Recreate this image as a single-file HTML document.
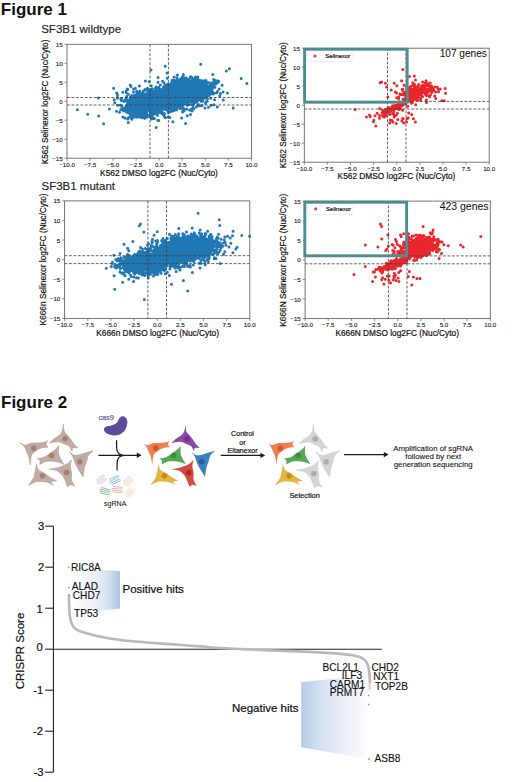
<!DOCTYPE html>
<html><head><meta charset="utf-8"><title>Figure</title><style>
html,body{margin:0;padding:0;background:#fff;width:520px;height:782px;overflow:hidden;}
svg{display:block;}
text{font-family:"Liberation Sans", sans-serif;stroke-linejoin:round;}
.w{stroke:#111;stroke-width:0.25px;}
.fig{font-size:17px;font-weight:bold;fill:#111;}
.sub{font-size:11.5px;fill:#222;stroke:#222;stroke-width:0.15px;}
.tl{font-size:6.2px;fill:#222;stroke:#222;stroke-width:0.12px;}
.al{font-size:8.4px;fill:#111;stroke:#111;stroke-width:0.2px;}
.frame{fill:none;stroke:#5e5e5e;stroke-width:0.85;}
.tick{stroke:#6e6e6e;stroke-width:0.8;}
.dash{stroke:#444;stroke-width:0.85;stroke-dasharray:2.8 1.65;}
.pb{stroke:#1f77b4;stroke-width:3;stroke-linecap:round;fill:none;}
.pr{stroke:#e9262c;stroke-width:3;stroke-linecap:round;fill:none;}
.teal{fill:none;stroke:#4d8d90;stroke-width:2.9;}
.leg{fill:#fff;fill-opacity:0.8;stroke:#e0e0e0;stroke-width:0.5;}
.legt{font-size:6px;fill:#111;stroke:#111;stroke-width:0.2px;}
.genes{font-size:10px;fill:#111;stroke:#111;stroke-width:0.06px;}
.cas{font-size:7.3px;fill:#625a98;stroke:#625a98;stroke-width:0.2px;}
.small{font-size:7.1px;fill:#111;stroke:#111;stroke-width:0.2px;}
.amp{font-size:7.8px;fill:#111;stroke:#111;stroke-width:0.1px;}
.ct{font-size:11.2px;fill:#111;stroke:#111;stroke-width:0.2px;}
.clab{font-size:11.5px;fill:#111;stroke:#111;stroke-width:0.2px;}
.gl{font-size:10.1px;fill:#111;stroke:#111;stroke-width:0.12px;}
.hits{font-size:11.5px;fill:#111;stroke:#111;stroke-width:0.22px;}
</style></head>
<body><svg width="520" height="782" viewBox="0 0 520 782">
<rect width="520" height="782" fill="#fff"/>
<text x="0.8" y="14.7" class="fig">Figure 1</text>
<text x="41.2" y="33.0" class="sub">SF3B1 wildtype</text>
<text x="41.5" y="189.8" class="sub">SF3B1 mutant</text>
<path class="pb" d="M145.4 106.0h0M148.7 106.6h0M142.3 98.0h0M135.5 102.4h0M140.3 101.1h0M134.4 108.1h0M146.0 93.7h0M160.2 94.2h0M139.9 101.7h0M138.5 101.1h0M150.8 115.9h0M149.3 100.9h0M146.5 105.7h0M135.1 102.7h0M145.0 100.8h0M153.1 106.2h0M130.5 115.0h0M140.3 102.8h0M124.3 110.0h0M131.1 107.3h0M125.0 109.1h0M142.8 106.7h0M131.3 118.5h0M148.4 97.6h0M147.1 103.1h0M143.3 98.5h0M117.5 94.9h0M139.4 104.8h0M144.8 114.9h0M146.6 109.7h0M128.4 112.4h0M140.1 107.8h0M134.5 104.8h0M136.4 116.5h0M157.1 102.1h0M136.4 113.7h0M145.0 103.0h0M155.2 104.8h0M138.9 106.8h0M144.1 105.1h0M146.6 107.7h0M146.1 108.1h0M131.8 114.9h0M146.2 104.8h0M160.4 93.4h0M128.3 94.3h0M154.9 96.7h0M146.7 100.6h0M138.3 108.9h0M167.5 95.4h0M153.8 104.6h0M132.1 105.7h0M146.2 106.3h0M151.8 103.8h0M143.3 107.2h0M152.9 104.8h0M144.6 110.9h0M152.8 106.4h0M161.3 90.9h0M137.9 105.4h0M147.6 105.9h0M140.2 101.9h0M146.8 100.6h0M132.2 111.7h0M139.0 106.2h0M143.2 99.6h0M155.3 102.6h0M158.0 103.3h0M130.7 96.6h0M136.6 109.0h0M152.5 103.8h0M123.3 108.7h0M140.2 96.5h0M144.3 115.8h0M159.3 107.7h0M153.0 107.3h0M141.7 101.1h0M141.3 101.4h0M142.6 96.9h0M162.2 112.7h0M140.6 100.7h0M142.0 106.5h0M149.3 108.2h0M144.0 101.7h0M143.2 110.0h0M133.0 117.1h0M145.2 106.8h0M140.5 113.4h0M158.3 107.7h0M152.6 102.2h0M145.1 102.9h0M152.8 95.3h0M141.6 106.0h0M157.0 112.8h0M145.3 109.0h0M151.8 109.5h0M131.1 112.3h0M149.2 102.0h0M126.7 109.3h0M122.9 117.0h0M142.0 100.9h0M135.4 105.8h0M147.2 102.6h0M170.2 102.8h0M136.2 101.6h0M138.5 104.8h0M147.6 97.5h0M150.8 102.0h0M143.4 102.5h0M143.1 102.5h0M153.1 112.5h0M151.1 105.3h0M133.9 106.7h0M144.5 103.5h0M145.8 112.3h0M133.7 96.0h0M148.2 103.9h0M135.9 112.0h0M156.1 113.8h0M147.5 106.2h0M146.4 105.1h0M138.8 109.1h0M144.1 104.2h0M123.3 109.4h0M132.9 102.2h0M149.4 108.6h0M121.8 106.1h0M154.7 98.6h0M126.1 91.1h0M153.7 109.9h0M136.0 107.8h0M154.0 109.0h0M146.8 100.1h0M128.4 112.0h0M159.2 106.7h0M161.3 104.0h0M144.6 110.3h0M142.3 110.2h0M143.6 107.5h0M134.6 117.1h0M157.5 112.2h0M139.4 107.3h0M144.8 103.9h0M136.6 106.2h0M138.4 115.1h0M131.2 108.0h0M159.3 99.4h0M143.7 101.6h0M156.1 104.6h0M145.5 109.7h0M137.7 101.5h0M141.8 108.1h0M139.2 111.6h0M145.5 109.2h0M141.2 96.7h0M142.1 103.6h0M130.1 98.9h0M136.4 107.8h0M163.7 98.4h0M137.9 108.5h0M133.7 106.2h0M149.1 90.4h0M160.9 99.5h0M129.3 108.3h0M143.1 105.3h0M138.4 103.2h0M125.9 98.8h0M153.5 107.0h0M145.1 114.5h0M146.2 106.2h0M137.0 105.0h0M150.4 103.8h0M139.4 97.5h0M143.8 103.0h0M133.1 100.7h0M131.9 111.6h0M160.1 99.0h0M139.8 93.1h0M148.6 100.1h0M145.0 103.2h0M140.5 104.0h0M139.7 94.8h0M152.3 109.6h0M142.0 105.5h0M143.7 102.1h0M145.6 100.4h0M158.4 106.5h0M152.9 102.5h0M149.6 106.0h0M139.1 104.3h0M130.1 106.2h0M155.9 110.6h0M156.1 104.2h0M143.8 99.8h0M151.4 109.8h0M154.0 105.6h0M154.6 100.4h0M155.6 110.2h0M140.3 103.9h0M162.1 109.8h0M131.6 98.9h0M154.9 91.1h0M150.8 92.9h0M155.0 105.4h0M166.2 99.4h0M161.8 103.1h0M132.7 104.7h0M126.7 96.9h0M154.4 111.7h0M134.1 99.3h0M145.2 105.0h0M154.7 96.2h0M127.2 104.5h0M122.0 109.7h0M148.2 102.9h0M145.9 100.5h0M142.7 104.6h0M145.8 101.9h0M135.8 108.1h0M128.6 117.6h0M143.5 99.7h0M134.6 101.3h0M127.2 104.8h0M151.0 104.0h0M144.7 98.8h0M149.9 107.0h0M134.4 109.2h0M138.1 106.1h0M134.3 98.5h0M135.6 113.0h0M147.5 97.8h0M136.7 108.7h0M149.3 110.7h0M149.1 97.3h0M167.8 104.1h0M130.0 112.8h0M155.2 106.2h0M144.4 99.4h0M145.2 97.9h0M129.3 107.9h0M140.3 102.6h0M153.6 100.2h0M144.5 108.4h0M146.3 102.6h0M142.2 105.0h0M158.1 107.0h0M145.1 107.5h0M121.0 105.5h0M137.7 104.9h0M123.6 109.0h0M109.4 108.9h0M139.5 98.7h0M160.1 102.7h0M145.9 99.6h0M132.4 98.5h0M135.0 101.9h0M157.9 91.2h0M147.1 109.3h0M145.9 100.1h0M144.8 106.5h0M145.8 94.1h0M154.3 94.6h0M151.5 115.4h0M147.8 110.0h0M133.8 101.5h0M151.0 99.9h0M137.8 100.9h0M157.5 104.4h0M131.3 102.8h0M143.8 101.0h0M145.3 105.1h0M130.7 99.6h0M164.4 116.5h0M161.5 100.2h0M140.2 110.8h0M153.9 98.8h0M149.6 105.7h0M116.5 111.2h0M148.1 102.4h0M144.7 109.9h0M146.3 109.8h0M133.5 114.2h0M142.4 105.0h0M143.4 102.0h0M158.5 98.2h0M149.1 105.3h0M145.3 98.7h0M162.3 103.7h0M139.2 105.5h0M141.1 101.6h0M125.3 99.7h0M162.7 105.7h0M156.0 105.5h0M155.5 105.1h0M152.8 103.8h0M146.6 109.7h0M147.8 98.7h0M142.6 107.1h0M143.1 102.2h0M146.0 109.3h0M162.1 101.8h0M151.5 102.1h0M144.7 107.1h0M139.0 93.5h0M138.3 102.9h0M163.1 93.7h0M151.0 98.9h0M146.1 108.4h0M141.5 107.0h0M133.1 102.8h0M144.6 104.4h0M155.0 103.9h0M141.0 106.5h0M142.9 115.0h0M142.9 106.1h0M146.6 117.2h0M127.7 103.5h0M142.8 108.9h0M135.9 109.2h0M155.2 105.4h0M136.8 103.6h0M151.8 112.5h0M162.2 113.7h0M141.9 110.9h0M138.7 116.6h0M147.5 110.0h0M145.3 95.7h0M134.4 111.2h0M150.5 100.7h0M167.7 111.3h0M142.5 103.1h0M143.1 106.6h0M133.8 105.6h0M148.9 101.3h0M131.6 95.4h0M133.1 104.2h0M159.5 103.2h0M135.4 110.7h0M157.3 100.7h0M162.2 105.2h0M148.2 99.8h0M151.5 104.6h0M167.0 93.7h0M143.2 116.0h0M138.8 106.7h0M130.4 100.4h0M145.8 106.6h0M161.7 108.3h0M156.0 105.6h0M134.9 113.0h0M135.9 104.5h0M139.8 91.1h0M148.6 98.0h0M143.1 111.1h0M147.7 109.5h0M148.7 106.8h0M142.1 99.1h0M144.9 109.3h0M147.7 108.5h0M144.4 99.7h0M150.9 99.5h0M166.1 105.7h0M151.9 110.7h0M146.0 113.4h0M126.7 109.6h0M149.7 117.1h0M123.8 101.5h0M129.8 109.0h0M154.8 101.5h0M153.2 93.7h0M143.7 98.1h0M126.5 112.2h0M141.3 100.0h0M137.9 98.5h0M152.4 108.5h0M170.3 108.8h0M147.8 105.2h0M136.7 114.2h0M132.4 97.0h0M144.7 118.3h0M143.4 111.0h0M132.6 106.9h0M146.7 105.9h0M132.6 104.4h0M157.7 102.5h0M157.1 105.3h0M157.4 97.6h0M140.1 117.1h0M151.1 104.4h0M143.9 108.8h0M141.1 104.1h0M141.6 103.6h0M131.0 110.6h0M129.4 109.1h0M154.2 99.7h0M143.3 102.8h0M147.8 108.4h0M156.5 92.5h0M126.2 92.6h0M136.7 113.4h0M147.3 102.9h0M149.7 90.2h0M141.2 100.4h0M156.8 102.8h0M147.7 105.7h0M131.9 108.4h0M135.1 106.4h0M154.3 107.3h0M150.5 100.2h0M124.4 108.0h0M160.3 106.4h0M152.0 111.1h0M160.2 104.2h0M141.1 110.0h0M142.1 105.9h0M132.9 99.4h0M173.4 101.1h0M143.4 101.9h0M162.9 101.7h0M138.2 104.7h0M147.2 105.3h0M126.9 107.4h0M141.1 100.6h0M156.3 110.3h0M131.5 97.8h0M157.2 103.9h0M149.1 108.7h0M133.8 108.0h0M139.8 108.8h0M140.3 104.0h0M144.8 108.8h0M139.4 98.5h0M136.2 109.6h0M142.0 117.7h0M134.0 109.4h0M131.1 116.8h0M144.8 104.9h0M155.1 98.2h0M128.4 101.9h0M145.4 112.2h0M138.2 109.4h0M134.6 95.1h0M154.8 102.4h0M139.6 104.9h0M161.9 97.8h0M136.7 91.2h0M149.6 97.1h0M142.9 104.0h0M137.0 103.1h0M151.9 100.8h0M143.7 108.2h0M152.0 110.3h0M144.8 104.4h0M133.4 110.7h0M144.2 105.1h0M145.9 104.1h0M156.0 90.9h0M135.3 110.0h0M144.9 105.4h0M126.3 106.6h0M152.6 101.8h0M133.4 99.4h0M125.4 108.5h0M144.7 109.4h0M157.6 113.3h0M128.5 110.8h0M133.3 102.2h0M137.1 104.8h0M132.9 111.1h0M149.6 106.6h0M136.4 104.9h0M137.4 102.2h0M151.8 107.7h0M137.0 106.5h0M150.2 114.7h0M134.6 111.7h0M132.0 96.2h0M125.1 118.1h0M166.0 105.5h0M141.8 103.6h0M148.1 106.6h0M145.0 109.3h0M147.1 104.9h0M145.9 104.7h0M166.5 104.0h0M133.9 115.9h0M128.1 106.4h0M134.2 110.1h0M130.6 108.5h0M153.6 103.0h0M154.4 100.6h0M134.7 100.1h0M130.0 108.3h0M141.4 99.6h0M160.8 97.2h0M114.2 99.8h0M151.2 96.5h0M133.5 106.1h0M156.9 105.1h0M133.4 100.6h0M142.2 112.6h0M128.7 104.3h0M134.6 108.2h0M160.7 106.0h0M154.4 114.1h0M140.9 109.9h0M135.7 105.3h0M124.4 100.7h0M141.0 99.3h0M145.0 105.1h0M144.4 105.8h0M144.3 109.4h0M133.0 103.0h0M144.6 106.1h0M144.9 101.3h0M159.6 94.0h0M166.0 103.8h0M143.9 113.2h0M136.9 110.0h0M144.7 113.0h0M138.6 111.8h0M137.2 97.7h0M144.7 103.4h0M133.8 113.9h0M152.1 100.6h0M144.2 97.6h0M148.1 106.6h0M143.3 108.6h0M137.3 107.0h0M134.9 103.6h0M142.7 101.2h0M139.3 98.3h0M148.0 97.7h0M145.3 98.0h0M130.3 97.7h0M146.1 100.9h0M130.5 114.1h0M138.5 105.8h0M142.1 103.1h0M122.4 108.0h0M146.4 99.5h0M147.0 106.6h0M143.6 110.0h0M140.7 96.7h0M141.2 101.1h0M134.6 104.0h0M142.4 99.6h0M139.3 99.0h0M146.4 102.7h0M132.0 119.3h0M148.0 108.4h0M147.0 107.2h0M143.8 110.3h0M140.5 103.8h0M151.5 97.6h0M127.0 108.4h0M150.5 110.8h0M148.1 93.0h0M148.5 107.1h0M149.6 111.4h0M138.1 103.7h0M142.5 102.4h0M152.4 108.3h0M150.1 99.9h0M147.7 107.3h0M128.6 110.8h0M151.3 103.3h0M158.3 99.6h0M156.5 107.7h0M148.0 102.7h0M128.1 106.1h0M155.8 88.1h0M143.7 108.8h0M117.4 98.3h0M149.5 104.7h0M128.9 106.2h0M131.0 101.3h0M138.3 100.0h0M159.4 96.8h0M141.3 103.0h0M148.4 107.9h0M164.7 106.7h0M163.0 100.9h0M144.2 101.4h0M142.7 96.9h0M131.4 103.0h0M137.7 99.1h0M150.1 95.8h0M149.7 103.5h0M146.6 113.0h0M156.4 110.8h0M136.8 113.3h0M144.7 95.7h0M153.5 109.1h0M151.8 97.4h0M157.2 100.7h0M149.8 94.7h0M141.9 99.2h0M149.4 105.0h0M134.3 106.4h0M127.2 105.1h0M151.8 103.3h0M144.8 107.7h0M148.8 104.7h0M126.6 96.5h0M141.3 114.5h0M138.7 103.5h0M135.8 110.3h0M120.4 104.9h0M141.7 100.1h0M155.3 104.5h0M149.6 100.1h0M138.7 114.0h0M145.2 98.4h0M153.7 107.7h0M114.8 102.7h0M144.0 103.7h0M151.4 119.0h0M152.9 108.6h0M164.2 102.4h0M157.9 95.2h0M148.8 102.9h0M148.7 103.0h0M154.1 112.2h0M139.4 96.9h0M144.9 94.5h0M155.4 104.0h0M167.0 104.8h0M143.6 113.9h0M144.8 99.7h0M147.6 89.2h0M160.2 99.8h0M145.0 97.5h0M161.6 100.8h0M134.7 110.8h0M143.3 97.2h0M143.2 111.8h0M154.1 105.4h0M156.9 102.5h0M128.7 100.5h0M135.2 102.8h0M149.1 102.3h0M138.1 109.4h0M128.5 112.8h0M156.9 103.7h0M150.8 108.4h0M150.8 111.8h0M140.1 112.1h0M156.8 106.9h0M142.7 115.3h0M157.5 111.7h0M135.3 114.5h0M135.9 104.1h0M147.6 102.2h0M137.6 93.7h0M152.8 112.8h0M148.2 108.4h0M135.2 100.0h0M146.2 105.9h0M141.5 106.7h0M155.5 94.5h0M138.4 106.9h0M140.5 111.5h0M158.8 111.4h0M170.1 101.5h0M167.5 101.8h0M146.1 112.4h0M147.8 110.1h0M162.3 100.8h0M144.0 101.5h0M134.6 108.9h0M146.7 101.1h0M150.4 101.2h0M136.2 115.2h0M127.2 107.4h0M129.5 103.1h0M152.7 107.5h0M137.0 117.2h0M143.8 106.4h0M147.7 100.3h0M152.2 95.4h0M141.7 117.3h0M150.9 89.6h0M135.5 111.6h0M141.4 99.5h0M134.0 98.3h0M157.9 98.5h0M145.1 103.8h0M137.2 111.7h0M141.5 101.3h0M142.9 108.8h0M153.1 118.6h0M127.7 89.5h0M133.9 101.2h0M141.2 94.6h0M173.4 108.4h0M155.9 95.8h0M144.1 95.7h0M153.2 95.5h0M168.1 103.6h0M176.0 98.9h0M186.8 93.2h0M165.3 87.0h0M170.7 89.9h0M189.7 91.8h0M178.2 85.5h0M187.0 94.5h0M187.5 88.2h0M209.2 90.9h0M202.5 92.9h0M188.2 87.3h0M201.5 93.6h0M180.4 80.9h0M185.1 92.4h0M198.4 79.7h0M175.5 95.2h0M185.7 86.8h0M174.7 95.8h0M189.9 95.8h0M206.0 88.0h0M180.7 86.6h0M191.1 95.4h0M179.2 84.3h0M176.5 93.8h0M175.6 89.4h0M204.1 87.0h0M213.8 85.6h0M193.8 97.7h0M181.1 82.2h0M196.2 86.5h0M185.2 91.6h0M197.2 93.9h0M191.8 97.3h0M191.7 95.8h0M195.1 86.6h0M182.6 91.4h0M184.4 95.0h0M170.5 92.8h0M184.0 82.3h0M173.6 91.7h0M187.2 92.3h0M178.6 83.6h0M189.8 87.3h0M193.5 89.1h0M173.6 93.0h0M180.1 97.2h0M178.7 95.5h0M196.6 91.4h0M206.8 89.7h0M197.7 87.4h0M185.0 87.0h0M204.2 87.7h0M172.6 89.2h0M204.6 93.5h0M181.7 100.0h0M159.2 93.3h0M216.8 92.7h0M205.4 91.8h0M177.8 91.3h0M190.5 95.3h0M186.4 94.8h0M189.8 89.9h0M173.0 89.6h0M181.5 92.9h0M193.7 86.9h0M191.1 90.4h0M201.4 93.7h0M189.5 89.3h0M213.6 79.5h0M181.1 93.0h0M191.5 83.9h0M168.4 83.9h0M175.4 83.0h0M202.8 92.7h0M178.7 80.4h0M194.3 88.7h0M188.0 90.7h0M177.6 91.1h0M185.0 86.8h0M183.3 89.5h0M183.5 90.5h0M196.7 83.1h0M195.6 92.6h0M182.6 94.7h0M179.1 86.2h0M191.7 86.0h0M187.6 84.4h0M199.6 94.1h0M216.9 83.1h0M197.6 86.8h0M188.3 81.2h0M186.9 95.5h0M179.6 88.9h0M179.1 91.2h0M178.1 97.5h0M184.5 93.0h0M184.2 84.4h0M196.6 91.3h0M184.5 93.1h0M186.6 85.5h0M175.8 85.4h0M206.1 84.0h0M194.1 93.0h0M207.7 88.9h0M197.2 84.2h0M204.5 91.9h0M186.1 93.1h0M196.3 85.2h0M217.4 80.8h0M175.7 95.5h0M201.2 101.2h0M206.7 95.5h0M193.2 94.1h0M196.8 89.8h0M202.3 86.0h0M181.6 90.5h0M193.1 92.6h0M179.3 89.2h0M181.4 94.4h0M182.0 90.0h0M187.2 92.6h0M190.3 76.8h0M193.6 85.4h0M173.3 94.1h0M210.2 93.2h0M201.3 91.0h0M196.6 96.9h0M184.8 93.1h0M187.7 93.0h0M194.7 85.0h0M193.2 91.3h0M170.5 94.0h0M196.8 95.4h0M220.4 93.6h0M168.6 90.7h0M199.5 90.0h0M192.7 83.9h0M187.5 92.5h0M203.6 83.8h0M175.8 88.8h0M190.5 89.4h0M204.6 98.3h0M186.6 95.7h0M184.2 86.2h0M190.0 82.8h0M183.9 88.7h0M205.6 85.1h0M178.8 91.8h0M198.2 90.8h0M175.1 93.2h0M196.0 84.6h0M187.6 87.9h0M160.6 91.8h0M188.6 91.0h0M177.1 87.4h0M183.9 88.2h0M205.5 92.7h0M176.5 81.9h0M177.1 88.8h0M204.4 88.7h0M190.0 82.4h0M205.5 83.9h0M192.2 89.7h0M179.1 87.4h0M188.0 94.6h0M202.1 91.9h0M199.0 99.7h0M188.7 83.7h0M189.2 98.4h0M187.5 86.3h0M182.4 93.7h0M209.8 93.2h0M188.8 90.4h0M176.4 88.8h0M183.5 86.8h0M196.6 80.8h0M195.7 87.5h0M187.2 85.4h0M181.4 92.6h0M189.0 86.1h0M170.5 89.6h0M174.5 92.3h0M197.4 89.5h0M183.5 90.0h0M192.8 88.4h0M202.0 87.0h0M195.8 91.6h0M188.9 93.0h0M211.9 84.9h0M196.0 97.2h0M184.8 92.6h0M196.7 81.8h0M193.2 102.1h0M179.4 93.2h0M189.5 86.2h0M186.9 97.4h0M167.3 78.2h0M186.8 101.8h0M185.6 82.8h0M183.9 82.3h0M170.8 86.0h0M184.8 90.7h0M188.3 87.8h0M189.8 93.7h0M176.3 86.2h0M195.6 94.5h0M175.5 91.4h0M186.3 84.9h0M202.9 94.1h0M181.2 91.5h0M183.1 89.0h0M200.4 95.3h0M184.5 84.2h0M185.5 88.0h0M191.1 96.5h0M200.1 89.2h0M164.7 94.2h0M179.7 93.0h0M177.7 89.6h0M176.9 93.4h0M179.4 85.3h0M179.6 93.2h0M192.0 84.7h0M179.0 90.1h0M190.0 85.4h0M193.1 91.8h0M180.8 92.2h0M190.1 94.9h0M206.5 86.0h0M192.2 84.9h0M181.8 79.8h0M188.0 83.4h0M178.8 88.7h0M191.6 90.3h0M198.1 87.2h0M179.8 90.0h0M186.4 82.7h0M200.8 84.5h0M183.3 93.7h0M190.7 92.6h0M177.6 83.5h0M179.8 88.4h0M183.2 90.8h0M211.8 82.8h0M184.4 91.5h0M183.1 91.1h0M182.7 91.9h0M186.9 98.8h0M195.7 85.1h0M190.7 95.1h0M210.5 91.2h0M191.0 92.9h0M204.1 85.4h0M191.6 89.7h0M195.1 89.1h0M173.4 98.1h0M187.4 90.0h0M188.0 96.5h0M186.1 88.1h0M165.9 88.8h0M198.0 89.1h0M184.6 80.0h0M184.1 87.2h0M186.0 86.8h0M186.3 88.9h0M193.0 90.2h0M175.2 85.5h0M178.8 84.7h0M191.8 95.5h0M190.2 84.4h0M184.7 87.2h0M182.6 85.2h0M179.9 87.7h0M188.1 95.4h0M201.2 94.5h0M177.5 81.4h0M204.9 87.6h0M197.7 95.8h0M183.9 88.1h0M197.0 90.8h0M173.2 98.9h0M170.3 101.1h0M175.0 97.7h0M184.4 88.4h0M185.3 89.9h0M183.2 90.9h0M189.8 88.1h0M166.1 87.7h0M194.0 99.2h0M173.7 91.6h0M181.7 93.7h0M184.3 95.5h0M176.4 92.6h0M174.2 90.7h0M178.0 91.2h0M188.6 96.4h0M195.0 91.5h0M194.7 79.7h0M178.2 94.9h0M180.3 97.8h0M178.9 88.6h0M193.5 86.4h0M167.1 88.3h0M201.8 94.2h0M183.6 85.0h0M180.4 93.6h0M192.3 94.7h0M199.7 91.9h0M192.3 89.8h0M199.9 85.6h0M190.1 86.5h0M201.7 89.0h0M201.9 84.5h0M187.6 89.1h0M204.0 84.6h0M190.5 96.0h0M189.6 96.9h0M178.9 86.3h0M185.6 96.2h0M196.9 90.5h0M174.8 90.6h0M195.6 91.5h0M192.4 91.5h0M191.6 82.8h0M165.3 102.5h0M187.6 85.4h0M195.6 78.3h0M180.6 89.7h0M189.7 89.5h0M163.5 87.2h0M195.8 80.5h0M181.7 95.4h0M197.9 88.7h0M169.2 91.2h0M196.0 86.5h0M186.2 88.8h0M197.3 86.0h0M178.9 91.9h0M182.1 89.5h0M212.5 91.6h0M179.9 93.0h0M181.2 90.5h0M185.8 90.3h0M177.9 95.5h0M201.3 81.5h0M207.0 89.3h0M181.2 96.3h0M170.4 85.1h0M201.1 92.5h0M200.5 86.6h0M197.4 89.2h0M201.0 87.7h0M179.5 89.1h0M186.9 92.3h0M174.0 89.9h0M173.7 80.6h0M199.1 99.6h0M181.6 89.5h0M212.9 86.3h0M189.5 94.4h0M181.9 96.3h0M197.2 78.9h0M207.8 90.4h0M193.9 79.4h0M175.8 87.5h0M192.6 88.9h0M203.3 86.6h0M183.5 86.7h0M180.5 84.3h0M199.5 86.9h0M190.2 88.7h0M177.0 89.2h0M184.7 83.3h0M180.7 86.0h0M191.8 94.1h0M189.9 92.4h0M200.9 87.4h0M196.2 92.1h0M172.1 92.0h0M193.0 93.8h0M198.2 90.3h0M193.5 87.3h0M199.6 84.3h0M182.9 89.7h0M178.6 80.1h0M198.6 89.4h0M177.4 74.9h0M165.8 85.8h0M199.6 86.6h0M181.0 92.2h0M185.5 103.0h0M173.9 90.9h0M174.6 89.3h0M176.4 81.0h0M184.9 96.2h0M192.6 80.3h0M164.3 91.8h0M196.7 85.7h0M176.2 102.0h0M177.4 89.3h0M195.9 90.8h0M187.9 86.3h0M172.4 89.8h0M208.3 94.0h0M179.6 85.4h0M191.3 86.1h0M190.8 86.6h0M203.7 84.0h0M183.9 84.5h0M199.4 89.1h0M180.8 96.2h0M200.6 95.5h0M180.6 83.5h0M184.9 86.3h0M208.8 88.1h0M192.1 91.4h0M189.9 89.3h0M212.5 88.3h0M192.5 90.9h0M180.1 93.2h0M196.5 78.9h0M176.2 89.0h0M200.7 91.8h0M201.5 95.1h0M182.6 93.2h0M182.0 86.4h0M190.6 85.8h0M188.9 90.5h0M178.3 89.7h0M194.7 90.7h0M167.1 95.7h0M184.1 83.5h0M184.4 87.9h0M185.8 77.9h0M192.0 92.9h0M175.7 90.7h0M194.9 85.0h0M186.8 90.7h0M181.8 96.3h0M174.2 94.6h0M176.2 89.6h0M192.5 87.7h0M178.5 90.4h0M189.4 84.7h0M200.0 84.3h0M199.7 87.5h0M205.2 88.6h0M185.6 90.8h0M177.2 87.4h0M199.5 84.7h0M192.0 89.0h0M200.6 86.8h0M188.8 91.0h0M201.4 95.6h0M197.7 93.8h0M196.3 85.5h0M194.0 87.1h0M192.9 81.8h0M191.2 89.1h0M191.1 85.3h0M199.2 82.8h0M183.3 85.0h0M207.1 91.5h0M187.6 90.4h0M199.2 88.4h0M187.7 94.2h0M186.1 87.4h0M210.3 83.7h0M185.4 91.9h0M175.2 80.8h0M181.1 91.2h0M185.3 90.6h0M211.6 89.6h0M190.9 92.7h0M198.6 87.1h0M178.1 89.9h0M192.4 81.5h0M195.8 86.3h0M207.8 86.1h0M181.3 90.9h0M195.1 95.9h0M191.9 89.8h0M177.9 94.0h0M188.5 85.0h0M185.9 89.7h0M164.0 82.7h0M195.1 85.7h0M194.4 85.3h0M184.0 88.6h0M174.5 89.1h0M204.4 85.7h0M191.5 85.0h0M199.5 92.4h0M203.7 86.5h0M183.2 77.4h0M197.3 89.5h0M186.1 90.8h0M188.0 92.8h0M187.8 96.4h0M188.7 83.9h0M200.5 88.7h0M190.0 88.0h0M187.1 80.8h0M185.8 77.8h0M192.3 93.5h0M179.2 84.9h0M183.4 86.8h0M188.1 87.6h0M182.7 87.5h0M187.4 89.6h0M182.2 82.3h0M210.0 85.6h0M202.8 87.2h0M193.5 83.4h0M188.1 85.3h0M211.9 86.3h0M192.1 87.8h0M187.8 81.2h0M191.9 86.9h0M191.9 89.7h0M203.7 92.8h0M188.5 91.1h0M211.0 93.4h0M179.4 89.4h0M196.1 87.9h0M178.1 99.6h0M208.0 88.5h0M185.2 86.6h0M188.1 88.7h0M198.5 93.5h0M202.0 82.9h0M176.9 93.3h0M185.0 95.4h0M173.9 95.2h0M190.2 89.5h0M187.6 84.9h0M185.0 84.1h0M181.4 88.8h0M184.6 95.3h0M180.8 92.9h0M194.3 93.5h0M204.8 89.6h0M168.2 98.8h0M187.5 89.0h0M184.3 86.6h0M193.9 89.9h0M178.6 87.8h0M187.2 94.0h0M177.7 96.8h0M196.1 92.2h0M189.8 84.0h0M187.0 84.7h0M192.6 91.5h0M186.1 83.9h0M172.2 91.7h0M195.0 82.1h0M191.8 87.1h0M187.1 91.7h0M199.1 85.3h0M201.6 92.6h0M177.1 94.4h0M180.4 96.7h0M205.1 87.5h0M203.7 89.1h0M180.9 90.2h0M176.2 92.0h0M181.9 83.0h0M183.4 91.7h0M171.9 93.6h0M189.0 83.6h0M175.1 83.4h0M175.9 88.5h0M198.4 97.3h0M181.5 92.6h0M187.9 86.6h0M195.4 89.1h0M197.3 81.8h0M185.1 96.1h0M189.2 86.3h0M180.0 92.8h0M207.2 82.4h0M195.6 89.5h0M177.0 85.1h0M188.7 92.5h0M196.3 95.8h0M193.8 94.5h0M208.1 91.5h0M203.3 93.7h0M183.0 84.1h0M187.8 83.2h0M175.1 88.8h0M191.3 94.2h0M190.3 90.0h0M217.4 91.4h0M189.7 82.6h0M166.5 89.0h0M181.6 87.5h0M189.9 91.3h0M175.4 99.6h0M179.5 93.5h0M184.8 94.9h0M192.3 87.6h0M187.0 89.1h0M179.3 93.7h0M197.1 90.9h0M183.0 82.3h0M183.4 94.2h0M174.1 94.5h0M180.4 90.9h0M195.6 92.5h0M171.6 92.3h0M187.9 87.0h0M196.3 81.0h0M184.7 98.1h0M191.2 89.5h0M176.9 89.8h0M202.6 89.3h0M200.4 89.8h0M191.2 91.0h0M170.1 85.6h0M177.6 92.2h0M199.1 89.6h0M206.9 88.7h0M191.8 88.8h0M201.9 89.7h0M182.3 85.1h0M186.7 89.6h0M188.7 88.7h0M193.2 89.5h0M172.5 94.9h0M198.7 93.0h0M202.7 93.8h0M176.5 89.1h0M174.3 93.5h0M192.4 94.3h0M181.8 88.7h0M163.6 88.1h0M197.3 97.4h0M190.4 81.4h0M183.7 89.6h0M211.1 89.0h0M190.2 84.4h0M180.7 89.5h0M189.8 92.3h0M177.7 79.6h0M180.6 94.9h0M192.8 89.8h0M182.8 85.7h0M183.9 94.7h0M206.4 89.2h0M197.8 87.2h0M197.2 77.8h0M194.3 93.4h0M193.8 89.5h0M204.1 85.7h0M188.5 89.1h0M208.4 94.3h0M178.6 88.0h0M186.0 89.1h0M174.1 88.0h0M185.1 84.3h0M194.2 84.4h0M204.1 86.9h0M181.7 88.3h0M188.8 94.7h0M184.9 90.3h0M180.9 88.8h0M176.1 91.9h0M189.3 89.0h0M170.3 94.2h0M189.9 82.2h0M188.9 79.3h0M181.7 91.6h0M178.0 88.1h0M174.0 91.2h0M208.5 82.6h0M174.5 88.1h0M205.2 88.4h0M195.1 90.3h0M184.8 89.1h0M176.4 94.8h0M199.8 85.8h0M207.0 92.0h0M178.8 87.4h0M185.5 89.0h0M199.9 83.8h0M192.3 89.4h0M209.9 83.7h0M182.7 94.1h0M194.5 86.3h0M175.4 91.1h0M210.9 87.6h0M181.0 89.5h0M165.3 86.1h0M187.4 99.1h0M187.2 88.0h0M209.0 95.6h0M185.1 83.9h0M188.6 98.8h0M195.0 93.9h0M205.5 96.6h0M188.0 81.8h0M199.7 95.1h0M194.2 88.7h0M185.6 92.2h0M189.5 97.9h0M189.0 91.1h0M179.0 86.8h0M201.6 89.8h0M174.0 85.7h0M201.1 90.6h0M198.8 89.0h0M187.7 91.3h0M180.6 88.2h0M186.3 80.6h0M193.7 87.5h0M196.6 88.2h0M191.7 92.3h0M199.2 92.6h0M182.8 82.8h0M191.2 94.6h0M172.1 94.5h0M196.8 89.6h0M190.3 91.4h0M184.3 80.4h0M201.0 100.1h0M196.0 87.4h0M158.8 87.5h0M189.1 94.8h0M173.3 93.2h0M200.0 86.9h0M215.1 80.6h0M183.2 94.1h0M189.5 96.9h0M186.0 85.0h0M192.4 82.1h0M195.5 90.8h0M202.4 99.3h0M178.2 83.1h0M205.4 89.7h0M178.8 84.6h0M191.6 89.6h0M201.0 90.7h0M196.3 91.3h0M178.8 83.0h0M181.3 83.0h0M183.8 99.8h0M188.2 93.9h0M200.9 80.5h0M175.0 91.8h0M193.7 95.7h0M195.2 89.2h0M194.6 89.7h0M193.6 89.7h0M204.8 91.0h0M193.9 90.7h0M197.8 91.2h0M194.7 87.6h0M207.7 92.5h0M168.6 91.7h0M202.3 89.6h0M185.9 83.4h0M185.7 87.9h0M178.4 90.5h0M168.9 87.8h0M184.7 87.7h0M181.4 84.7h0M193.9 86.9h0M173.1 81.7h0M203.9 82.5h0M191.6 89.5h0M186.1 91.6h0M181.2 85.6h0M180.4 87.4h0M176.7 90.5h0M182.9 96.7h0M188.8 98.1h0M186.8 87.9h0M173.7 86.5h0M185.9 85.8h0M179.2 96.0h0M190.4 84.5h0M208.5 91.1h0M195.3 87.3h0M185.4 87.7h0M171.5 94.0h0M173.7 92.9h0M170.8 100.1h0M196.4 93.5h0M180.6 98.4h0M189.4 87.4h0M182.1 89.5h0M189.7 85.1h0M203.6 87.1h0M181.4 92.8h0M185.1 88.0h0M180.2 91.7h0M198.0 86.2h0M177.8 88.5h0M176.7 94.7h0M174.0 90.1h0M173.8 89.9h0M193.7 90.7h0M215.9 84.0h0M178.2 81.9h0M198.8 90.8h0M191.4 91.0h0M177.0 100.6h0M185.8 90.2h0M186.2 91.7h0M181.4 100.0h0M209.2 87.2h0M168.5 87.6h0M192.7 92.8h0M192.2 91.1h0M182.6 94.3h0M190.3 85.8h0M198.0 96.2h0M190.3 90.9h0M193.1 80.1h0M196.1 88.9h0M167.2 88.2h0M204.4 89.5h0M212.9 93.9h0M199.1 89.2h0M199.5 87.1h0M173.8 95.0h0M187.4 87.9h0M180.1 84.0h0M182.5 84.7h0M199.0 96.5h0M180.2 94.5h0M187.3 97.2h0M168.5 85.3h0M187.0 86.7h0M189.7 86.1h0M181.2 94.0h0M181.1 95.3h0M208.7 88.2h0M175.9 89.6h0M177.6 94.0h0M180.1 89.2h0M201.4 85.9h0M211.0 87.4h0M192.2 94.2h0M181.1 99.8h0M184.2 90.9h0M200.0 88.2h0M179.0 91.1h0M204.1 90.8h0M203.7 92.1h0M189.4 86.1h0M195.6 89.4h0M196.7 88.5h0M205.2 93.3h0M177.6 92.9h0M201.2 88.1h0M184.7 94.4h0M180.6 95.8h0M189.8 91.0h0M186.4 83.9h0M178.2 89.0h0M171.8 83.3h0M178.7 90.5h0M204.1 90.3h0M209.5 95.1h0M195.6 91.9h0M201.3 82.1h0M183.2 88.2h0M187.9 86.1h0M191.7 86.0h0M177.2 90.0h0M178.2 90.9h0M189.7 88.9h0M185.3 86.5h0M177.4 87.8h0M192.8 87.0h0M185.9 88.9h0M199.5 92.6h0M188.6 90.7h0M185.5 94.1h0M190.1 84.7h0M186.9 99.5h0M181.6 90.8h0M184.4 78.4h0M196.7 90.7h0M195.6 94.5h0M202.3 89.0h0M170.8 84.2h0M184.5 90.4h0M184.3 86.8h0M190.5 88.9h0M183.9 91.5h0M183.3 74.8h0M197.0 88.8h0M190.6 91.9h0M176.3 92.3h0M202.9 87.0h0M199.3 87.1h0M182.6 86.1h0M197.5 88.4h0M180.9 96.6h0M200.6 86.4h0M186.4 91.0h0M180.2 91.2h0M184.7 96.7h0M180.6 92.6h0M190.7 92.8h0M190.6 89.6h0M189.1 96.3h0M182.8 89.5h0M149.9 90.6h0M189.7 94.7h0M168.6 93.3h0M191.3 93.4h0M200.7 84.7h0M191.6 101.3h0M184.6 91.3h0M186.8 97.4h0M187.3 91.6h0M182.9 85.7h0M182.5 92.7h0M178.9 89.3h0M201.3 92.9h0M188.5 80.3h0M198.8 84.7h0M186.1 84.3h0M189.5 95.7h0M186.9 94.8h0M193.6 84.2h0M197.5 90.0h0M191.2 90.6h0M181.6 88.2h0M180.4 95.8h0M206.3 85.0h0M185.7 89.5h0M185.6 87.4h0M204.2 92.0h0M200.2 86.5h0M194.4 92.6h0M184.5 85.2h0M213.7 83.0h0M192.9 85.0h0M194.5 86.8h0M186.9 86.6h0M173.7 102.9h0M174.6 86.2h0M193.0 90.6h0M192.9 88.8h0M186.2 90.9h0M176.3 96.6h0M173.4 92.7h0M185.2 86.5h0M173.3 83.5h0M198.2 92.0h0M200.9 93.2h0M218.7 81.3h0M198.0 93.2h0M182.4 80.0h0M179.5 89.7h0M152.1 95.3h0M182.4 85.1h0M186.8 81.6h0M199.0 95.8h0M195.2 81.8h0M194.9 90.5h0M191.0 82.4h0M195.7 91.0h0M204.1 96.2h0M177.4 87.6h0M183.9 85.3h0M174.0 80.2h0M205.9 80.6h0M202.5 85.6h0M196.7 90.2h0M176.0 92.5h0M190.5 90.8h0M186.2 93.5h0M189.6 90.7h0M186.7 101.6h0M194.2 88.4h0M184.5 89.8h0M197.8 77.0h0M191.3 85.8h0M185.6 91.9h0M187.5 86.9h0M184.0 95.5h0M197.3 91.9h0M185.8 98.4h0M191.8 82.6h0M184.5 86.9h0M173.0 95.7h0M198.3 89.3h0M177.5 85.5h0M195.9 86.8h0M193.2 87.5h0M171.1 94.3h0M178.7 92.9h0M183.3 89.3h0M180.0 85.5h0M176.2 94.0h0M196.6 94.4h0M186.2 84.2h0M192.8 93.7h0M184.1 84.6h0M191.9 88.2h0M180.7 85.7h0M188.4 81.3h0M194.9 86.0h0M189.2 85.8h0M183.9 94.0h0M177.2 93.3h0M190.5 86.4h0M192.4 82.1h0M186.0 83.0h0M180.5 78.9h0M194.5 87.8h0M215.0 87.3h0M185.5 84.9h0M192.3 89.2h0M192.7 89.6h0M161.5 95.6h0M190.0 84.7h0M181.2 94.9h0M203.4 86.4h0M186.0 96.3h0M180.5 84.7h0M186.4 94.4h0M190.5 85.4h0M182.8 97.3h0M188.1 91.6h0M174.3 84.6h0M186.3 93.4h0M196.9 88.8h0M209.6 90.8h0M196.2 100.1h0M191.6 87.9h0M201.3 86.9h0M199.5 94.2h0M206.3 86.0h0M200.2 92.7h0M187.5 94.3h0M191.4 89.3h0M190.6 92.6h0M191.9 78.5h0M190.8 96.7h0M180.4 86.4h0M166.4 85.8h0M181.6 99.1h0M167.2 98.6h0M189.4 86.8h0M188.8 91.8h0M170.9 88.5h0M196.0 83.8h0M197.9 90.8h0M189.7 94.5h0M206.4 101.6h0M208.5 87.6h0M175.9 94.4h0M199.7 87.5h0M193.4 88.2h0M193.1 95.8h0M198.6 80.9h0M181.1 84.7h0M182.4 85.8h0M179.9 95.5h0M180.7 91.8h0M187.7 92.1h0M173.3 92.1h0M177.6 95.3h0M194.8 87.2h0M188.0 88.4h0M192.8 87.6h0M168.7 92.8h0M180.4 83.8h0M182.8 88.9h0M189.0 102.4h0M182.5 92.8h0M198.6 89.3h0M188.1 84.9h0M188.9 90.9h0M188.8 90.7h0M196.2 92.3h0M183.7 86.6h0M200.6 91.1h0M193.6 92.1h0M190.3 92.9h0M189.1 86.8h0M194.2 91.8h0M199.5 96.9h0M198.7 86.1h0M192.7 92.6h0M198.0 87.4h0M190.0 87.7h0M202.0 83.2h0M188.4 84.6h0M166.7 93.2h0M202.9 89.6h0M189.8 95.5h0M176.3 82.1h0M186.6 87.5h0M179.3 83.3h0M211.0 90.0h0M194.0 98.9h0M172.1 83.0h0M194.5 88.8h0M184.5 89.0h0M209.0 88.3h0M177.5 86.9h0M164.9 88.0h0M189.4 97.0h0M185.0 84.5h0M184.3 92.2h0M166.0 92.7h0M193.2 81.1h0M206.4 84.3h0M168.5 92.0h0M201.1 97.7h0M182.7 89.0h0M213.6 85.8h0M193.3 89.7h0M186.7 95.5h0M200.4 92.7h0M194.3 95.2h0M182.4 88.7h0M196.2 85.3h0M183.3 84.9h0M169.7 93.8h0M210.2 87.4h0M185.0 87.0h0M182.2 92.2h0M192.3 90.0h0M172.2 80.2h0M174.4 89.2h0M183.4 85.5h0M183.2 91.8h0M189.5 89.2h0M200.6 97.0h0M183.7 89.8h0M193.9 83.6h0M195.1 79.3h0M177.2 84.3h0M191.1 86.1h0M178.7 89.7h0M200.0 91.8h0M193.5 90.0h0M188.9 86.6h0M174.5 93.8h0M189.9 85.0h0M180.6 94.5h0M196.2 97.5h0M187.4 94.3h0M180.1 97.7h0M198.5 95.5h0M196.4 83.8h0M182.4 90.7h0M201.0 87.9h0M185.5 84.2h0M185.4 83.7h0M190.0 91.8h0M180.7 83.6h0M184.0 87.9h0M187.0 89.5h0M204.9 86.7h0M204.6 95.5h0M186.0 93.3h0M205.8 89.2h0M188.2 86.6h0M192.7 91.1h0M198.1 89.7h0M191.8 84.8h0M214.3 81.7h0M191.3 85.7h0M176.0 84.1h0M202.5 90.8h0M184.3 91.1h0M185.5 88.1h0M157.0 92.3h0M199.3 91.4h0M197.4 81.3h0M197.2 90.1h0M199.1 93.6h0M206.6 86.4h0M188.2 80.8h0M198.6 88.7h0M180.8 84.0h0M185.0 91.7h0M199.9 91.3h0M192.9 92.6h0M174.6 90.8h0M192.5 80.6h0M186.8 95.0h0M180.0 82.1h0M193.3 94.0h0M184.4 90.8h0M172.1 86.3h0M176.9 87.0h0M207.5 87.3h0M172.6 98.0h0M191.1 87.7h0M195.2 94.0h0M195.5 77.0h0M175.7 91.1h0M185.3 88.7h0M190.2 94.8h0M197.2 91.4h0M181.9 95.9h0M176.4 85.4h0M199.3 90.2h0M200.4 86.3h0M192.6 92.5h0M182.2 92.1h0M193.0 83.2h0M189.9 94.0h0M197.6 97.6h0M175.5 88.2h0M189.9 94.8h0M187.0 91.6h0M176.9 85.7h0M191.0 93.2h0M189.1 85.3h0M184.4 92.9h0M192.9 82.3h0M173.7 83.9h0M188.1 91.7h0M193.3 90.3h0M191.7 93.3h0M200.1 88.0h0M176.0 84.6h0M172.7 97.0h0M191.2 85.0h0M193.5 95.5h0M211.2 92.5h0M195.2 97.6h0M179.4 80.0h0M197.3 88.8h0M179.7 88.7h0M172.9 93.4h0M216.4 83.2h0M192.2 99.3h0M196.3 89.0h0M194.7 78.8h0M207.9 90.4h0M191.7 89.3h0M201.6 85.7h0M177.8 93.8h0M173.9 90.0h0M203.8 84.3h0M204.3 87.9h0M194.1 87.5h0M191.1 91.0h0M190.5 87.9h0M181.4 89.5h0M205.0 81.9h0M195.7 85.7h0M194.1 90.4h0M192.7 100.9h0M199.8 85.6h0M194.1 85.7h0M196.6 93.5h0M176.3 99.5h0M194.1 94.6h0M211.9 84.1h0M183.2 94.8h0M187.3 91.7h0M198.2 88.0h0M198.9 83.2h0M195.3 89.3h0M171.6 90.7h0M194.0 91.8h0M176.2 82.3h0M180.0 84.8h0M194.5 89.7h0M185.6 96.2h0M197.3 92.8h0M222.1 85.2h0M196.9 92.5h0M196.4 84.9h0M179.2 88.2h0M181.9 88.4h0M177.4 86.9h0M183.1 87.4h0M177.1 94.0h0M181.7 91.3h0M186.5 78.5h0M178.1 95.7h0M173.7 92.4h0M174.3 85.1h0M193.5 90.0h0M189.3 93.3h0M199.6 95.2h0M199.8 86.5h0M185.1 84.8h0M195.8 82.6h0M173.4 89.9h0M212.9 83.5h0M201.4 93.8h0M186.4 88.8h0M176.4 93.2h0M192.7 88.5h0M178.6 91.3h0M183.3 93.1h0M152.9 99.1h0M186.2 95.8h0M160.5 105.5h0M152.4 104.4h0M165.0 95.6h0M145.9 101.4h0M167.6 88.8h0M171.8 100.9h0M164.5 113.8h0M175.4 100.5h0M162.9 98.5h0M167.6 97.3h0M146.2 101.8h0M168.1 104.2h0M154.9 92.4h0M160.9 104.2h0M166.1 95.6h0M170.3 100.8h0M143.2 109.5h0M144.4 94.2h0M163.0 114.6h0M174.5 103.6h0M172.8 96.3h0M180.7 99.9h0M186.7 92.8h0M174.8 99.2h0M167.2 102.2h0M152.3 88.8h0M153.5 102.5h0M160.6 101.3h0M171.4 105.3h0M170.8 103.4h0M167.6 95.7h0M165.2 96.5h0M176.8 98.3h0M170.6 103.2h0M171.9 95.0h0M172.0 108.8h0M159.4 102.4h0M152.3 102.8h0M174.7 103.5h0M173.6 97.8h0M164.3 103.7h0M161.4 104.9h0M201.1 84.9h0M156.3 96.5h0M164.3 92.9h0M171.4 98.7h0M150.5 95.9h0M169.2 94.7h0M194.0 89.1h0M181.3 84.0h0M176.8 99.6h0M176.2 96.8h0M169.1 99.5h0M181.6 118.0h0M165.2 107.8h0M161.3 100.1h0M169.0 95.5h0M180.9 101.1h0M172.4 92.2h0M177.4 90.7h0M137.6 105.5h0M185.1 89.0h0M202.0 85.0h0M187.2 94.3h0M162.8 105.6h0M155.0 92.4h0M171.6 99.8h0M152.9 103.4h0M178.2 97.4h0M159.7 103.4h0M181.7 91.4h0M187.6 92.4h0M137.5 96.0h0M171.8 95.5h0M157.2 105.2h0M146.7 102.8h0M158.4 95.4h0M164.3 102.1h0M182.7 80.5h0M145.1 103.5h0M183.0 100.8h0M197.3 89.0h0M176.3 93.9h0M175.6 98.5h0M167.3 100.7h0M150.2 99.0h0M175.4 93.5h0M173.2 94.2h0M178.3 99.8h0M205.4 92.2h0M178.2 93.1h0M173.8 94.1h0M190.5 114.4h0M147.7 107.0h0M150.6 105.9h0M162.0 101.4h0M157.8 99.5h0M177.7 92.7h0M162.8 96.4h0M193.2 96.9h0M189.9 96.4h0M178.9 87.8h0M161.8 103.6h0M176.6 96.5h0M179.5 88.8h0M151.8 99.3h0M172.6 110.6h0M177.9 95.9h0M170.7 101.2h0M190.7 97.1h0M185.4 91.0h0M155.3 98.1h0M169.3 100.7h0M155.2 95.7h0M176.0 95.8h0M154.7 100.3h0M181.1 95.9h0M173.2 97.2h0M181.8 99.5h0M165.4 102.3h0M146.0 101.9h0M193.5 101.7h0M165.0 107.0h0M187.8 89.3h0M173.8 100.0h0M177.4 98.3h0M194.5 96.8h0M172.5 98.6h0M188.2 96.7h0M145.6 101.7h0M180.3 102.4h0M163.9 94.4h0M165.5 103.6h0M167.6 93.3h0M172.6 109.8h0M191.9 102.5h0M140.2 97.0h0M168.1 100.1h0M156.9 104.5h0M184.7 95.1h0M161.3 106.2h0M174.2 98.1h0M161.6 112.9h0M177.4 100.8h0M182.5 101.3h0M161.6 96.9h0M168.2 94.2h0M146.5 106.9h0M172.0 89.5h0M180.1 101.2h0M159.3 112.3h0M184.0 111.1h0M136.9 94.2h0M140.2 103.2h0M147.0 105.6h0M160.3 104.6h0M167.8 105.6h0M166.3 91.7h0M166.5 100.0h0M178.2 87.7h0M160.5 101.4h0M148.9 115.3h0M149.1 96.7h0M198.7 97.6h0M132.8 105.0h0M164.9 90.6h0M189.0 98.2h0M174.6 91.7h0M155.3 100.9h0M167.5 103.7h0M180.2 94.8h0M185.3 100.6h0M154.2 93.9h0M178.7 92.4h0M171.2 98.5h0M183.8 93.8h0M188.0 93.5h0M162.4 101.6h0M146.1 96.8h0M173.3 99.9h0M193.7 92.5h0M177.6 103.6h0M170.9 98.3h0M202.9 92.6h0M152.2 105.8h0M180.8 100.1h0M159.1 103.5h0M168.2 95.0h0M168.8 103.3h0M189.8 94.0h0M153.7 92.2h0M159.6 98.2h0M144.0 111.6h0M174.7 97.7h0M160.7 94.1h0M173.7 100.2h0M151.7 94.8h0M162.2 96.4h0M182.8 95.0h0M164.9 101.1h0M176.7 101.1h0M175.3 99.8h0M162.3 99.6h0M144.5 99.1h0M182.0 95.1h0M170.0 100.7h0M182.0 97.1h0M137.8 100.7h0M143.1 111.7h0M135.9 107.6h0M154.6 105.5h0M182.9 98.6h0M175.8 99.8h0M167.0 100.8h0M169.4 104.1h0M178.7 94.0h0M163.0 98.2h0M173.3 108.1h0M169.6 98.9h0M135.2 109.8h0M161.8 90.1h0M187.5 99.4h0M161.7 102.3h0M165.4 99.0h0M158.5 101.5h0M160.3 100.5h0M184.1 88.2h0M163.5 98.4h0M152.4 96.3h0M121.6 98.4h0M159.0 105.9h0M138.5 93.0h0M140.6 98.6h0M179.2 92.3h0M178.0 103.0h0M139.2 98.0h0M180.1 95.3h0M174.3 101.5h0M155.9 87.4h0M178.3 94.6h0M143.5 103.6h0M149.7 100.3h0M146.3 96.6h0M151.1 94.7h0M180.5 94.3h0M147.8 94.6h0M150.5 92.8h0M153.5 108.1h0M170.4 101.7h0M162.5 105.3h0M180.2 97.1h0M157.0 92.2h0M148.5 97.8h0M160.1 106.2h0M168.0 100.9h0M153.7 95.0h0M171.5 101.8h0M194.2 96.5h0M158.8 98.5h0M168.0 109.7h0M187.3 92.3h0M157.8 98.5h0M154.8 97.5h0M151.2 106.9h0M173.2 103.0h0M174.9 101.8h0M165.1 98.1h0M167.9 98.8h0M186.0 96.2h0M180.0 87.3h0M146.5 94.3h0M167.1 103.5h0M168.7 102.9h0M177.8 88.0h0M163.9 101.5h0M157.6 92.5h0M160.4 90.9h0M140.9 105.7h0M166.7 100.9h0M158.3 99.9h0M174.0 103.4h0M151.9 106.8h0M160.6 102.4h0M152.6 96.1h0M151.3 103.8h0M177.3 99.2h0M160.1 102.8h0M173.5 106.4h0M150.5 92.7h0M168.4 112.7h0M142.0 106.2h0M159.9 96.9h0M159.5 108.3h0M175.5 94.7h0M169.6 91.7h0M164.3 104.6h0M179.3 96.6h0M169.7 105.4h0M174.8 95.4h0M178.2 97.4h0M165.9 98.2h0M162.5 91.9h0M171.7 96.0h0M160.7 92.3h0M172.6 94.9h0M183.2 104.3h0M179.4 96.2h0M161.2 97.2h0M147.9 110.0h0M166.0 91.7h0M165.0 99.2h0M183.1 95.2h0M161.2 105.2h0M163.7 99.3h0M177.6 96.2h0M159.8 102.1h0M164.5 99.1h0M192.1 108.5h0M188.7 88.7h0M176.1 104.6h0M170.8 111.5h0M152.5 106.7h0M175.0 103.1h0M167.7 96.1h0M170.1 104.2h0M159.2 98.6h0M166.6 104.9h0M164.1 86.9h0M171.4 95.6h0M187.8 85.4h0M172.1 104.6h0M142.4 98.5h0M152.5 106.6h0M143.5 98.9h0M155.1 96.8h0M175.0 107.6h0M172.7 105.2h0M158.0 107.2h0M170.7 107.6h0M155.6 105.0h0M145.9 107.5h0M146.1 110.3h0M154.1 100.3h0M187.7 93.6h0M147.0 109.4h0M185.1 100.3h0M186.3 96.9h0M164.1 101.0h0M166.1 103.5h0M157.7 95.8h0M166.4 94.5h0M176.5 94.2h0M166.9 100.6h0M181.4 86.0h0M184.2 87.1h0M171.8 101.1h0M171.6 99.5h0M165.8 92.6h0M171.8 103.4h0M150.3 99.1h0M172.7 98.4h0M169.8 103.1h0M154.0 102.3h0M198.4 104.6h0M152.4 104.3h0M153.9 112.5h0M170.8 85.7h0M138.2 94.2h0M155.1 93.7h0M144.3 100.4h0M152.5 95.4h0M164.8 92.3h0M171.4 92.9h0M183.0 92.1h0M178.6 103.2h0M184.2 94.8h0M175.4 101.4h0M159.8 107.1h0M183.1 104.0h0M159.5 97.8h0M157.7 94.4h0M189.2 104.6h0M178.3 87.9h0M169.9 90.5h0M177.8 100.3h0M179.6 100.5h0M146.6 102.3h0M165.3 93.9h0M149.3 103.8h0M168.5 105.6h0M156.8 98.7h0M186.7 108.9h0M174.3 97.7h0M154.7 94.2h0M166.4 97.7h0M148.8 97.1h0M167.3 96.5h0M174.7 94.2h0M170.6 98.1h0M138.2 107.8h0M161.7 101.4h0M174.2 99.0h0M171.2 91.6h0M183.8 87.9h0M147.7 99.4h0M174.4 102.9h0M157.1 104.9h0M169.5 100.2h0M172.6 90.7h0M176.8 96.3h0M158.2 100.8h0M169.4 103.6h0M149.4 96.5h0M145.9 100.3h0M174.8 98.7h0M165.9 99.0h0M142.8 92.6h0M154.1 101.9h0M166.9 89.6h0M189.6 89.4h0M182.1 97.3h0M178.4 92.9h0M140.3 103.4h0M165.2 104.4h0M173.7 100.1h0M172.4 104.0h0M172.8 95.7h0M163.2 99.8h0M192.6 93.0h0M188.4 92.0h0M165.3 117.7h0M152.2 99.4h0M196.9 106.2h0M158.5 99.5h0M184.3 102.4h0M194.8 95.4h0M152.7 93.3h0M170.9 108.8h0M161.5 99.0h0M174.2 99.0h0M171.4 109.8h0M195.3 92.2h0M175.3 98.2h0M166.5 102.4h0M183.2 101.6h0M162.6 81.3h0M161.2 102.4h0M199.7 105.8h0M154.5 106.3h0M159.4 102.5h0M167.3 101.6h0M151.0 101.8h0M135.5 109.4h0M182.2 94.4h0M155.1 103.7h0M158.6 108.3h0M161.1 104.9h0M152.2 103.5h0M150.8 96.5h0M169.0 96.4h0M202.0 97.0h0M177.5 98.0h0M177.6 96.9h0M144.4 90.4h0M166.3 103.1h0M149.2 98.9h0M178.0 93.8h0M163.3 105.4h0M167.2 98.3h0M165.3 98.7h0M158.0 103.2h0M144.2 98.9h0M175.2 92.4h0M146.2 95.4h0M149.2 102.7h0M162.2 98.9h0M156.2 87.1h0M170.5 105.4h0M181.5 96.3h0M170.3 93.8h0M169.5 98.2h0M167.0 95.6h0M179.3 96.9h0M139.4 98.5h0M172.0 91.4h0M152.9 102.4h0M148.4 100.6h0M166.7 99.8h0M160.9 102.5h0M175.2 98.5h0M182.9 104.0h0M132.3 99.4h0M165.6 89.7h0M195.5 86.0h0M179.4 90.5h0M188.0 102.4h0M168.1 90.5h0M145.5 106.2h0M150.0 101.8h0M177.1 87.5h0M180.8 103.9h0M155.8 95.9h0M162.7 98.3h0M170.5 99.9h0M140.8 107.7h0M161.5 97.6h0M190.5 99.2h0M198.9 89.4h0M165.0 92.6h0M193.6 104.1h0M158.9 103.3h0M154.7 102.8h0M133.6 110.4h0M180.7 104.2h0M161.1 99.6h0M201.1 96.4h0M171.5 108.4h0M169.4 102.2h0M140.0 99.7h0M188.8 103.7h0M161.3 105.5h0M164.3 90.6h0M134.1 95.8h0M180.3 107.2h0M181.2 105.5h0M157.7 98.4h0M168.0 106.2h0M172.4 100.2h0M180.9 100.3h0M168.2 96.0h0M192.1 111.0h0M163.1 112.7h0M157.7 107.7h0M159.8 94.4h0M129.2 105.0h0M154.8 110.8h0M181.5 94.8h0M170.6 94.9h0M154.6 102.4h0M171.8 100.7h0M136.9 100.6h0M162.5 93.0h0M174.4 97.6h0M177.0 95.1h0M155.3 101.1h0M180.2 100.0h0M194.3 101.4h0M160.4 98.7h0M177.6 99.8h0M143.7 103.7h0M137.8 97.6h0M175.7 95.5h0M167.3 94.3h0M169.7 108.2h0M158.1 97.3h0M162.4 103.4h0M178.7 102.7h0M192.1 101.3h0M163.5 92.8h0M142.4 97.7h0M185.5 101.3h0M175.6 104.9h0M176.8 98.1h0M169.4 101.8h0M201.0 85.6h0M167.9 107.8h0M174.3 109.1h0M139.4 104.3h0M158.2 100.4h0M156.6 99.9h0M166.3 95.1h0M171.9 86.8h0M155.7 102.8h0M192.3 99.4h0M151.0 111.6h0M160.1 98.9h0M170.3 94.1h0M148.3 103.2h0M175.2 91.6h0M176.1 98.1h0M162.4 91.2h0M194.9 94.0h0M167.9 105.4h0M170.9 102.6h0M152.6 110.1h0M142.0 112.6h0M157.4 99.0h0M162.0 95.0h0M160.0 89.0h0M178.1 98.4h0M131.5 105.2h0M150.0 107.9h0M139.8 97.1h0M186.5 94.7h0M158.4 103.9h0M159.1 96.4h0M150.5 98.2h0M180.0 108.6h0M160.7 95.9h0M170.0 98.3h0M136.7 105.4h0M184.0 99.7h0M172.6 88.6h0M174.9 89.5h0M185.0 86.6h0M163.9 106.5h0M164.3 103.5h0M177.4 92.9h0M173.1 105.7h0M163.1 104.1h0M167.4 109.8h0M159.3 89.6h0M177.3 92.0h0M180.6 95.1h0M166.8 98.2h0M194.5 98.4h0M144.1 104.6h0M163.3 96.3h0M192.1 100.4h0M160.6 93.1h0M143.1 105.2h0M187.4 102.0h0M174.8 90.9h0M149.1 102.5h0M178.2 94.8h0M151.7 103.7h0M147.0 114.9h0M164.5 96.5h0M159.7 108.1h0M150.6 95.2h0M161.4 109.1h0M151.9 112.1h0M167.7 97.5h0M166.5 97.0h0M177.8 97.5h0M160.1 107.3h0M147.1 96.7h0M147.3 110.3h0M163.2 102.6h0M189.5 101.2h0M179.3 100.1h0M157.3 95.7h0M180.7 101.4h0M149.6 98.3h0M181.8 93.6h0M161.1 110.1h0M178.2 104.8h0M176.0 100.5h0M162.7 103.4h0M171.7 97.1h0M151.0 112.6h0M165.7 95.4h0M182.8 93.1h0M227.4 92.9h0M177.2 106.2h0M168.1 99.2h0M151.8 104.4h0M182.5 94.2h0M142.3 103.0h0M154.9 96.7h0M172.1 101.3h0M149.0 93.3h0M189.6 110.0h0M183.0 103.3h0M158.4 97.6h0M158.6 109.2h0M147.3 97.6h0M146.1 109.0h0M173.4 98.1h0M176.0 103.6h0M172.0 101.4h0M170.7 97.9h0M158.5 101.1h0M172.1 101.0h0M145.0 89.6h0M166.9 99.4h0M188.6 102.4h0M186.4 91.6h0M160.0 95.5h0M161.9 93.0h0M187.2 86.6h0M193.3 101.6h0M144.7 96.0h0M160.5 93.6h0M170.3 99.0h0M184.9 95.8h0M154.4 118.4h0M176.3 101.6h0M162.4 89.6h0M202.0 105.4h0M173.2 101.8h0M164.8 98.0h0M161.9 96.7h0M182.5 88.0h0M176.9 108.4h0M150.8 101.2h0M170.0 94.1h0M147.0 109.5h0M155.6 101.0h0M147.7 90.9h0M147.2 94.2h0M156.7 97.6h0M152.3 116.4h0M174.7 99.2h0M178.6 95.7h0M163.3 101.7h0M150.3 101.9h0M178.7 80.1h0M136.9 104.4h0M138.2 108.6h0M177.6 96.7h0M176.6 100.1h0M181.3 99.4h0M163.6 100.3h0M148.2 97.3h0M159.3 99.0h0M175.2 105.4h0M155.5 101.6h0M156.4 98.0h0M146.2 104.7h0M149.6 94.9h0M179.3 93.4h0M173.6 104.3h0M149.6 99.7h0M150.8 89.9h0M158.5 91.4h0M175.0 98.8h0M149.5 96.4h0M164.3 103.6h0M135.1 111.8h0M148.2 98.5h0M173.1 97.2h0M180.1 94.8h0M149.7 101.7h0M155.4 99.0h0M178.7 100.9h0M161.1 97.4h0M158.8 95.6h0M174.5 98.8h0M169.7 94.4h0M183.3 107.7h0M178.6 102.5h0M158.3 92.1h0M165.1 89.4h0M166.0 98.1h0M146.8 102.5h0M152.4 108.6h0M181.2 95.5h0M143.3 97.8h0M181.6 106.2h0M171.1 95.7h0M164.8 96.8h0M174.8 95.9h0M173.9 105.1h0M184.8 94.1h0M160.9 108.8h0M163.5 91.2h0M163.2 99.1h0M194.7 102.7h0M180.9 89.9h0M153.2 94.4h0M161.9 103.8h0M156.4 87.9h0M167.1 105.2h0M170.1 97.2h0M200.8 88.4h0M139.9 115.9h0M182.1 91.7h0M173.4 99.0h0M156.5 100.8h0M164.7 105.9h0M159.6 98.4h0M167.7 105.8h0M181.8 103.2h0M144.4 104.8h0M186.4 104.1h0M161.4 91.0h0M189.2 104.4h0M173.0 103.0h0M185.2 99.0h0M175.3 98.4h0M183.0 92.8h0M167.8 94.6h0M154.7 102.7h0M176.9 100.4h0M177.5 97.9h0M198.0 90.8h0M137.3 99.0h0M164.1 102.8h0M182.7 109.4h0M148.4 89.3h0M163.6 94.3h0M198.3 94.0h0M187.9 94.9h0M154.0 104.0h0M188.1 102.6h0M159.2 96.7h0M161.7 111.0h0M152.7 90.5h0M134.3 98.0h0M159.7 100.5h0M179.3 105.2h0M155.6 96.7h0M167.1 84.4h0M120.8 109.5h0M162.0 107.1h0M163.9 93.6h0M139.4 115.2h0M128.3 122.5h0M175.7 99.5h0M148.7 105.8h0M177.4 97.8h0M157.3 103.3h0M180.4 91.9h0M159.1 100.0h0M133.2 107.3h0M164.7 101.3h0M159.3 92.4h0M181.1 86.2h0M156.6 90.4h0M157.9 92.0h0M185.6 123.4h0M192.4 102.0h0M183.4 97.2h0M189.5 91.7h0M176.6 109.8h0M183.6 81.7h0M186.0 91.3h0M175.5 101.1h0M168.0 95.3h0M169.7 99.5h0M219.8 95.7h0M166.9 92.4h0M161.3 101.7h0M158.5 110.7h0M165.8 102.7h0M172.0 97.1h0M141.5 110.3h0M122.7 92.3h0M173.1 105.6h0M131.0 86.6h0M172.3 88.1h0M169.7 104.8h0M192.1 91.9h0M203.5 80.8h0M174.7 97.4h0M154.3 109.3h0M140.6 99.8h0M149.1 81.8h0M167.5 110.0h0M120.8 98.8h0M168.2 96.5h0M166.3 98.0h0M180.8 98.2h0M159.2 100.8h0M168.8 87.3h0M150.3 94.0h0M156.3 107.3h0M127.3 88.9h0M169.3 108.0h0M200.8 85.8h0M170.2 94.7h0M174.7 85.0h0M144.9 96.9h0M198.2 82.7h0M149.6 99.6h0M184.3 85.5h0M169.0 93.4h0M145.4 80.9h0M189.3 99.6h0M166.9 86.2h0M170.5 92.1h0M176.6 93.7h0M166.1 101.9h0M158.2 94.1h0M176.9 108.4h0M157.6 110.3h0M168.0 90.3h0M151.8 112.8h0M133.6 89.0h0M151.7 101.5h0M155.6 96.2h0M166.9 96.1h0M192.8 89.1h0M129.2 104.9h0M169.4 99.6h0M117.6 105.3h0M143.4 90.9h0M155.4 88.4h0M116.7 92.9h0M125.5 99.7h0M170.0 98.1h0M168.3 111.5h0M164.1 91.4h0M148.8 92.0h0M214.2 93.2h0M163.0 90.1h0M147.5 88.2h0M203.7 90.4h0M180.2 85.3h0M158.4 95.3h0M193.0 108.2h0M170.0 100.5h0M180.8 98.3h0M171.8 91.3h0M143.8 107.9h0M188.1 97.4h0M170.1 104.8h0M144.2 100.5h0M149.7 98.7h0M187.7 84.9h0M158.4 90.9h0M167.6 95.2h0M181.1 92.5h0M169.4 95.4h0M132.8 100.8h0M180.7 80.9h0M187.3 115.8h0M185.8 95.5h0M202.4 88.6h0M174.6 85.5h0M183.8 103.9h0M201.7 88.4h0M160.1 90.1h0M205.0 95.0h0M205.0 108.0h0M183.9 97.4h0M207.3 101.3h0M185.4 88.1h0M147.1 107.3h0M191.7 77.2h0M173.8 94.4h0M175.7 102.6h0M170.0 100.7h0M196.7 102.0h0M178.8 91.5h0M151.2 85.8h0M177.3 97.1h0M182.7 86.1h0M150.5 107.6h0M157.0 95.5h0M158.1 77.6h0M153.1 111.3h0M174.3 84.7h0M189.1 83.0h0M208.5 107.2h0M193.0 105.6h0M189.2 102.1h0M191.9 84.4h0M196.1 96.1h0M158.2 99.5h0M181.9 88.2h0M173.7 94.7h0M163.7 95.2h0M156.5 101.1h0M155.4 88.5h0M160.6 104.6h0M139.3 86.0h0M178.1 98.0h0M166.1 103.9h0M168.9 90.7h0M174.1 91.6h0M182.6 112.0h0M153.5 96.8h0M164.2 109.1h0M131.0 109.5h0M117.5 97.2h0M123.6 110.9h0M200.6 88.5h0M126.2 106.2h0M177.0 78.0h0M199.3 92.7h0M156.4 108.8h0M202.6 101.2h0M207.5 98.7h0M187.5 92.5h0M219.1 89.0h0M180.4 86.1h0M150.5 97.8h0M178.2 94.0h0M156.8 95.4h0M137.8 102.3h0M138.4 98.5h0M217.8 82.2h0M154.7 91.7h0M166.2 101.8h0M152.0 114.8h0M169.8 103.6h0M161.5 95.1h0M157.7 120.3h0M140.0 105.1h0M135.5 97.6h0M150.4 104.3h0M173.3 105.8h0M212.8 74.4h0M190.2 81.0h0M207.2 93.1h0M177.6 83.5h0M165.0 85.6h0M137.6 111.3h0M167.0 73.0h0M119.5 112.3h0M160.3 100.2h0M203.0 101.2h0M174.2 95.1h0M192.0 104.8h0M158.5 98.2h0M136.6 91.8h0M156.4 96.6h0M158.3 100.6h0M193.7 79.1h0M210.8 98.3h0M150.7 90.7h0M159.1 100.8h0M163.9 95.5h0M159.4 97.8h0M139.6 99.9h0M169.2 97.1h0M175.1 102.7h0M175.7 100.7h0M140.4 97.0h0M164.6 98.3h0M128.6 113.1h0M187.4 100.2h0M144.6 106.5h0M161.1 98.4h0M157.2 96.9h0M154.3 98.1h0M143.8 106.3h0M128.1 102.7h0M205.5 103.4h0M172.9 121.8h0M173.1 96.6h0M213.7 104.7h0M165.0 105.8h0M179.5 105.9h0M167.7 91.4h0M193.5 103.8h0M178.4 92.9h0M174.2 100.3h0M161.6 108.9h0M173.5 110.1h0M193.0 89.1h0M121.3 100.6h0M164.4 90.6h0M158.0 82.2h0M160.6 95.7h0M123.6 101.2h0M183.5 95.8h0M148.6 99.0h0M162.3 101.0h0M156.1 106.8h0M130.3 85.0h0M157.4 115.2h0M126.5 101.0h0M146.4 96.4h0M160.3 96.9h0M167.2 105.8h0M168.5 98.7h0M164.3 101.8h0M214.6 99.7h0M176.9 96.2h0M140.3 104.9h0M153.8 104.2h0M152.8 93.4h0M163.4 107.3h0M154.0 95.4h0M148.4 105.6h0M203.8 88.0h0M168.3 96.6h0M159.9 96.3h0M161.7 106.9h0M162.5 104.9h0M198.1 100.3h0M177.9 94.2h0M192.2 87.0h0M98.3 98.1h0M174.5 100.7h0M190.8 93.1h0M211.0 105.2h0M168.0 117.0h0M129.4 110.8h0M180.4 101.4h0M154.1 113.2h0M127.7 119.1h0M153.7 94.7h0M190.7 101.0h0M194.0 108.4h0M183.3 74.4h0M144.2 99.4h0M223.1 91.9h0M141.5 95.3h0M165.7 104.5h0M135.4 88.2h0M196.5 106.8h0M177.3 107.6h0M187.1 95.8h0M169.4 104.0h0M165.9 85.2h0M171.3 111.2h0M125.6 110.3h0M189.4 92.1h0M187.7 89.5h0M158.8 90.0h0M167.2 94.6h0M174.1 77.0h0M202.2 96.6h0M177.0 94.6h0M168.4 89.9h0M156.2 102.1h0M134.2 105.2h0M154.3 103.7h0M169.1 103.1h0M161.9 108.5h0M169.2 102.3h0M184.0 108.9h0M177.2 92.8h0M173.6 110.8h0M182.1 77.2h0M171.7 82.0h0M166.9 88.0h0M178.0 98.0h0M129.4 108.6h0M195.3 82.7h0M139.1 100.4h0M186.1 89.9h0M167.9 104.0h0M192.1 84.6h0M168.4 104.7h0M146.7 99.9h0M191.4 109.5h0M171.7 102.9h0M170.3 92.9h0M169.5 101.4h0M189.8 98.3h0M185.8 88.0h0M172.8 97.6h0M133.4 91.9h0M158.8 120.5h0M170.0 92.3h0M207.4 87.3h0M176.2 110.1h0M165.7 109.5h0M194.2 86.0h0M165.3 107.6h0M167.1 103.5h0M191.1 87.7h0M160.3 85.0h0M187.1 105.3h0M142.6 93.8h0M181.1 86.5h0M207.1 95.6h0M182.0 106.3h0M98.7 116.0h0M192.8 85.0h0M173.2 86.7h0M141.3 109.7h0M217.3 107.1h0M113.6 88.2h0M233.2 107.9h0M150.3 96.9h0M223.3 100.1h0M169.8 117.5h0M127.3 99.9h0M174.4 98.3h0M182.2 78.1h0M77.3 109.7h0M87.7 114.3h0M103.6 123.7h0M151.0 70.0h0M165.2 66.2h0M200.7 64.2h0M226.3 70.9h0M229.4 68.8h0M241.2 78.5h0M246.9 83.6h0M156.2 127.4h0"/>
<line x1="150.0" y1="44.3" x2="150.0" y2="158.2" class="dash"/>
<line x1="168.4" y1="44.3" x2="168.4" y2="158.2" class="dash"/>
<line x1="67.0" y1="105.0" x2="251.4" y2="105.0" class="dash"/>
<line x1="67.0" y1="97.5" x2="251.4" y2="97.5" class="dash"/>
<rect x="67.0" y="44.3" width="184.4" height="113.9" class="frame"/>
<line x1="67.0" y1="158.2" x2="67.0" y2="160.7" class="tick"/>
<text x="67.0" y="166.5" class="tl" text-anchor="middle">−10.0</text>
<line x1="90.0" y1="158.2" x2="90.0" y2="160.7" class="tick"/>
<text x="90.0" y="166.5" class="tl" text-anchor="middle">−7.5</text>
<line x1="113.1" y1="158.2" x2="113.1" y2="160.7" class="tick"/>
<text x="113.1" y="166.5" class="tl" text-anchor="middle">−5.0</text>
<line x1="136.2" y1="158.2" x2="136.2" y2="160.7" class="tick"/>
<text x="136.2" y="166.5" class="tl" text-anchor="middle">−2.5</text>
<line x1="159.2" y1="158.2" x2="159.2" y2="160.7" class="tick"/>
<text x="159.2" y="166.5" class="tl" text-anchor="middle">0.0</text>
<line x1="182.2" y1="158.2" x2="182.2" y2="160.7" class="tick"/>
<text x="182.2" y="166.5" class="tl" text-anchor="middle">2.5</text>
<line x1="205.3" y1="158.2" x2="205.3" y2="160.7" class="tick"/>
<text x="205.3" y="166.5" class="tl" text-anchor="middle">5.0</text>
<line x1="228.3" y1="158.2" x2="228.3" y2="160.7" class="tick"/>
<text x="228.3" y="166.5" class="tl" text-anchor="middle">7.5</text>
<line x1="251.4" y1="158.2" x2="251.4" y2="160.7" class="tick"/>
<text x="251.4" y="166.5" class="tl" text-anchor="middle">10.0</text>
<line x1="64.5" y1="44.3" x2="67.0" y2="44.3" class="tick"/>
<text x="62.7" y="46.8" class="tl" text-anchor="end">15</text>
<line x1="64.5" y1="63.3" x2="67.0" y2="63.3" class="tick"/>
<text x="62.7" y="65.8" class="tl" text-anchor="end">10</text>
<line x1="64.5" y1="82.3" x2="67.0" y2="82.3" class="tick"/>
<text x="62.7" y="84.8" class="tl" text-anchor="end">5</text>
<line x1="64.5" y1="101.2" x2="67.0" y2="101.2" class="tick"/>
<text x="62.7" y="103.8" class="tl" text-anchor="end">0</text>
<line x1="64.5" y1="120.2" x2="67.0" y2="120.2" class="tick"/>
<text x="62.7" y="122.7" class="tl" text-anchor="end">−5</text>
<line x1="64.5" y1="139.2" x2="67.0" y2="139.2" class="tick"/>
<text x="62.7" y="141.7" class="tl" text-anchor="end">−10</text>
<line x1="64.5" y1="158.2" x2="67.0" y2="158.2" class="tick"/>
<text x="62.7" y="160.7" class="tl" text-anchor="end">−15</text>
<path class="pb" d="M170.9 259.2h0M140.3 258.8h0M155.4 262.0h0M155.6 264.5h0M136.1 272.2h0M131.8 260.7h0M162.7 261.1h0M138.1 270.7h0M142.3 263.3h0M139.0 260.2h0M141.0 264.4h0M135.1 260.0h0M151.9 259.4h0M158.2 270.8h0M138.0 265.5h0M125.4 262.0h0M143.2 259.0h0M124.1 257.2h0M134.7 274.0h0M157.9 263.5h0M171.5 258.8h0M147.3 257.2h0M129.4 255.6h0M152.3 268.2h0M114.7 266.9h0M134.0 269.6h0M161.6 258.7h0M151.9 270.2h0M125.4 258.3h0M121.9 259.8h0M153.2 260.8h0M142.0 275.1h0M135.2 267.6h0M147.7 259.6h0M135.5 271.4h0M118.7 266.0h0M152.7 263.9h0M134.5 259.5h0M130.1 262.8h0M126.0 263.0h0M145.7 265.9h0M132.6 264.2h0M150.4 264.1h0M139.3 260.1h0M156.1 264.1h0M137.8 258.6h0M134.5 272.9h0M118.1 258.6h0M128.9 265.2h0M151.6 257.5h0M180.6 261.7h0M127.0 260.0h0M129.7 256.5h0M146.8 266.5h0M148.6 263.1h0M134.2 265.0h0M143.6 262.6h0M122.6 273.0h0M138.9 264.8h0M153.8 264.6h0M162.9 267.0h0M140.5 264.9h0M139.4 271.9h0M148.2 256.3h0M156.4 260.9h0M148.7 253.7h0M133.3 268.7h0M147.1 269.6h0M154.7 261.8h0M133.8 272.8h0M126.0 263.3h0M149.0 267.2h0M147.2 265.3h0M154.7 261.9h0M143.7 263.5h0M134.6 254.4h0M137.2 260.7h0M129.8 271.0h0M130.9 259.2h0M135.7 271.0h0M136.6 263.6h0M156.5 269.7h0M127.4 268.7h0M142.1 257.0h0M135.3 267.0h0M161.2 266.3h0M145.9 266.6h0M138.0 265.6h0M152.8 255.9h0M143.5 269.9h0M136.8 270.5h0M161.8 260.0h0M151.5 271.7h0M164.2 264.8h0M157.1 257.3h0M152.3 263.4h0M144.4 266.2h0M129.2 268.1h0M151.5 268.2h0M143.6 266.8h0M151.1 262.7h0M142.6 257.3h0M134.2 259.2h0M130.2 267.3h0M151.4 267.2h0M158.8 259.5h0M139.2 273.4h0M148.4 265.9h0M160.0 264.8h0M132.4 270.0h0M138.5 269.2h0M128.9 262.6h0M157.4 271.8h0M146.0 268.5h0M137.0 267.5h0M122.2 264.3h0M140.5 271.1h0M155.2 257.7h0M139.1 265.6h0M137.5 265.4h0M150.8 265.4h0M127.5 268.0h0M143.5 269.0h0M150.2 257.6h0M133.1 263.3h0M132.5 264.9h0M145.9 258.6h0M141.6 267.7h0M139.9 260.8h0M145.4 263.7h0M145.6 268.4h0M131.3 260.5h0M134.6 272.0h0M148.4 260.3h0M156.8 267.9h0M159.6 261.1h0M132.3 257.2h0M156.4 260.4h0M152.3 266.7h0M142.5 264.1h0M148.9 265.6h0M153.2 269.6h0M165.0 268.8h0M129.8 264.3h0M150.3 260.9h0M141.1 273.2h0M140.3 264.5h0M157.1 260.8h0M153.0 263.0h0M130.3 269.7h0M139.4 258.8h0M145.7 270.2h0M125.4 261.4h0M153.6 255.3h0M142.0 274.6h0M144.9 262.6h0M147.1 262.2h0M165.3 261.9h0M143.4 268.0h0M138.5 265.8h0M164.5 270.4h0M136.7 263.6h0M136.4 261.5h0M125.7 268.2h0M156.3 268.3h0M146.3 266.4h0M148.8 263.9h0M145.0 263.7h0M141.3 264.7h0M133.2 264.1h0M133.3 271.2h0M148.3 277.9h0M144.5 260.8h0M163.1 255.9h0M133.5 271.8h0M136.9 267.8h0M130.3 263.1h0M160.0 258.4h0M127.7 261.4h0M152.5 257.1h0M160.7 263.6h0M141.2 262.0h0M151.9 261.6h0M116.7 267.4h0M138.2 258.1h0M122.5 261.7h0M145.1 259.0h0M143.1 266.1h0M133.5 259.2h0M154.6 269.0h0M147.4 261.9h0M136.5 277.8h0M136.6 269.6h0M124.8 261.1h0M140.7 266.5h0M169.2 262.1h0M134.2 272.8h0M148.2 255.9h0M136.2 261.3h0M152.9 263.8h0M148.4 261.7h0M140.1 262.5h0M121.0 257.7h0M136.6 263.3h0M157.8 271.1h0M140.0 265.5h0M150.8 257.2h0M137.1 261.4h0M119.9 267.2h0M148.3 260.7h0M147.0 263.3h0M135.9 261.3h0M138.4 272.5h0M146.6 268.6h0M135.7 261.0h0M147.3 265.1h0M140.5 262.4h0M113.9 255.3h0M141.2 265.8h0M135.6 263.2h0M132.7 267.4h0M148.0 267.1h0M137.0 264.7h0M149.7 271.3h0M156.5 274.4h0M144.8 257.0h0M123.9 265.4h0M134.0 258.7h0M154.3 263.0h0M139.8 263.5h0M133.1 261.1h0M141.9 260.5h0M149.3 270.0h0M146.2 257.8h0M151.0 268.8h0M132.8 263.5h0M139.6 251.1h0M139.9 263.8h0M142.8 255.5h0M117.2 267.0h0M140.1 261.1h0M126.5 264.5h0M160.2 261.2h0M162.3 267.7h0M163.8 267.9h0M153.1 261.9h0M137.1 272.4h0M154.9 267.9h0M140.6 260.9h0M150.6 266.9h0M131.9 269.1h0M135.8 270.1h0M148.8 263.1h0M165.0 265.0h0M142.8 263.3h0M170.9 263.9h0M177.1 253.1h0M127.2 267.0h0M142.8 274.2h0M131.3 264.0h0M141.4 264.2h0M136.5 263.6h0M142.3 272.4h0M155.0 257.8h0M154.7 263.8h0M146.3 264.2h0M143.1 272.2h0M144.6 261.6h0M144.7 264.4h0M150.2 256.9h0M143.2 266.2h0M149.3 270.2h0M126.9 264.1h0M152.9 268.4h0M164.7 261.0h0M145.4 269.5h0M125.7 265.5h0M159.8 264.5h0M139.1 264.4h0M106.2 268.3h0M140.4 268.4h0M150.6 264.1h0M147.9 266.9h0M158.5 262.7h0M150.8 265.2h0M144.7 275.5h0M118.7 265.4h0M129.4 257.6h0M145.4 262.4h0M151.5 260.7h0M130.4 262.3h0M135.6 266.8h0M149.0 270.7h0M119.5 261.0h0M119.1 259.7h0M140.3 261.3h0M146.3 261.8h0M137.2 262.3h0M114.8 265.4h0M143.4 262.7h0M126.7 264.7h0M151.2 262.1h0M141.9 269.0h0M146.4 267.2h0M151.1 260.9h0M136.6 266.1h0M153.4 276.0h0M158.5 262.8h0M148.1 275.5h0M159.6 253.7h0M135.4 260.8h0M154.5 260.2h0M146.5 267.3h0M131.0 270.3h0M142.2 265.2h0M136.6 264.3h0M136.3 268.3h0M144.2 263.2h0M156.3 260.0h0M139.2 261.2h0M144.7 269.3h0M125.0 275.8h0M144.5 264.0h0M157.4 266.8h0M153.2 261.4h0M149.0 255.5h0M136.7 256.0h0M131.1 263.1h0M142.0 258.5h0M126.6 256.4h0M127.9 264.5h0M154.8 262.2h0M131.8 260.2h0M165.4 263.3h0M125.5 267.3h0M148.5 267.6h0M128.7 264.6h0M145.3 267.1h0M130.3 260.5h0M143.7 265.7h0M141.2 256.7h0M137.6 258.2h0M149.5 270.0h0M161.8 257.8h0M135.8 266.3h0M154.1 256.6h0M144.2 261.4h0M142.8 264.2h0M170.3 259.5h0M116.3 267.9h0M134.7 262.7h0M120.7 263.0h0M139.3 264.9h0M140.3 262.2h0M190.4 267.0h0M147.5 261.0h0M165.4 269.1h0M159.2 260.2h0M137.7 261.8h0M149.1 260.1h0M163.8 265.9h0M145.3 248.6h0M145.8 265.0h0M149.4 262.9h0M124.5 268.5h0M133.1 257.2h0M147.3 266.1h0M149.9 258.7h0M131.8 269.1h0M139.2 262.5h0M141.6 265.8h0M141.3 259.3h0M151.7 265.0h0M144.5 268.1h0M145.2 261.5h0M125.6 270.6h0M130.1 269.2h0M147.1 259.9h0M123.4 274.1h0M146.5 259.9h0M134.9 266.2h0M133.1 268.9h0M151.2 262.3h0M134.7 261.0h0M132.5 267.2h0M134.7 265.1h0M143.8 259.8h0M177.2 258.6h0M116.8 265.2h0M142.9 267.7h0M140.1 268.7h0M154.9 266.3h0M138.5 260.6h0M112.4 262.2h0M159.5 261.6h0M129.5 257.4h0M142.3 265.3h0M126.1 266.4h0M129.5 266.3h0M136.9 254.5h0M153.7 273.6h0M153.5 261.9h0M135.6 261.9h0M149.3 263.2h0M138.4 252.3h0M144.4 257.9h0M144.9 259.8h0M150.7 267.9h0M135.4 261.6h0M141.4 265.7h0M145.7 263.4h0M144.1 262.7h0M133.1 266.5h0M164.4 259.7h0M137.3 255.9h0M152.4 258.2h0M145.5 262.5h0M158.1 272.6h0M115.8 259.5h0M168.4 257.3h0M140.3 264.8h0M127.7 266.7h0M144.6 260.4h0M171.0 266.5h0M149.2 259.5h0M127.7 269.7h0M137.2 268.5h0M159.5 262.9h0M125.5 271.6h0M140.7 263.7h0M139.3 261.2h0M169.9 269.0h0M139.3 259.2h0M159.3 265.7h0M134.5 261.3h0M133.0 263.0h0M155.4 265.4h0M150.7 265.9h0M121.5 273.0h0M150.9 266.7h0M150.9 267.1h0M135.3 255.8h0M145.7 258.5h0M146.3 270.3h0M136.9 259.9h0M135.7 262.8h0M134.6 265.9h0M139.5 261.5h0M126.4 260.4h0M142.4 266.5h0M124.4 265.8h0M143.8 262.8h0M141.9 268.5h0M130.0 263.2h0M153.5 263.6h0M166.9 265.9h0M159.4 267.1h0M125.9 262.8h0M158.7 258.6h0M145.6 261.9h0M142.2 267.9h0M135.5 260.2h0M142.8 262.8h0M160.1 260.0h0M149.6 257.6h0M137.8 268.3h0M134.6 264.6h0M137.7 266.8h0M150.2 267.6h0M166.0 252.8h0M129.8 259.5h0M142.9 272.3h0M138.1 261.7h0M133.5 266.7h0M147.8 257.7h0M149.7 262.9h0M125.3 265.2h0M130.0 263.4h0M157.7 261.1h0M146.8 263.3h0M149.4 264.4h0M136.7 264.5h0M138.2 261.3h0M148.6 268.9h0M136.7 263.9h0M129.1 264.8h0M142.9 266.0h0M154.1 259.5h0M130.1 270.5h0M156.0 264.8h0M151.6 267.4h0M132.2 261.4h0M143.0 265.9h0M142.4 263.4h0M150.7 261.4h0M151.1 271.1h0M126.8 262.0h0M126.2 268.0h0M155.6 264.3h0M144.3 264.1h0M148.0 259.4h0M147.0 259.8h0M161.8 254.1h0M127.9 263.3h0M156.4 265.4h0M132.8 266.5h0M151.9 260.0h0M159.5 255.0h0M125.8 262.6h0M147.9 266.2h0M139.5 262.4h0M139.3 262.5h0M143.4 263.4h0M129.9 267.8h0M131.0 276.6h0M151.0 265.9h0M153.3 258.0h0M135.9 262.8h0M124.9 275.2h0M171.5 262.3h0M156.5 272.1h0M147.3 253.6h0M130.2 263.2h0M135.7 269.8h0M145.9 259.5h0M131.0 267.9h0M162.7 260.0h0M144.6 263.4h0M147.7 269.2h0M130.2 260.9h0M131.7 270.6h0M133.2 257.4h0M146.3 263.1h0M139.6 268.8h0M139.3 272.6h0M146.8 255.5h0M145.7 256.3h0M161.2 269.0h0M140.5 255.6h0M130.4 263.3h0M142.7 264.7h0M160.9 263.2h0M136.1 265.2h0M143.5 256.5h0M138.5 263.0h0M147.9 272.4h0M146.1 253.2h0M132.9 259.7h0M140.1 269.1h0M154.5 264.8h0M156.4 267.5h0M154.2 262.9h0M153.5 261.2h0M138.8 262.6h0M138.4 266.7h0M154.3 267.0h0M128.5 260.0h0M142.2 264.1h0M120.1 253.5h0M138.2 267.7h0M134.2 260.1h0M128.1 264.0h0M150.0 267.0h0M133.9 257.3h0M138.4 263.2h0M139.7 268.1h0M133.9 265.5h0M160.4 257.8h0M136.8 269.9h0M145.3 256.7h0M126.9 260.9h0M137.1 265.2h0M138.9 257.1h0M139.1 255.1h0M135.7 260.9h0M144.7 262.7h0M162.0 253.7h0M141.3 256.3h0M141.2 268.2h0M138.1 264.8h0M174.0 263.3h0M162.7 264.8h0M149.7 270.7h0M151.6 258.8h0M134.2 263.5h0M141.0 263.2h0M145.5 256.5h0M144.4 266.3h0M132.4 264.3h0M133.3 262.6h0M149.2 265.4h0M146.7 264.0h0M117.1 260.9h0M144.0 263.6h0M158.5 256.4h0M135.0 267.6h0M145.9 262.5h0M125.1 271.4h0M153.1 263.7h0M129.3 267.6h0M127.6 257.5h0M139.0 260.1h0M172.0 259.8h0M135.4 254.8h0M127.4 257.1h0M148.6 259.8h0M145.7 266.9h0M163.3 269.9h0M127.4 264.4h0M123.4 266.2h0M139.1 266.9h0M147.6 264.8h0M147.3 271.6h0M156.2 255.6h0M124.6 270.0h0M132.8 267.3h0M141.3 260.8h0M153.2 271.2h0M148.8 258.8h0M137.8 259.2h0M130.4 265.7h0M153.7 268.5h0M154.6 265.4h0M176.2 271.4h0M140.8 256.8h0M162.8 262.5h0M128.1 267.9h0M136.3 268.4h0M134.6 261.1h0M137.3 256.4h0M132.2 270.4h0M136.3 266.7h0M142.3 272.4h0M137.4 260.5h0M151.0 262.5h0M141.9 252.4h0M142.9 264.2h0M161.0 265.0h0M146.8 266.9h0M144.8 259.3h0M142.7 271.7h0M143.7 259.8h0M150.0 262.1h0M133.1 266.5h0M157.0 267.5h0M162.2 257.5h0M157.1 253.7h0M136.9 266.1h0M123.4 261.8h0M137.6 255.1h0M144.8 266.6h0M153.1 264.4h0M140.7 269.8h0M139.2 264.5h0M161.6 263.2h0M134.7 266.0h0M156.0 266.7h0M154.0 271.0h0M126.7 271.0h0M146.4 268.3h0M136.1 260.7h0M131.3 266.6h0M120.3 268.8h0M123.8 261.1h0M148.0 260.6h0M138.2 267.6h0M146.3 266.6h0M129.9 260.8h0M139.0 261.9h0M139.6 267.9h0M124.0 263.2h0M122.6 264.6h0M148.3 257.8h0M144.8 267.8h0M131.5 259.6h0M141.7 261.5h0M151.1 268.3h0M165.4 257.4h0M132.1 259.5h0M150.5 269.9h0M168.9 252.5h0M143.8 269.3h0M160.9 267.4h0M111.3 266.5h0M160.7 259.0h0M142.8 260.7h0M120.0 265.0h0M152.5 256.3h0M155.8 261.0h0M157.8 255.9h0M157.6 248.8h0M142.6 262.6h0M133.8 276.9h0M137.3 266.1h0M142.5 269.0h0M147.9 262.9h0M137.0 263.3h0M143.5 269.7h0M153.7 268.9h0M146.9 264.7h0M171.1 263.4h0M169.4 275.6h0M128.9 259.3h0M136.0 263.7h0M126.9 264.3h0M128.7 262.7h0M149.6 268.5h0M130.8 264.4h0M130.1 258.9h0M139.6 258.3h0M152.8 260.8h0M138.6 265.2h0M138.6 267.9h0M154.2 256.4h0M148.7 260.7h0M148.5 265.5h0M154.6 274.1h0M130.5 268.5h0M145.6 273.3h0M135.2 257.6h0M155.5 262.1h0M153.0 267.0h0M130.1 265.5h0M159.4 249.6h0M128.6 258.0h0M157.3 269.9h0M145.5 264.1h0M132.2 270.3h0M129.2 273.0h0M139.2 262.8h0M142.6 251.2h0M134.2 255.9h0M149.9 263.1h0M125.7 266.2h0M142.9 262.5h0M143.0 258.3h0M119.9 272.1h0M146.7 273.1h0M127.4 254.5h0M112.2 263.4h0M135.4 255.6h0M140.1 262.5h0M154.1 255.5h0M137.0 267.0h0M161.1 260.2h0M160.6 254.8h0M156.4 257.7h0M159.2 265.3h0M147.2 258.8h0M136.1 267.3h0M174.8 245.4h0M198.8 246.1h0M209.7 236.5h0M202.9 259.4h0M176.9 255.9h0M203.1 242.9h0M200.8 247.9h0M186.7 252.1h0M161.7 240.6h0M204.9 244.0h0M203.4 253.1h0M198.5 250.1h0M171.0 243.6h0M173.9 238.6h0M204.9 256.7h0M202.3 245.3h0M198.5 248.7h0M189.3 256.1h0M197.3 247.6h0M185.7 255.5h0M188.5 249.9h0M181.6 239.1h0M195.6 244.2h0M187.2 243.2h0M204.2 243.4h0M201.3 244.8h0M182.3 242.4h0M215.2 252.0h0M178.4 249.4h0M198.0 242.3h0M205.9 250.1h0M208.3 248.5h0M164.9 241.9h0M204.8 238.5h0M207.6 249.4h0M210.3 250.4h0M164.7 245.1h0M184.0 245.9h0M191.2 250.4h0M186.8 244.1h0M209.1 243.4h0M183.9 246.9h0M207.7 231.2h0M199.4 239.6h0M174.2 243.5h0M180.0 242.2h0M186.5 232.0h0M193.6 241.2h0M204.8 250.1h0M190.1 245.4h0M203.7 246.0h0M172.7 250.7h0M154.3 247.2h0M188.2 245.8h0M198.1 246.9h0M187.9 249.6h0M179.8 243.2h0M197.7 254.9h0M216.6 241.6h0M191.1 246.9h0M183.3 245.9h0M181.8 259.6h0M217.0 237.2h0M191.9 255.8h0M200.0 251.0h0M207.6 242.9h0M205.9 249.4h0M180.9 249.5h0M204.3 257.9h0M202.9 248.7h0M198.5 245.5h0M205.0 242.9h0M185.4 248.7h0M191.5 245.8h0M185.8 244.9h0M201.9 250.0h0M184.2 251.1h0M197.3 236.6h0M178.7 251.8h0M190.9 240.6h0M187.9 246.7h0M191.0 239.4h0M194.0 250.1h0M190.1 244.3h0M189.6 245.3h0M166.5 249.1h0M206.2 244.7h0M184.6 251.2h0M189.3 247.4h0M182.0 249.4h0M204.9 242.4h0M181.1 247.8h0M198.7 253.8h0M207.1 248.2h0M213.0 246.5h0M207.2 250.9h0M200.1 239.7h0M177.4 245.4h0M208.5 241.9h0M207.2 250.2h0M202.9 248.5h0M202.4 241.3h0M193.4 254.2h0M186.0 245.3h0M205.9 245.8h0M208.3 248.8h0M179.5 247.0h0M203.9 251.9h0M195.5 245.6h0M203.5 252.7h0M195.9 253.3h0M206.4 239.1h0M205.3 250.0h0M203.6 257.3h0M175.3 242.6h0M202.8 250.4h0M193.2 265.0h0M178.5 247.8h0M201.4 241.7h0M175.5 245.8h0M203.7 237.5h0M213.7 246.6h0M186.3 244.0h0M204.0 251.6h0M198.2 245.8h0M200.7 238.6h0M175.8 245.0h0M200.2 245.7h0M194.3 257.0h0M201.8 248.4h0M192.8 253.5h0M206.3 242.3h0M196.1 250.5h0M201.1 244.6h0M209.7 251.3h0M194.9 237.0h0M205.0 252.4h0M195.5 246.0h0M199.2 233.0h0M186.2 246.0h0M202.3 251.0h0M207.9 243.0h0M191.7 241.8h0M202.6 241.9h0M198.0 256.8h0M179.1 246.3h0M197.1 257.7h0M209.1 236.3h0M186.8 246.7h0M170.8 250.2h0M195.3 243.3h0M184.8 244.7h0M216.2 252.0h0M192.3 238.4h0M192.7 248.1h0M185.1 256.3h0M195.9 239.5h0M185.9 239.2h0M181.7 240.8h0M192.0 244.0h0M182.8 251.9h0M209.0 241.3h0M178.5 237.8h0M191.9 242.6h0M184.4 238.9h0M175.9 251.6h0M213.2 240.7h0M167.0 243.1h0M210.7 253.8h0M175.5 256.0h0M193.9 250.5h0M220.6 245.2h0M166.7 245.6h0M176.0 248.7h0M208.9 246.5h0M195.0 247.3h0M186.1 246.7h0M192.4 243.8h0M181.0 244.7h0M194.3 247.0h0M211.1 244.7h0M188.1 249.4h0M194.5 242.6h0M207.6 248.8h0M217.2 237.2h0M185.6 247.3h0M196.5 245.2h0M185.9 251.1h0M184.9 249.0h0M187.9 246.2h0M185.1 247.0h0M171.6 251.0h0M168.4 253.9h0M183.9 247.0h0M194.4 245.9h0M207.7 243.3h0M186.3 240.6h0M190.8 248.5h0M200.9 256.9h0M201.9 247.2h0M191.4 256.5h0M192.2 253.6h0M215.8 240.5h0M188.7 244.0h0M186.8 250.4h0M172.9 251.0h0M198.1 247.1h0M189.6 256.1h0M216.2 243.3h0M188.7 248.8h0M202.8 236.8h0M204.3 251.9h0M213.0 240.7h0M176.8 251.1h0M212.0 240.7h0M193.0 251.9h0M191.6 243.0h0M189.0 249.3h0M188.0 251.3h0M188.6 247.8h0M164.3 245.5h0M199.1 244.4h0M193.6 238.5h0M181.2 243.0h0M192.0 260.6h0M220.9 247.7h0M197.5 257.0h0M188.1 249.0h0M213.7 242.7h0M183.1 254.2h0M190.9 253.1h0M186.1 246.3h0M189.9 248.4h0M201.8 238.1h0M199.9 244.8h0M183.9 244.4h0M191.2 237.7h0M193.9 249.4h0M187.8 247.0h0M192.4 252.0h0M184.0 245.8h0M183.8 241.8h0M193.3 239.6h0M180.2 247.5h0M197.9 250.3h0M190.4 250.9h0M181.6 254.6h0M185.3 246.5h0M187.0 239.9h0M190.8 259.3h0M194.2 258.1h0M190.2 239.5h0M182.2 255.7h0M210.2 244.3h0M203.8 252.9h0M194.1 242.6h0M204.3 242.2h0M196.8 245.7h0M189.6 242.6h0M193.8 246.5h0M225.2 242.4h0M204.8 236.7h0M205.4 240.5h0M188.0 250.4h0M200.1 250.7h0M220.2 246.9h0M197.9 247.7h0M205.8 245.8h0M208.0 249.3h0M200.6 243.0h0M211.9 245.7h0M195.6 244.7h0M198.8 246.5h0M185.1 243.8h0M224.8 251.7h0M196.4 238.3h0M194.1 244.9h0M209.6 243.7h0M186.8 243.8h0M192.7 241.1h0M183.3 243.3h0M193.0 245.5h0M188.0 247.9h0M199.3 255.1h0M191.2 245.7h0M185.5 248.7h0M189.2 248.5h0M191.3 234.1h0M186.5 256.8h0M204.1 245.9h0M200.9 240.0h0M194.5 241.6h0M178.3 240.8h0M199.0 253.1h0M177.3 252.4h0M195.0 243.4h0M193.3 248.2h0M185.6 238.0h0M182.7 245.9h0M184.3 246.0h0M217.5 243.3h0M189.5 248.3h0M190.2 246.2h0M204.3 249.7h0M197.8 246.7h0M205.5 248.7h0M177.9 246.0h0M179.6 254.7h0M232.9 252.8h0M192.2 244.3h0M189.2 245.6h0M194.7 251.7h0M204.7 247.4h0M178.4 252.8h0M196.1 235.8h0M192.4 254.9h0M200.8 237.3h0M194.8 250.9h0M186.3 244.7h0M182.3 248.5h0M163.3 249.9h0M204.5 241.2h0M175.0 243.1h0M187.9 248.4h0M212.8 250.6h0M187.7 236.0h0M200.1 238.9h0M190.2 246.0h0M201.1 247.8h0M193.1 245.1h0M186.6 246.5h0M209.0 239.7h0M189.5 251.9h0M176.6 247.2h0M188.8 250.9h0M199.2 239.5h0M179.3 237.7h0M202.2 246.7h0M201.9 243.4h0M218.2 238.2h0M185.0 248.5h0M200.7 251.2h0M172.6 242.0h0M187.7 244.2h0M194.0 247.7h0M197.6 238.7h0M192.0 245.4h0M191.6 256.0h0M185.3 245.1h0M187.4 247.2h0M196.4 236.6h0M199.4 246.4h0M200.4 247.4h0M204.7 243.8h0M207.0 244.7h0M171.1 254.9h0M186.4 246.3h0M190.8 248.4h0M185.0 239.6h0M205.3 233.5h0M201.7 252.1h0M191.4 251.8h0M194.2 251.0h0M207.9 249.4h0M188.5 250.4h0M188.9 246.5h0M203.6 240.4h0M198.3 253.2h0M209.7 254.0h0M197.1 256.1h0M201.7 240.4h0M186.2 239.9h0M181.4 255.2h0M192.6 255.2h0M160.9 247.3h0M197.6 240.7h0M204.3 240.8h0M193.6 245.6h0M190.1 243.1h0M205.7 244.3h0M192.2 249.5h0M204.5 236.1h0M219.0 245.5h0M201.4 252.1h0M203.9 248.6h0M198.6 254.5h0M195.7 246.4h0M196.0 240.7h0M193.5 253.2h0M205.7 240.1h0M173.4 236.4h0M189.5 244.7h0M200.6 252.4h0M182.6 251.5h0M191.5 248.4h0M184.4 253.7h0M198.0 253.0h0M203.1 247.5h0M210.1 246.8h0M198.7 243.2h0M184.1 253.3h0M195.7 236.6h0M199.5 240.7h0M209.6 241.2h0M167.1 251.1h0M197.2 237.3h0M170.9 249.3h0M201.3 236.7h0M198.0 240.7h0M198.7 251.1h0M203.3 248.5h0M197.3 236.6h0M185.0 241.7h0M196.9 247.2h0M207.1 244.9h0M191.3 245.6h0M193.1 250.7h0M178.2 248.3h0M206.6 249.5h0M186.7 249.1h0M183.9 244.5h0M187.4 251.9h0M182.4 243.2h0M189.7 246.1h0M207.9 241.9h0M202.2 241.5h0M209.7 239.3h0M210.5 242.5h0M182.0 243.3h0M198.5 247.3h0M210.6 242.8h0M220.1 250.2h0M175.8 248.6h0M175.7 243.4h0M198.3 246.6h0M188.7 244.4h0M180.8 252.7h0M197.3 239.2h0M183.3 250.0h0M165.6 245.7h0M192.4 246.7h0M194.2 241.6h0M200.3 248.3h0M203.9 251.4h0M194.9 256.5h0M189.9 248.3h0M184.7 253.2h0M173.0 244.6h0M187.5 239.2h0M204.6 257.8h0M200.4 253.1h0M217.2 243.9h0M190.9 240.2h0M171.4 245.9h0M202.5 244.5h0M205.0 243.4h0M178.7 244.2h0M173.4 238.7h0M194.5 243.3h0M201.1 252.8h0M179.3 249.7h0M188.6 245.7h0M183.4 251.3h0M178.5 248.6h0M176.9 250.0h0M194.3 250.2h0M188.2 243.1h0M184.6 249.0h0M161.5 253.7h0M213.5 249.5h0M181.4 246.9h0M191.0 235.5h0M179.0 245.8h0M197.1 238.6h0M174.6 244.8h0M193.7 257.9h0M190.3 244.7h0M203.5 250.7h0M179.5 254.3h0M184.8 252.6h0M189.8 237.3h0M217.6 253.9h0M175.0 250.6h0M196.0 240.3h0M184.7 243.4h0M196.3 255.5h0M200.4 246.9h0M194.2 249.3h0M195.7 247.5h0M195.9 242.5h0M185.5 250.0h0M190.0 248.4h0M172.8 239.7h0M188.3 256.6h0M183.4 249.0h0M189.5 244.3h0M201.3 252.9h0M197.1 249.8h0M198.1 253.4h0M205.7 245.2h0M164.1 251.1h0M197.6 242.2h0M192.2 241.2h0M191.3 246.4h0M176.9 249.3h0M199.0 245.0h0M206.2 245.7h0M204.7 252.6h0M191.5 241.0h0M200.1 245.1h0M203.5 242.0h0M214.2 252.9h0M207.1 241.4h0M194.2 235.4h0M193.6 243.3h0M194.5 254.2h0M195.2 246.3h0M186.5 247.2h0M201.7 245.1h0M184.2 248.2h0M182.9 244.4h0M196.7 248.9h0M185.6 245.7h0M189.5 250.4h0M167.7 247.2h0M201.9 241.0h0M192.4 249.3h0M190.9 243.2h0M198.0 251.1h0M194.9 248.5h0M184.1 248.3h0M216.4 239.0h0M187.1 250.9h0M204.1 239.7h0M214.3 253.5h0M185.0 247.8h0M193.5 241.8h0M182.7 243.4h0M205.0 251.5h0M188.4 253.3h0M179.3 242.6h0M208.1 252.7h0M203.4 243.1h0M181.8 249.9h0M206.5 246.1h0M194.8 234.3h0M224.8 237.1h0M212.9 241.3h0M185.8 254.3h0M189.2 245.1h0M182.0 246.8h0M194.0 247.1h0M193.0 239.5h0M201.2 255.4h0M193.4 244.9h0M174.9 246.7h0M182.7 251.1h0M209.3 236.8h0M206.2 252.8h0M190.5 246.6h0M190.8 246.3h0M190.4 258.4h0M192.7 254.3h0M172.4 252.7h0M203.1 242.0h0M184.5 242.0h0M194.1 243.4h0M162.2 246.7h0M195.2 258.3h0M208.4 244.9h0M165.7 250.6h0M210.5 239.7h0M198.0 239.3h0M183.6 235.2h0M173.5 243.7h0M206.3 241.8h0M195.5 252.1h0M199.5 246.0h0M189.1 253.4h0M182.9 242.3h0M202.8 252.6h0M181.0 248.3h0M203.1 250.6h0M172.4 250.0h0M181.3 244.7h0M175.1 250.4h0M208.0 244.9h0M171.5 252.9h0M178.8 239.8h0M200.3 249.8h0M195.1 241.2h0M218.6 234.2h0M214.4 258.8h0M199.8 251.7h0M200.6 247.5h0M170.6 241.4h0M181.9 249.7h0M188.5 244.9h0M190.3 250.7h0M175.9 244.4h0M181.3 253.7h0M182.3 242.7h0M205.1 262.2h0M197.5 256.6h0M188.4 237.2h0M189.1 245.9h0M195.9 251.4h0M184.0 235.3h0M189.2 241.2h0M171.8 241.6h0M200.4 248.7h0M203.9 242.9h0M196.7 243.8h0M198.1 255.4h0M196.8 243.4h0M216.8 246.7h0M194.8 239.7h0M176.6 240.4h0M179.8 250.7h0M200.9 249.6h0M205.1 245.2h0M201.6 242.8h0M202.4 248.5h0M194.6 247.3h0M174.6 244.2h0M183.9 244.8h0M170.7 241.4h0M187.7 245.7h0M176.0 252.2h0M193.5 256.2h0M190.3 242.5h0M169.0 249.5h0M201.1 248.3h0M201.5 247.9h0M175.7 255.9h0M194.1 248.8h0M200.9 260.4h0M188.9 249.1h0M202.6 251.1h0M194.6 236.8h0M205.2 243.8h0M194.5 247.8h0M190.3 246.0h0M198.4 242.6h0M201.7 250.4h0M195.3 247.9h0M186.9 248.9h0M182.8 233.8h0M187.8 246.6h0M185.4 257.7h0M194.7 242.4h0M194.3 232.7h0M191.2 252.0h0M192.2 228.0h0M194.3 247.0h0M211.1 240.6h0M206.7 249.2h0M185.3 248.5h0M197.3 253.2h0M188.3 252.7h0M191.1 258.4h0M189.3 240.7h0M184.7 253.3h0M175.8 245.5h0M162.6 246.3h0M194.6 250.2h0M206.4 245.9h0M181.3 247.8h0M198.3 249.2h0M187.5 246.7h0M195.5 246.4h0M182.5 252.7h0M189.4 253.9h0M190.8 251.4h0M163.5 247.4h0M194.8 239.2h0M190.5 238.9h0M162.2 246.4h0M200.0 241.3h0M191.7 246.2h0M194.6 240.7h0M196.5 245.9h0M187.1 244.9h0M179.2 248.9h0M186.8 247.1h0M187.0 236.7h0M218.9 252.2h0M214.4 245.9h0M186.2 250.3h0M187.1 241.8h0M196.0 236.8h0M198.9 248.2h0M183.7 262.2h0M180.0 244.0h0M215.5 242.5h0M204.9 255.4h0M173.3 248.9h0M170.7 248.1h0M182.1 259.8h0M194.7 243.0h0M198.7 244.2h0M187.9 245.7h0M172.5 253.4h0M194.7 250.6h0M199.3 250.0h0M192.0 244.2h0M186.0 252.5h0M199.0 238.6h0M191.3 244.8h0M178.4 259.3h0M193.2 237.6h0M176.3 246.7h0M203.7 249.4h0M197.7 246.1h0M179.9 257.3h0M194.6 245.7h0M207.2 259.6h0M166.0 253.5h0M190.3 239.5h0M212.0 239.1h0M173.1 249.5h0M190.0 252.2h0M174.7 242.5h0M191.2 247.2h0M162.8 247.0h0M172.3 244.3h0M185.5 253.0h0M193.7 242.5h0M196.6 258.2h0M197.2 238.7h0M206.0 254.9h0M200.5 250.0h0M201.0 250.2h0M180.1 243.4h0M190.1 242.9h0M230.9 243.3h0M219.7 242.8h0M202.1 243.9h0M201.1 246.9h0M204.1 256.9h0M187.1 259.7h0M216.0 258.5h0M187.4 247.4h0M191.0 248.2h0M218.7 246.6h0M166.5 246.8h0M196.4 248.0h0M170.9 253.3h0M184.0 255.5h0M190.9 257.4h0M187.7 240.4h0M194.1 241.9h0M182.6 254.8h0M190.7 248.5h0M177.4 245.1h0M187.3 238.4h0M175.0 251.0h0M200.1 245.6h0M176.1 241.3h0M200.5 256.1h0M186.9 251.2h0M188.3 247.3h0M206.5 250.3h0M193.3 235.3h0M168.7 243.2h0M198.2 245.6h0M156.3 253.7h0M195.3 242.1h0M187.1 243.7h0M174.8 250.5h0M193.0 249.3h0M188.2 255.2h0M216.8 246.3h0M186.6 242.4h0M216.0 240.5h0M209.1 243.1h0M184.5 242.8h0M181.9 250.6h0M208.3 248.9h0M190.3 240.4h0M194.0 244.4h0M188.9 251.5h0M177.0 244.9h0M187.4 242.6h0M180.1 243.6h0M173.1 247.2h0M188.4 250.0h0M214.1 243.9h0M212.1 236.8h0M191.2 246.2h0M193.7 250.6h0M198.4 244.9h0M208.9 253.0h0M196.0 245.6h0M186.1 248.9h0M187.2 241.9h0M206.1 245.8h0M224.3 239.9h0M184.2 234.7h0M166.5 249.3h0M202.1 251.2h0M191.1 244.5h0M193.7 247.4h0M207.4 245.6h0M192.9 250.3h0M175.5 244.7h0M167.6 247.7h0M191.4 258.9h0M177.6 248.9h0M195.6 245.0h0M176.2 241.2h0M187.6 250.4h0M173.7 252.2h0M187.5 240.9h0M186.5 250.6h0M199.4 246.1h0M208.8 243.7h0M189.7 243.1h0M181.3 247.4h0M216.4 252.1h0M196.6 241.3h0M199.7 249.1h0M199.6 249.5h0M210.2 235.3h0M204.6 241.7h0M200.5 252.5h0M201.6 249.2h0M181.3 248.8h0M184.5 251.4h0M190.7 257.6h0M193.2 242.6h0M192.3 242.8h0M195.9 245.5h0M192.4 249.2h0M186.7 246.1h0M171.8 244.4h0M202.5 252.3h0M199.4 248.5h0M181.1 250.5h0M198.3 243.0h0M197.0 245.4h0M193.0 254.1h0M169.1 251.4h0M177.0 238.0h0M184.6 252.6h0M212.2 245.4h0M181.4 250.9h0M187.7 240.4h0M178.2 248.0h0M185.9 249.7h0M196.3 253.3h0M166.2 249.5h0M156.7 244.0h0M200.3 243.0h0M192.5 254.2h0M184.5 238.9h0M204.2 247.9h0M204.2 252.3h0M165.9 247.5h0M190.0 250.5h0M205.9 249.6h0M183.7 250.8h0M188.1 247.7h0M204.0 249.3h0M188.7 256.5h0M177.1 244.8h0M183.5 250.3h0M175.5 241.2h0M199.0 243.9h0M170.5 244.6h0M204.6 245.5h0M171.5 240.9h0M192.6 248.8h0M173.7 253.2h0M188.1 245.4h0M204.8 261.3h0M206.1 248.5h0M208.4 245.2h0M190.9 249.4h0M193.4 240.2h0M195.0 243.1h0M199.8 246.1h0M187.1 249.5h0M205.8 240.5h0M196.1 250.6h0M206.4 248.7h0M198.0 242.8h0M200.5 243.5h0M182.9 236.4h0M186.9 248.5h0M175.9 258.0h0M188.4 243.7h0M189.9 240.3h0M202.5 247.5h0M176.3 239.3h0M232.5 235.7h0M190.5 250.8h0M207.8 249.0h0M205.1 253.3h0M160.6 245.5h0M188.8 243.3h0M210.5 243.0h0M161.7 255.1h0M201.7 250.8h0M180.6 255.4h0M186.2 256.1h0M194.9 254.3h0M168.7 256.7h0M194.5 248.0h0M184.0 245.1h0M182.7 244.1h0M200.8 246.8h0M235.9 248.9h0M196.3 247.0h0M199.0 243.7h0M191.4 248.7h0M183.0 247.2h0M195.3 248.6h0M211.0 249.2h0M194.4 246.8h0M203.2 252.7h0M189.2 241.5h0M223.5 254.3h0M171.4 245.5h0M199.3 254.2h0M198.8 238.6h0M195.3 242.3h0M178.1 252.1h0M177.8 250.2h0M189.1 253.4h0M193.2 247.4h0M176.8 245.5h0M178.7 233.8h0M199.0 254.2h0M204.9 239.9h0M185.0 250.6h0M183.2 246.0h0M182.9 242.8h0M222.9 242.9h0M198.1 244.6h0M191.1 248.2h0M204.5 246.6h0M220.7 245.1h0M206.6 240.0h0M174.1 255.8h0M190.9 249.8h0M186.9 254.1h0M187.6 252.5h0M176.7 252.1h0M187.0 241.4h0M178.4 236.1h0M196.2 239.6h0M192.5 253.5h0M174.2 247.5h0M170.5 254.2h0M185.9 245.0h0M200.1 239.9h0M198.1 243.7h0M191.1 242.5h0M150.5 249.7h0M185.7 258.1h0M182.6 258.3h0M187.7 247.8h0M176.6 244.7h0M186.5 240.5h0M183.6 249.4h0M225.9 245.3h0M200.7 245.4h0M189.5 241.5h0M191.3 247.5h0M190.4 253.1h0M194.2 241.2h0M186.8 245.1h0M191.7 245.1h0M204.8 253.5h0M202.3 246.7h0M195.8 256.3h0M208.6 257.3h0M194.7 248.3h0M179.6 250.0h0M170.0 245.0h0M183.2 239.7h0M191.1 247.4h0M196.9 237.3h0M205.4 249.7h0M184.7 243.3h0M181.8 254.4h0M201.6 246.0h0M206.6 248.2h0M185.9 248.5h0M196.1 243.8h0M209.1 256.6h0M195.9 246.3h0M191.2 251.6h0M165.8 247.6h0M208.5 244.3h0M200.0 248.8h0M193.5 249.1h0M186.1 253.6h0M176.3 244.8h0M190.6 250.8h0M190.5 244.8h0M205.6 254.3h0M176.7 240.4h0M210.0 251.9h0M192.3 240.9h0M206.8 248.9h0M179.7 244.7h0M196.2 247.7h0M207.2 242.8h0M193.3 247.1h0M173.5 241.1h0M187.7 243.7h0M198.6 243.2h0M174.4 238.9h0M173.8 251.7h0M194.8 240.0h0M180.0 247.3h0M200.4 254.8h0M177.2 245.2h0M168.9 249.2h0M182.2 238.4h0M210.6 249.0h0M181.1 247.3h0M191.8 245.9h0M195.0 257.3h0M180.0 244.9h0M205.6 251.9h0M194.1 239.4h0M197.5 237.9h0M170.8 248.1h0M170.0 256.6h0M157.4 247.6h0M189.5 246.3h0M189.0 243.4h0M201.0 248.4h0M210.5 252.8h0M188.7 248.0h0M188.5 252.3h0M197.6 237.3h0M211.1 250.1h0M181.6 251.1h0M199.8 247.1h0M188.8 254.0h0M187.7 249.7h0M202.1 247.4h0M182.0 250.2h0M178.5 249.1h0M200.3 240.1h0M191.6 244.8h0M188.6 254.5h0M190.3 249.5h0M198.1 242.8h0M187.3 250.8h0M201.5 246.3h0M197.1 247.1h0M210.5 243.5h0M207.8 247.4h0M202.7 247.4h0M189.4 251.9h0M193.4 245.1h0M184.5 252.5h0M227.6 236.3h0M189.2 247.4h0M198.9 248.0h0M209.0 242.2h0M174.9 248.3h0M181.6 247.1h0M187.0 247.6h0M179.5 251.6h0M176.1 252.8h0M185.5 251.2h0M208.1 240.3h0M201.0 250.1h0M192.4 249.3h0M192.3 249.5h0M171.2 244.3h0M200.7 236.1h0M197.3 251.9h0M178.4 244.8h0M194.6 246.4h0M189.6 248.9h0M185.5 244.7h0M179.6 254.5h0M183.5 243.0h0M180.2 246.4h0M197.8 252.3h0M196.6 238.4h0M196.0 242.4h0M189.7 241.0h0M186.9 255.2h0M217.5 247.5h0M168.7 250.9h0M207.0 243.1h0M196.4 239.6h0M192.9 257.4h0M185.6 247.3h0M189.3 247.9h0M177.2 242.4h0M174.7 248.1h0M190.6 254.0h0M171.3 249.1h0M202.5 252.3h0M206.0 250.7h0M149.0 248.7h0M172.6 250.5h0M195.4 245.5h0M194.7 255.2h0M193.4 234.6h0M197.3 240.1h0M201.4 242.9h0M202.9 253.6h0M214.4 257.8h0M192.4 251.8h0M202.8 247.9h0M171.8 236.0h0M190.4 240.2h0M176.8 250.6h0M209.5 239.9h0M221.2 239.3h0M198.8 246.8h0M175.8 241.3h0M190.7 245.4h0M192.4 250.6h0M194.5 253.3h0M205.7 247.2h0M204.0 241.3h0M159.0 255.8h0M209.2 255.1h0M185.9 244.4h0M185.1 262.0h0M209.8 236.6h0M188.7 249.6h0M175.0 243.9h0M175.5 237.8h0M192.8 254.9h0M203.4 252.3h0M210.9 234.3h0M190.0 248.8h0M186.2 248.1h0M212.4 245.0h0M186.4 241.7h0M210.3 239.2h0M195.0 246.4h0M195.1 248.8h0M189.2 247.4h0M195.8 245.3h0M186.3 240.3h0M183.6 246.8h0M190.4 237.4h0M184.0 252.1h0M195.9 244.1h0M193.2 237.6h0M188.8 240.3h0M189.6 245.4h0M189.2 252.0h0M213.8 250.0h0M192.0 248.0h0M184.7 245.8h0M188.4 248.6h0M200.4 254.6h0M189.6 251.2h0M190.2 244.4h0M188.9 242.8h0M194.2 254.6h0M197.0 248.9h0M197.6 255.9h0M171.7 251.0h0M178.8 228.6h0M159.2 248.2h0M202.1 248.6h0M205.9 249.7h0M208.3 253.0h0M193.9 257.1h0M206.4 246.7h0M191.6 248.6h0M190.6 239.2h0M172.8 256.7h0M182.3 245.2h0M184.7 240.2h0M203.6 257.2h0M212.8 242.7h0M186.2 256.0h0M196.7 244.1h0M195.5 239.0h0M182.4 247.6h0M170.6 246.5h0M182.7 251.3h0M174.1 246.3h0M188.1 241.2h0M190.3 248.2h0M189.8 248.0h0M190.0 245.1h0M198.1 242.4h0M180.4 256.4h0M203.2 246.3h0M171.2 251.7h0M192.8 244.4h0M196.9 241.3h0M182.2 245.9h0M172.2 241.0h0M200.0 252.1h0M183.6 249.7h0M201.8 252.0h0M201.6 246.4h0M192.0 246.6h0M192.0 248.2h0M204.4 253.1h0M196.7 247.3h0M180.4 250.0h0M194.1 243.8h0M199.0 248.3h0M194.6 240.8h0M194.4 245.8h0M190.2 257.2h0M190.6 248.1h0M180.4 255.3h0M174.2 242.7h0M206.1 238.8h0M184.1 247.6h0M194.8 244.6h0M173.4 255.7h0M194.0 259.1h0M181.7 250.5h0M229.0 246.9h0M179.4 255.8h0M180.0 247.1h0M203.8 244.9h0M206.2 243.1h0M165.8 239.9h0M195.2 242.6h0M203.0 248.6h0M176.8 247.2h0M200.5 243.5h0M185.5 253.0h0M179.6 240.5h0M187.7 242.5h0M186.3 248.6h0M174.8 251.3h0M219.8 225.5h0M186.4 242.8h0M182.8 242.4h0M202.6 237.0h0M191.1 241.9h0M208.6 245.3h0M188.7 243.5h0M196.4 251.8h0M193.2 243.2h0M194.1 255.3h0M189.4 244.9h0M190.7 244.2h0M212.8 254.6h0M183.6 237.1h0M185.2 253.6h0M187.8 241.6h0M199.1 249.6h0M197.0 245.2h0M203.6 250.1h0M175.4 234.4h0M195.2 241.4h0M189.8 237.4h0M188.5 243.0h0M194.1 243.2h0M167.6 247.3h0M195.4 248.2h0M193.8 243.7h0M174.3 246.9h0M190.8 247.9h0M211.2 253.6h0M187.2 248.9h0M199.4 243.5h0M189.2 249.7h0M182.0 245.6h0M180.6 248.3h0M187.1 252.8h0M208.1 251.2h0M202.1 250.6h0M183.3 249.0h0M204.4 247.9h0M190.4 241.1h0M183.5 253.2h0M197.4 257.8h0M180.7 243.8h0M172.6 250.3h0M208.1 247.0h0M169.4 234.2h0M198.7 238.8h0M173.2 244.6h0M191.7 241.9h0M189.6 246.5h0M186.6 242.1h0M165.0 251.4h0M190.7 250.9h0M191.6 249.5h0M180.9 238.9h0M191.2 238.6h0M204.3 249.7h0M183.2 241.1h0M195.2 247.7h0M177.8 241.8h0M196.8 248.5h0M200.0 241.5h0M222.7 246.3h0M203.2 248.0h0M197.4 246.9h0M209.5 245.4h0M179.8 250.6h0M205.3 253.8h0M185.3 238.1h0M184.4 249.4h0M205.6 256.2h0M195.0 259.1h0M208.4 261.4h0M174.2 251.0h0M195.4 239.5h0M185.6 256.0h0M188.8 248.8h0M168.6 257.9h0M203.7 240.5h0M194.7 244.9h0M180.0 245.7h0M175.5 240.3h0M181.4 238.5h0M209.3 240.6h0M190.9 250.1h0M188.0 254.3h0M198.2 252.3h0M192.3 256.4h0M195.0 237.0h0M201.3 247.6h0M196.2 246.1h0M203.0 245.4h0M177.5 236.6h0M193.0 249.9h0M187.8 240.7h0M193.5 245.2h0M191.7 247.8h0M184.4 257.6h0M187.9 242.1h0M203.9 250.4h0M185.5 249.7h0M177.0 246.3h0M199.5 246.1h0M204.2 240.3h0M189.0 250.7h0M193.8 245.9h0M182.0 245.8h0M189.8 246.9h0M205.9 242.6h0M202.1 247.9h0M194.1 240.3h0M188.9 250.9h0M172.3 255.5h0M196.2 247.0h0M197.9 240.3h0M205.3 249.1h0M217.0 249.2h0M197.0 248.6h0M204.1 245.5h0M178.7 248.4h0M207.1 244.6h0M203.0 255.8h0M209.1 238.1h0M200.6 243.4h0M197.9 251.3h0M210.5 238.7h0M184.3 244.8h0M200.3 238.6h0M205.7 252.7h0M182.8 238.3h0M178.3 247.2h0M197.7 257.8h0M194.0 242.7h0M199.9 248.2h0M200.3 252.0h0M183.1 248.4h0M196.6 257.2h0M206.2 243.1h0M188.2 248.2h0M189.0 248.5h0M178.7 239.8h0M202.5 246.3h0M216.3 249.5h0M175.8 252.7h0M201.8 246.8h0M203.5 240.7h0M185.7 250.3h0M188.0 252.7h0M179.8 242.4h0M183.0 247.0h0M194.6 246.9h0M200.5 235.3h0M194.0 253.4h0M203.0 245.4h0M195.1 256.4h0M178.3 249.1h0M210.3 243.0h0M207.0 240.2h0M183.9 254.1h0M214.2 241.4h0M180.1 252.3h0M167.1 257.5h0M204.1 245.5h0M168.9 254.3h0M156.3 265.5h0M175.0 268.1h0M142.3 253.0h0M191.2 254.7h0M183.0 243.2h0M163.2 255.6h0M177.7 258.0h0M176.6 250.0h0M196.6 251.8h0M160.1 256.2h0M150.4 263.6h0M139.8 255.7h0M164.7 248.6h0M146.5 261.8h0M166.4 244.1h0M174.8 257.3h0M162.6 254.3h0M155.4 267.2h0M185.9 263.9h0M166.0 242.2h0M172.2 245.3h0M182.5 245.3h0M150.2 268.5h0M155.7 255.6h0M204.6 246.2h0M166.6 254.7h0M154.0 255.4h0M165.2 261.1h0M160.7 257.1h0M151.3 264.8h0M163.0 257.9h0M168.6 252.5h0M168.7 259.7h0M176.6 255.2h0M144.1 261.6h0M147.5 258.3h0M180.2 247.2h0M162.5 254.4h0M186.3 249.4h0M173.2 263.0h0M148.7 260.4h0M176.6 248.4h0M154.4 262.6h0M172.6 256.9h0M186.5 257.9h0M199.1 241.4h0M167.9 257.8h0M178.9 257.7h0M173.2 250.2h0M180.2 246.0h0M132.4 257.8h0M163.3 249.6h0M173.0 252.8h0M175.6 254.5h0M158.1 259.3h0M180.7 256.0h0M184.7 255.9h0M169.9 252.3h0M165.6 256.0h0M163.8 255.1h0M170.9 250.7h0M185.7 252.3h0M190.3 259.7h0M162.2 260.9h0M155.6 264.0h0M157.6 268.6h0M182.9 251.8h0M172.1 261.7h0M173.2 262.1h0M175.8 260.4h0M174.3 248.5h0M167.1 257.0h0M154.0 251.1h0M160.1 256.8h0M170.6 257.2h0M174.5 250.4h0M163.6 252.0h0M163.0 255.1h0M188.4 258.0h0M162.2 258.8h0M172.1 261.6h0M164.4 257.2h0M156.7 256.3h0M147.3 249.2h0M161.2 247.3h0M157.2 252.6h0M181.0 246.8h0M152.5 256.1h0M163.0 238.5h0M178.2 243.7h0M167.3 238.6h0M175.9 251.3h0M180.8 250.3h0M145.3 252.2h0M163.0 254.6h0M155.2 255.2h0M188.1 257.8h0M167.2 249.3h0M175.9 252.8h0M193.0 245.7h0M163.8 257.1h0M169.9 265.7h0M174.7 250.7h0M165.1 248.2h0M186.7 259.8h0M180.5 258.9h0M183.1 254.3h0M169.6 256.3h0M164.0 266.3h0M163.9 244.7h0M163.7 249.4h0M145.6 262.6h0M174.0 265.3h0M180.4 250.7h0M168.7 242.5h0M161.9 250.9h0M169.4 247.6h0M172.1 260.2h0M173.5 252.6h0M194.3 259.9h0M156.8 244.5h0M174.0 250.4h0M178.6 266.3h0M170.0 266.2h0M165.5 252.4h0M154.4 256.4h0M160.5 258.2h0M178.8 249.3h0M189.4 238.9h0M159.6 254.1h0M175.5 265.0h0M176.2 254.6h0M183.1 260.7h0M172.3 259.3h0M175.1 251.8h0M181.5 253.8h0M152.4 264.3h0M169.5 254.9h0M144.0 264.1h0M141.1 256.2h0M157.3 258.3h0M147.2 256.1h0M176.0 255.4h0M182.8 247.9h0M164.5 256.5h0M166.9 255.3h0M165.5 259.0h0M165.2 254.6h0M170.7 265.7h0M173.8 237.5h0M162.3 260.3h0M157.8 256.2h0M161.5 259.1h0M180.1 256.1h0M162.9 253.4h0M189.2 254.7h0M165.4 258.2h0M188.0 260.3h0M152.1 263.5h0M159.1 263.9h0M175.5 242.6h0M175.7 262.1h0M166.6 262.0h0M197.4 249.0h0M169.8 245.9h0M172.9 264.8h0M160.8 266.0h0M192.0 250.3h0M180.8 250.8h0M174.6 262.8h0M145.9 270.0h0M173.9 260.1h0M162.3 251.4h0M174.3 254.3h0M181.6 248.2h0M158.3 257.4h0M171.8 254.7h0M181.1 249.1h0M171.1 255.3h0M164.2 254.3h0M154.0 263.2h0M159.4 260.3h0M151.0 255.0h0M182.6 254.2h0M170.2 259.4h0M151.8 253.7h0M168.7 251.6h0M150.8 258.1h0M122.9 267.4h0M185.6 246.6h0M185.1 236.7h0M148.2 263.6h0M158.7 266.3h0M171.6 259.4h0M163.4 261.7h0M156.8 264.9h0M161.6 263.6h0M165.4 250.3h0M161.0 250.9h0M171.7 245.3h0M165.5 250.9h0M158.1 259.8h0M169.1 248.2h0M145.6 262.7h0M188.9 253.8h0M144.5 266.4h0M167.6 247.6h0M173.5 247.9h0M174.5 257.0h0M172.4 256.4h0M186.3 251.9h0M153.1 256.4h0M167.8 249.9h0M170.8 254.3h0M161.8 253.7h0M160.5 265.8h0M186.6 253.9h0M158.8 267.9h0M162.0 245.1h0M164.9 247.0h0M165.7 251.1h0M170.9 247.8h0M165.8 243.0h0M173.9 248.3h0M170.6 264.7h0M175.4 255.2h0M187.7 266.6h0M156.9 262.1h0M191.6 259.0h0M162.4 256.2h0M177.9 251.1h0M170.9 260.5h0M164.6 257.5h0M141.4 257.9h0M191.0 252.3h0M158.2 258.0h0M157.7 271.9h0M183.4 255.4h0M169.7 250.0h0M195.0 249.1h0M192.0 260.4h0M178.5 255.2h0M172.1 252.9h0M179.2 259.4h0M150.4 254.0h0M171.0 259.7h0M170.7 256.8h0M162.1 256.9h0M172.2 240.6h0M148.4 260.5h0M181.1 256.6h0M186.4 247.7h0M150.7 261.1h0M170.6 253.6h0M190.0 265.6h0M174.4 252.3h0M154.4 257.6h0M155.0 265.5h0M180.4 244.7h0M194.0 252.4h0M153.6 258.9h0M169.1 263.2h0M157.9 267.1h0M164.7 259.3h0M172.9 263.9h0M168.0 252.2h0M159.1 251.3h0M197.7 254.2h0M166.4 265.5h0M166.1 258.0h0M183.9 259.2h0M168.8 254.1h0M165.8 254.5h0M181.7 255.6h0M154.3 257.1h0M178.9 246.9h0M182.8 242.1h0M177.7 256.9h0M166.1 251.1h0M168.5 256.7h0M144.9 265.7h0M166.8 247.5h0M172.6 252.0h0M180.5 252.3h0M170.5 252.6h0M163.2 257.1h0M157.0 263.7h0M168.0 244.2h0M170.4 249.2h0M185.2 250.7h0M168.7 249.1h0M161.7 248.3h0M167.1 256.7h0M161.9 252.6h0M165.3 257.7h0M138.2 256.2h0M146.7 260.4h0M152.1 242.7h0M175.0 256.3h0M167.5 252.1h0M170.6 251.9h0M184.5 254.6h0M154.2 251.7h0M184.3 253.1h0M173.9 256.8h0M158.8 256.8h0M189.0 256.4h0M149.0 251.0h0M153.1 253.9h0M165.7 249.5h0M174.1 262.7h0M165.9 253.9h0M139.2 264.9h0M164.5 255.3h0M167.4 247.4h0M203.5 247.7h0M187.4 253.1h0M170.2 247.9h0M153.6 251.4h0M173.2 242.9h0M152.5 269.5h0M171.3 252.7h0M173.6 256.9h0M163.0 261.5h0M172.0 253.9h0M164.0 263.2h0M160.7 270.4h0M189.6 257.3h0M176.5 255.5h0M164.3 244.2h0M158.0 261.4h0M171.0 262.1h0M176.3 266.2h0M180.2 255.4h0M188.7 253.3h0M174.9 253.2h0M153.2 266.8h0M196.4 255.3h0M184.4 266.6h0M179.9 252.2h0M186.9 261.9h0M148.1 275.7h0M163.4 248.8h0M161.5 253.2h0M184.8 250.2h0M152.3 255.7h0M164.1 262.4h0M189.3 245.0h0M177.4 260.2h0M163.2 244.1h0M194.3 249.4h0M150.3 269.7h0M174.7 248.7h0M165.4 243.4h0M175.5 255.6h0M164.7 249.2h0M157.0 258.4h0M171.4 258.6h0M150.5 274.3h0M175.8 246.2h0M164.1 258.7h0M181.1 250.7h0M162.4 263.3h0M159.3 262.4h0M174.0 247.3h0M185.4 254.7h0M140.1 262.4h0M170.1 262.8h0M177.1 252.4h0M149.0 253.6h0M156.4 260.1h0M177.3 254.9h0M157.2 264.7h0M159.7 247.9h0M192.0 255.1h0M155.6 258.3h0M156.6 246.6h0M136.8 261.9h0M153.5 267.4h0M151.6 263.8h0M191.9 253.5h0M185.1 241.2h0M151.1 256.7h0M195.4 252.0h0M179.0 248.2h0M166.0 247.4h0M179.5 258.0h0M173.7 245.3h0M158.0 251.5h0M144.4 256.4h0M156.0 272.0h0M168.4 253.9h0M163.6 247.2h0M158.3 258.5h0M181.8 238.4h0M153.9 257.1h0M180.6 259.4h0M161.8 252.5h0M169.9 253.0h0M153.1 252.5h0M168.3 256.5h0M157.7 248.7h0M144.5 262.6h0M168.2 254.3h0M167.7 263.0h0M179.8 258.2h0M172.3 253.2h0M154.5 261.6h0M160.0 259.3h0M134.4 262.1h0M153.1 256.1h0M186.2 247.3h0M189.2 246.8h0M178.9 246.9h0M172.6 253.1h0M176.5 257.2h0M175.1 263.9h0M144.7 261.3h0M156.4 262.1h0M184.6 263.8h0M184.6 242.0h0M171.7 266.1h0M164.1 253.6h0M163.1 252.5h0M160.9 257.8h0M155.7 240.9h0M142.0 259.4h0M170.4 259.6h0M162.2 245.0h0M165.5 260.6h0M191.9 260.2h0M176.5 260.1h0M158.8 260.7h0M176.3 253.5h0M147.8 256.4h0M182.8 262.3h0M172.0 252.3h0M165.7 241.4h0M176.2 258.3h0M188.4 252.6h0M162.0 251.8h0M154.8 249.7h0M197.4 254.4h0M168.6 261.1h0M188.9 258.0h0M159.1 249.7h0M173.6 248.5h0M159.6 270.2h0M177.1 267.1h0M164.6 263.5h0M159.2 266.1h0M189.7 248.9h0M173.0 252.9h0M140.5 247.4h0M165.1 250.6h0M155.8 256.4h0M151.6 250.4h0M160.3 262.1h0M161.8 265.0h0M168.8 254.8h0M157.5 251.0h0M142.7 269.6h0M161.0 250.7h0M180.5 247.6h0M149.6 261.4h0M176.9 252.6h0M174.7 255.8h0M162.2 255.6h0M172.6 249.3h0M158.0 261.9h0M162.8 249.4h0M154.3 251.9h0M174.8 248.3h0M187.2 264.4h0M159.0 268.4h0M184.8 247.9h0M138.9 263.7h0M156.1 261.5h0M154.4 262.3h0M192.1 259.6h0M160.2 258.3h0M179.1 257.9h0M140.1 264.0h0M169.9 251.8h0M176.1 261.3h0M167.8 248.0h0M130.7 275.5h0M170.8 238.8h0M179.5 261.8h0M186.6 248.3h0M173.8 248.4h0M145.0 259.0h0M165.4 250.9h0M180.8 253.7h0M157.0 268.2h0M176.1 251.6h0M161.7 248.9h0M169.6 258.4h0M178.8 264.1h0M158.5 260.6h0M208.0 246.4h0M170.4 252.8h0M173.1 247.3h0M158.1 253.3h0M169.2 251.7h0M164.6 268.4h0M148.1 244.3h0M147.1 258.3h0M172.3 248.9h0M167.1 257.5h0M131.9 262.2h0M138.6 259.7h0M164.0 245.8h0M167.4 245.6h0M176.7 249.7h0M151.1 245.4h0M176.5 256.2h0M164.0 252.5h0M161.3 259.2h0M166.3 247.2h0M182.0 252.5h0M176.1 247.5h0M180.7 242.0h0M158.8 269.8h0M164.4 241.9h0M152.2 255.7h0M160.6 258.4h0M162.8 268.2h0M161.8 258.1h0M178.2 268.0h0M174.2 253.5h0M178.9 254.4h0M170.1 243.1h0M183.2 254.6h0M169.9 247.9h0M181.7 245.4h0M175.3 240.7h0M178.5 254.9h0M167.4 250.3h0M151.1 267.6h0M148.2 265.5h0M195.5 252.2h0M173.7 254.3h0M174.5 261.7h0M166.0 258.0h0M161.9 251.6h0M208.2 251.2h0M152.8 258.6h0M167.4 260.8h0M167.6 246.3h0M152.6 246.3h0M150.6 256.7h0M158.5 257.4h0M163.5 245.2h0M161.6 253.1h0M179.6 257.4h0M151.9 266.4h0M173.9 257.8h0M188.7 237.5h0M180.7 256.7h0M152.5 239.2h0M127.3 261.9h0M180.1 254.4h0M175.2 245.4h0M160.2 257.9h0M186.1 249.6h0M162.7 262.6h0M169.8 262.7h0M153.9 262.1h0M172.7 252.8h0M162.3 260.2h0M161.3 268.7h0M183.3 249.4h0M171.3 255.5h0M147.5 260.2h0M177.9 257.3h0M179.9 267.4h0M156.8 246.7h0M162.9 259.0h0M169.1 251.5h0M164.8 246.6h0M170.0 247.5h0M177.3 252.2h0M161.5 256.1h0M197.2 248.2h0M158.4 250.8h0M160.8 252.5h0M195.7 253.2h0M201.4 246.5h0M168.8 252.5h0M165.7 251.0h0M153.4 256.2h0M184.2 243.5h0M170.7 253.3h0M156.6 251.2h0M174.0 253.7h0M187.3 255.4h0M177.8 259.4h0M199.0 250.8h0M184.4 248.8h0M174.4 245.8h0M167.9 255.6h0M176.0 257.0h0M185.2 255.4h0M180.2 244.7h0M183.0 251.8h0M171.4 257.6h0M179.0 248.4h0M185.2 260.6h0M166.0 254.6h0M150.3 258.3h0M192.3 251.8h0M176.4 261.0h0M162.2 249.7h0M171.6 243.6h0M164.9 264.0h0M144.6 258.2h0M165.8 251.3h0M148.5 243.8h0M171.1 257.1h0M166.8 261.3h0M184.1 252.3h0M166.6 242.4h0M173.5 253.6h0M164.2 254.0h0M163.0 244.5h0M148.9 271.9h0M182.1 266.5h0M170.7 248.8h0M160.2 251.4h0M171.2 263.3h0M162.6 252.6h0M158.3 256.4h0M171.8 253.0h0M185.2 257.3h0M164.6 258.5h0M148.5 263.9h0M159.8 256.1h0M193.3 252.2h0M157.0 246.1h0M184.8 248.2h0M165.0 265.6h0M178.6 250.6h0M166.8 246.0h0M146.4 256.8h0M162.6 249.0h0M197.6 250.2h0M166.5 250.8h0M176.2 259.6h0M163.6 250.7h0M166.5 264.1h0M172.8 245.9h0M174.9 263.5h0M199.1 263.3h0M168.1 251.6h0M165.8 256.5h0M159.1 255.8h0M150.1 255.3h0M146.0 258.9h0M177.5 259.1h0M142.5 257.9h0M187.9 249.4h0M180.3 249.8h0M164.2 242.9h0M152.3 262.3h0M168.7 254.5h0M168.6 251.3h0M184.0 255.2h0M158.0 264.3h0M163.1 259.5h0M167.6 248.3h0M164.5 257.3h0M159.7 252.5h0M144.5 263.6h0M145.6 255.9h0M159.0 260.8h0M165.2 260.9h0M182.2 251.9h0M200.4 249.2h0M192.2 241.5h0M173.8 264.4h0M194.4 247.3h0M166.7 244.9h0M161.0 247.5h0M200.5 252.0h0M153.5 261.8h0M162.6 259.1h0M164.7 253.6h0M188.6 250.3h0M160.1 254.1h0M179.2 249.3h0M162.7 262.7h0M151.4 265.0h0M171.6 262.2h0M170.7 263.1h0M152.3 258.3h0M156.4 255.0h0M157.4 240.6h0M181.8 249.3h0M174.8 253.8h0M171.7 245.3h0M175.2 258.5h0M161.8 253.9h0M175.0 247.6h0M160.0 251.3h0M149.9 255.5h0M158.6 258.8h0M171.3 262.4h0M169.6 255.7h0M183.1 256.3h0M144.9 254.5h0M165.3 256.3h0M173.9 250.4h0M155.0 267.5h0M171.9 248.1h0M162.7 261.3h0M152.7 267.6h0M184.0 261.1h0M149.1 262.2h0M182.3 245.4h0M162.7 251.3h0M155.4 264.6h0M156.1 256.4h0M158.2 257.3h0M156.6 266.9h0M172.1 260.6h0M142.5 272.3h0M185.6 257.6h0M180.0 269.9h0M187.7 256.8h0M154.8 263.2h0M136.2 265.4h0M159.8 261.6h0M166.1 247.9h0M172.6 256.5h0M161.2 254.6h0M167.3 250.3h0M170.5 248.8h0M146.9 254.2h0M193.5 254.3h0M152.8 264.6h0M172.1 259.3h0M183.4 255.4h0M157.6 256.7h0M168.5 255.5h0M191.1 244.1h0M164.5 256.2h0M183.0 241.0h0M172.5 247.7h0M171.6 257.5h0M178.4 247.8h0M165.3 273.8h0M165.6 246.6h0M181.8 250.1h0M172.1 251.8h0M175.4 264.5h0M151.9 241.6h0M168.7 256.5h0M185.3 253.0h0M181.0 245.6h0M173.3 255.4h0M161.3 261.6h0M160.0 252.1h0M174.6 260.4h0M188.2 246.9h0M169.1 253.9h0M186.6 244.7h0M164.4 263.3h0M185.2 244.2h0M154.6 255.4h0M171.1 241.9h0M153.7 261.6h0M177.7 241.5h0M176.5 249.1h0M155.3 252.1h0M158.2 261.3h0M162.4 252.4h0M147.9 254.1h0M155.7 262.4h0M156.5 264.3h0M179.4 258.0h0M187.7 242.4h0M162.4 255.0h0M164.5 249.6h0M171.5 252.6h0M161.3 255.4h0M164.7 254.1h0M180.1 255.6h0M171.7 246.6h0M167.3 254.0h0M160.6 254.8h0M188.9 260.3h0M160.0 254.4h0M170.2 258.9h0M154.2 260.5h0M160.3 249.7h0M145.4 248.4h0M164.9 260.5h0M182.9 245.7h0M194.3 255.0h0M157.9 274.2h0M176.2 263.6h0M175.5 257.1h0M144.7 258.8h0M122.6 282.2h0M127.3 272.1h0M182.3 260.6h0M171.5 257.4h0M140.1 257.6h0M155.3 265.0h0M160.5 270.6h0M161.4 254.0h0M168.6 258.8h0M217.3 241.3h0M152.2 262.7h0M172.3 249.5h0M152.5 266.0h0M155.5 255.1h0M150.1 257.5h0M164.2 252.3h0M157.2 265.8h0M176.8 255.8h0M173.9 262.8h0M149.8 259.8h0M211.0 244.6h0M143.8 232.1h0M177.0 254.4h0M216.4 243.0h0M153.7 256.8h0M198.1 241.7h0M200.1 247.5h0M176.6 245.3h0M129.0 257.8h0M200.1 230.0h0M171.2 243.0h0M157.3 272.7h0M197.0 249.3h0M153.4 257.1h0M192.4 272.5h0M157.3 265.1h0M180.9 258.3h0M145.8 265.4h0M160.6 255.7h0M149.3 274.5h0M153.7 251.0h0M173.3 248.2h0M165.5 253.0h0M173.3 258.1h0M197.1 252.0h0M166.7 260.2h0M128.8 250.7h0M163.0 252.0h0M171.0 237.5h0M191.4 256.1h0M191.7 239.6h0M189.9 258.1h0M164.3 257.9h0M183.3 263.2h0M137.8 255.1h0M197.3 252.5h0M178.8 248.8h0M180.3 240.8h0M161.0 257.3h0M170.4 252.1h0M154.7 249.5h0M181.5 254.6h0M140.3 264.4h0M190.4 249.7h0M181.1 249.6h0M213.3 242.8h0M168.4 248.3h0M167.2 262.0h0M173.4 251.1h0M170.0 244.5h0M166.9 260.2h0M145.2 255.6h0M145.2 264.4h0M156.9 255.8h0M162.9 240.9h0M143.4 257.5h0M144.0 267.7h0M163.1 253.4h0M185.4 251.6h0M165.1 246.2h0M184.0 266.1h0M190.4 261.1h0M185.9 254.2h0M160.1 270.9h0M160.4 246.6h0M128.7 279.2h0M154.4 265.1h0M179.4 267.6h0M145.6 264.7h0M198.7 244.6h0M200.4 246.1h0M161.2 248.4h0M189.3 247.6h0M138.4 278.0h0M146.4 256.0h0M161.1 273.3h0M169.4 260.2h0M165.2 259.7h0M150.5 263.0h0M212.0 245.6h0M175.6 262.1h0M175.5 239.3h0M184.0 248.3h0M173.1 244.5h0M164.2 249.5h0M157.1 249.2h0M133.6 260.8h0M201.7 233.7h0M149.2 267.8h0M133.1 256.3h0M151.7 258.0h0M134.4 262.3h0M212.6 247.1h0M177.2 261.3h0M199.9 243.8h0M200.9 244.4h0M181.6 253.1h0M181.7 247.4h0M153.5 267.1h0M167.4 272.2h0M156.1 262.6h0M170.2 257.7h0M154.0 235.3h0M196.8 254.1h0M185.9 244.2h0M166.9 248.4h0M132.9 241.5h0M184.1 252.6h0M188.5 247.2h0M167.8 257.6h0M141.8 267.1h0M178.6 263.4h0M192.1 259.7h0M127.6 248.3h0M181.5 251.5h0M129.8 262.3h0M171.0 255.3h0M207.2 255.7h0M171.2 255.7h0M179.7 254.6h0M162.3 250.7h0M169.1 247.5h0M220.3 263.6h0M198.2 249.7h0M162.4 244.2h0M161.0 265.9h0M169.6 257.8h0M216.9 247.8h0M173.8 245.2h0M193.4 247.1h0M161.3 258.7h0M141.6 254.8h0M198.0 242.5h0M167.6 252.4h0M152.2 241.2h0M154.2 253.8h0M154.7 267.0h0M156.1 264.4h0M135.8 261.3h0M195.3 254.0h0M177.5 249.0h0M190.4 249.7h0M161.8 241.2h0M176.8 247.4h0M172.9 241.8h0M194.7 259.1h0M186.9 257.1h0M177.0 248.4h0M155.2 256.7h0M143.2 253.4h0M151.9 255.7h0M155.5 263.0h0M157.6 241.9h0M142.4 248.9h0M205.2 264.8h0M175.1 260.4h0M125.5 261.2h0M145.6 252.6h0M140.2 260.1h0M174.4 267.1h0M192.3 245.1h0M147.9 260.3h0M182.6 243.0h0M163.3 253.7h0M194.1 243.3h0M198.8 244.2h0M176.0 246.8h0M184.8 258.1h0M169.2 246.4h0M161.2 254.8h0M144.1 270.1h0M176.3 258.2h0M167.7 258.8h0M160.9 252.5h0M167.6 249.6h0M165.2 266.1h0M146.8 252.0h0M157.8 257.6h0M193.9 261.7h0M164.2 248.7h0M199.4 258.4h0M144.3 269.5h0M140.0 252.6h0M172.0 247.1h0M186.0 259.2h0M155.1 247.9h0M182.7 244.8h0M189.4 257.5h0M192.4 234.6h0M166.8 256.4h0M168.1 253.6h0M133.6 281.6h0M169.7 249.8h0M175.3 260.2h0M199.7 247.5h0M141.8 274.4h0M151.0 247.6h0M147.6 245.3h0M188.6 236.0h0M114.7 289.2h0M145.9 253.3h0M213.7 246.5h0M183.4 280.6h0M140.6 265.8h0M167.9 256.4h0M187.5 240.3h0M181.1 261.3h0M164.5 254.2h0M152.2 258.2h0M187.2 249.8h0M169.1 259.0h0M186.7 245.1h0M177.8 245.6h0M159.2 268.9h0M200.3 241.3h0M158.5 263.5h0M178.5 256.6h0M155.6 247.1h0M164.3 255.2h0M163.9 250.9h0M155.0 250.2h0M174.4 249.3h0M197.4 256.4h0M209.2 258.6h0M200.1 245.2h0M165.5 249.1h0M200.6 248.0h0M178.3 255.8h0M207.9 242.5h0M142.2 259.1h0M201.1 263.3h0M156.4 254.5h0M190.5 245.4h0M200.0 268.1h0M141.5 252.9h0M146.5 259.9h0M184.5 251.5h0M157.2 252.0h0M170.6 255.3h0M205.9 234.2h0M186.8 244.3h0M237.0 247.2h0M183.2 250.2h0M233.1 231.3h0M210.5 237.4h0M173.8 254.1h0M170.3 250.8h0M219.2 219.8h0M155.4 254.9h0M157.2 231.7h0M182.2 239.9h0M198.1 213.2h0M140.5 223.9h0M139.3 225.8h0M144.3 299.5h0M187.7 291.1h0M241.8 235.4h0M249.6 236.2h0M230.2 238.1h0M124.0 244.2h0M171.5 284.2h0M114.1 275.8h0"/>
<line x1="147.9" y1="200.9" x2="147.9" y2="318.4" class="dash"/>
<line x1="166.5" y1="200.9" x2="166.5" y2="318.4" class="dash"/>
<line x1="64.6" y1="263.6" x2="249.8" y2="263.6" class="dash"/>
<line x1="64.6" y1="255.7" x2="249.8" y2="255.7" class="dash"/>
<rect x="64.6" y="200.9" width="185.2" height="117.5" class="frame"/>
<line x1="64.6" y1="318.4" x2="64.6" y2="320.9" class="tick"/>
<text x="64.6" y="326.7" class="tl" text-anchor="middle">−10.0</text>
<line x1="87.8" y1="318.4" x2="87.8" y2="320.9" class="tick"/>
<text x="87.8" y="326.7" class="tl" text-anchor="middle">−7.5</text>
<line x1="110.9" y1="318.4" x2="110.9" y2="320.9" class="tick"/>
<text x="110.9" y="326.7" class="tl" text-anchor="middle">−5.0</text>
<line x1="134.1" y1="318.4" x2="134.1" y2="320.9" class="tick"/>
<text x="134.1" y="326.7" class="tl" text-anchor="middle">−2.5</text>
<line x1="157.2" y1="318.4" x2="157.2" y2="320.9" class="tick"/>
<text x="157.2" y="326.7" class="tl" text-anchor="middle">0.0</text>
<line x1="180.4" y1="318.4" x2="180.4" y2="320.9" class="tick"/>
<text x="180.4" y="326.7" class="tl" text-anchor="middle">2.5</text>
<line x1="203.5" y1="318.4" x2="203.5" y2="320.9" class="tick"/>
<text x="203.5" y="326.7" class="tl" text-anchor="middle">5.0</text>
<line x1="226.7" y1="318.4" x2="226.7" y2="320.9" class="tick"/>
<text x="226.7" y="326.7" class="tl" text-anchor="middle">7.5</text>
<line x1="249.8" y1="318.4" x2="249.8" y2="320.9" class="tick"/>
<text x="249.8" y="326.7" class="tl" text-anchor="middle">10.0</text>
<line x1="62.1" y1="200.9" x2="64.6" y2="200.9" class="tick"/>
<text x="60.3" y="203.4" class="tl" text-anchor="end">15</text>
<line x1="62.1" y1="220.5" x2="64.6" y2="220.5" class="tick"/>
<text x="60.3" y="223.0" class="tl" text-anchor="end">10</text>
<line x1="62.1" y1="240.1" x2="64.6" y2="240.1" class="tick"/>
<text x="60.3" y="242.6" class="tl" text-anchor="end">5</text>
<line x1="62.1" y1="259.6" x2="64.6" y2="259.6" class="tick"/>
<text x="60.3" y="262.1" class="tl" text-anchor="end">0</text>
<line x1="62.1" y1="279.2" x2="64.6" y2="279.2" class="tick"/>
<text x="60.3" y="281.7" class="tl" text-anchor="end">−5</text>
<line x1="62.1" y1="298.8" x2="64.6" y2="298.8" class="tick"/>
<text x="60.3" y="301.3" class="tl" text-anchor="end">−10</text>
<line x1="62.1" y1="318.4" x2="64.6" y2="318.4" class="tick"/>
<text x="60.3" y="320.9" class="tl" text-anchor="end">−15</text>
<path class="pr" d="M417.9 91.2h0M409.4 89.6h0M427.2 88.9h0M415.5 79.9h0M415.5 86.9h0M406.6 87.5h0M432.0 92.2h0M422.6 86.0h0M421.9 86.5h0M425.1 86.5h0M423.8 90.5h0M422.5 86.8h0M426.2 82.1h0M419.3 94.2h0M399.2 101.7h0M428.1 85.7h0M425.4 86.2h0M421.9 91.2h0M435.6 91.9h0M409.5 76.4h0M396.5 93.1h0M434.7 95.9h0M425.3 92.4h0M407.4 87.9h0M418.1 93.3h0M427.1 91.9h0M411.1 88.8h0M426.5 92.1h0M440.2 88.9h0M433.8 89.9h0M421.4 95.5h0M424.5 89.6h0M413.4 96.2h0M422.9 85.3h0M418.8 94.9h0M413.0 91.5h0M410.0 99.7h0M438.5 91.8h0M422.5 96.4h0M412.8 82.7h0M418.0 90.8h0M434.7 87.0h0M435.8 98.6h0M416.3 96.5h0M423.4 90.9h0M429.5 96.7h0M418.7 84.4h0M411.5 92.4h0M413.2 89.6h0M421.8 88.5h0M415.0 91.0h0M410.4 86.5h0M419.6 93.6h0M429.8 88.0h0M427.6 83.8h0M419.7 89.1h0M438.3 89.0h0M414.8 92.0h0M421.0 89.8h0M409.8 87.0h0M428.5 91.1h0M420.6 98.6h0M407.0 89.7h0M414.5 91.1h0M437.3 87.3h0M428.0 89.7h0M422.6 82.1h0M429.2 96.0h0M407.7 95.4h0M414.5 87.0h0M410.1 95.6h0M414.4 88.7h0M418.3 90.3h0M426.3 99.9h0M430.4 86.5h0M430.2 82.9h0M445.1 88.4h0M417.3 97.3h0M421.5 86.1h0M426.1 95.2h0M414.4 90.9h0M419.1 88.1h0M425.2 93.9h0M413.9 98.9h0M425.7 90.7h0M432.3 90.0h0M411.9 94.7h0M401.7 94.6h0M422.3 86.4h0M412.5 90.8h0M423.1 92.4h0M417.7 93.2h0M424.2 89.2h0M431.5 89.4h0M428.7 90.8h0M418.5 97.2h0M411.4 92.3h0M399.9 93.9h0M402.6 90.4h0M414.6 84.6h0M422.4 85.4h0M415.6 87.1h0M416.3 89.7h0M407.5 92.2h0M407.1 88.9h0M406.4 93.0h0M426.8 91.7h0M404.1 94.9h0M427.2 90.3h0M413.4 90.8h0M426.0 80.8h0M423.3 87.3h0M427.8 91.9h0M431.6 86.0h0M414.3 92.7h0M412.7 85.4h0M417.3 86.4h0M414.3 75.9h0M426.8 95.4h0M420.0 90.6h0M421.0 90.7h0M424.6 88.6h0M416.8 86.7h0M430.5 94.7h0M404.9 94.3h0M423.0 88.6h0M425.3 85.2h0M414.2 95.9h0M414.8 98.1h0M428.8 84.3h0M418.1 86.1h0M404.1 85.3h0M409.1 95.3h0M429.6 90.9h0M413.1 89.3h0M432.3 87.7h0M432.8 90.4h0M419.1 90.5h0M425.6 85.0h0M413.6 92.5h0M417.3 93.0h0M414.7 92.5h0M425.9 92.6h0M409.6 89.9h0M419.6 91.2h0M421.2 92.3h0M425.3 83.0h0M402.2 89.2h0M405.1 92.3h0M413.1 84.2h0M408.8 98.3h0M412.2 96.0h0M411.7 93.0h0M408.7 100.2h0M409.9 93.6h0M412.8 94.1h0M403.3 99.9h0M409.8 94.6h0M413.8 98.5h0M414.0 96.1h0M414.1 97.0h0M426.8 93.9h0M416.4 99.5h0M411.4 94.7h0M411.5 103.2h0M412.2 97.5h0M414.9 97.7h0M410.4 91.4h0M421.6 93.5h0M405.4 98.5h0M416.1 98.7h0M415.4 95.8h0M405.2 99.0h0M416.1 88.7h0M415.7 104.7h0M408.3 96.4h0M426.5 102.5h0M416.6 92.5h0M410.2 99.0h0M409.3 91.4h0M407.6 98.5h0M413.8 92.6h0M412.6 95.5h0M403.5 93.4h0M405.8 96.8h0M407.8 106.2h0M409.7 98.8h0M410.0 101.4h0M408.1 93.7h0M416.2 94.1h0M418.1 95.6h0M412.7 94.7h0M398.7 97.0h0M411.3 98.2h0M415.7 89.6h0M411.7 95.5h0M413.9 96.7h0M412.9 100.8h0M403.0 99.2h0M396.7 97.8h0M416.0 96.4h0M409.0 98.1h0M414.8 96.1h0M410.3 100.0h0M411.2 96.3h0M420.6 100.3h0M404.9 99.7h0M412.2 98.6h0M405.5 94.2h0M412.7 94.6h0M415.1 95.7h0M416.2 99.5h0M413.1 97.4h0M403.7 94.6h0M413.7 92.1h0M417.7 100.3h0M418.3 97.0h0M425.4 94.5h0M415.7 94.8h0M406.0 96.9h0M396.3 105.5h0M382.4 110.4h0M402.1 105.8h0M384.3 110.6h0M392.3 107.3h0M395.3 107.1h0M399.6 107.5h0M397.9 108.1h0M397.6 106.1h0M400.3 102.6h0M390.9 109.7h0M396.9 105.0h0M402.1 102.6h0M386.9 112.8h0M382.7 113.5h0M385.3 109.6h0M401.2 104.2h0M400.1 105.2h0M389.6 110.0h0M393.5 107.6h0M395.1 108.8h0M398.9 103.0h0M379.5 115.5h0M388.3 113.0h0M390.2 109.6h0M394.1 106.3h0M392.5 109.6h0M389.9 110.0h0M393.9 109.8h0M375.0 115.7h0M412.3 102.7h0M397.4 108.4h0M397.8 108.9h0M387.6 111.5h0M394.7 105.4h0M405.6 103.9h0M404.0 104.2h0M392.5 105.8h0M383.8 113.1h0M393.1 110.0h0M390.0 109.1h0M397.6 108.6h0M383.5 111.9h0M390.8 108.0h0M393.8 109.9h0M388.9 111.0h0M399.0 104.0h0M384.5 113.4h0M383.8 113.2h0M389.7 109.6h0M397.5 107.4h0M390.0 111.0h0M388.1 108.4h0M397.3 107.8h0M393.5 108.0h0M388.5 111.0h0M392.8 109.1h0M390.4 111.6h0M396.0 106.2h0M393.0 109.3h0M386.7 109.3h0M388.8 111.9h0M389.3 110.8h0M394.5 107.5h0M394.5 108.0h0M386.5 112.1h0M390.7 109.7h0M394.1 110.1h0M399.3 106.2h0M393.7 112.1h0M405.0 103.8h0M392.2 107.1h0M396.9 106.0h0M389.8 108.7h0M385.4 112.2h0M392.7 108.1h0M395.2 108.4h0M394.2 108.4h0M393.0 108.8h0M389.8 114.6h0M386.6 109.9h0M390.0 109.2h0M395.1 106.7h0M398.3 108.0h0M370.2 116.5h0M396.0 106.8h0M399.2 109.4h0M400.4 108.3h0M394.5 108.0h0M396.4 108.3h0M389.0 110.2h0M391.4 110.2h0M395.5 105.6h0M384.7 114.5h0M386.7 113.0h0M393.3 109.9h0M383.1 114.4h0M392.3 109.7h0M382.1 112.9h0M393.3 110.4h0M392.2 108.5h0M388.3 108.7h0M385.7 110.0h0M388.6 107.6h0M377.1 113.2h0M389.4 110.1h0M392.8 106.3h0M400.0 105.0h0M388.6 107.8h0M390.8 109.8h0M369.5 115.0h0M379.5 118.2h0M393.9 114.5h0M397.8 119.6h0M389.8 122.9h0M402.7 110.2h0M379.7 108.6h0M384.5 117.0h0M402.6 118.5h0M392.6 113.8h0M393.0 122.1h0M407.1 118.4h0M403.7 122.9h0M383.5 116.7h0M394.2 117.1h0M373.8 120.2h0M391.9 120.5h0M396.2 123.5h0M373.5 121.8h0M408.7 113.1h0M413.4 118.7h0M397.4 113.3h0M401.9 120.9h0M408.1 117.9h0M390.2 119.9h0M403.2 118.7h0M396.2 115.2h0M375.8 126.1h0M382.5 115.7h0M386.1 115.8h0M402.9 69.5h0M381.6 82.0h0M385.4 83.2h0M386.6 87.0h0M394.2 83.2h0M396.8 85.7h0M401.6 80.7h0M387.9 97.0h0M400.4 94.4h0M395.4 92.0h0M402.9 89.5h0M380.1 82.8h0M391.2 90.0h0M398.6 98.4h0M355.2 109.5h0M366.5 116.9h0M445.6 93.2h0M441.8 100.7h0M444.3 100.7h0M415.4 121.9h0M411.7 114.4h0M406.6 121.9h0"/>
<line x1="387.5" y1="48.2" x2="387.5" y2="162.2" class="dash"/>
<line x1="406.0" y1="48.2" x2="406.0" y2="162.2" class="dash"/>
<line x1="304.3" y1="109.0" x2="489.2" y2="109.0" class="dash"/>
<line x1="304.3" y1="101.4" x2="489.2" y2="101.4" class="dash"/>
<rect x="304.3" y="48.2" width="184.9" height="114.0" class="frame"/>
<line x1="304.3" y1="162.2" x2="304.3" y2="164.7" class="tick"/>
<text x="304.3" y="170.5" class="tl" text-anchor="middle">−10.0</text>
<line x1="327.4" y1="162.2" x2="327.4" y2="164.7" class="tick"/>
<text x="327.4" y="170.5" class="tl" text-anchor="middle">−7.5</text>
<line x1="350.5" y1="162.2" x2="350.5" y2="164.7" class="tick"/>
<text x="350.5" y="170.5" class="tl" text-anchor="middle">−5.0</text>
<line x1="373.6" y1="162.2" x2="373.6" y2="164.7" class="tick"/>
<text x="373.6" y="170.5" class="tl" text-anchor="middle">−2.5</text>
<line x1="396.8" y1="162.2" x2="396.8" y2="164.7" class="tick"/>
<text x="396.8" y="170.5" class="tl" text-anchor="middle">0.0</text>
<line x1="419.9" y1="162.2" x2="419.9" y2="164.7" class="tick"/>
<text x="419.9" y="170.5" class="tl" text-anchor="middle">2.5</text>
<line x1="443.0" y1="162.2" x2="443.0" y2="164.7" class="tick"/>
<text x="443.0" y="170.5" class="tl" text-anchor="middle">5.0</text>
<line x1="466.1" y1="162.2" x2="466.1" y2="164.7" class="tick"/>
<text x="466.1" y="170.5" class="tl" text-anchor="middle">7.5</text>
<line x1="489.2" y1="162.2" x2="489.2" y2="164.7" class="tick"/>
<text x="489.2" y="170.5" class="tl" text-anchor="middle">10.0</text>
<line x1="301.8" y1="48.2" x2="304.3" y2="48.2" class="tick"/>
<text x="300.0" y="50.7" class="tl" text-anchor="end">15</text>
<line x1="301.8" y1="67.2" x2="304.3" y2="67.2" class="tick"/>
<text x="300.0" y="69.7" class="tl" text-anchor="end">10</text>
<line x1="301.8" y1="86.2" x2="304.3" y2="86.2" class="tick"/>
<text x="300.0" y="88.7" class="tl" text-anchor="end">5</text>
<line x1="301.8" y1="105.2" x2="304.3" y2="105.2" class="tick"/>
<text x="300.0" y="107.7" class="tl" text-anchor="end">0</text>
<line x1="301.8" y1="124.2" x2="304.3" y2="124.2" class="tick"/>
<text x="300.0" y="126.7" class="tl" text-anchor="end">−5</text>
<line x1="301.8" y1="143.2" x2="304.3" y2="143.2" class="tick"/>
<text x="300.0" y="145.7" class="tl" text-anchor="end">−10</text>
<line x1="301.8" y1="162.2" x2="304.3" y2="162.2" class="tick"/>
<text x="300.0" y="164.7" class="tl" text-anchor="end">−15</text>
<rect x="306.8" y="50.0" width="46" height="11.5" rx="1.5" class="leg"/>
<circle cx="314.9" cy="56.0" r="1.6" fill="#d24a5c"/>
<text x="325.3" y="57.8" class="legt">Selinexor</text>
<text x="486.9" y="57.2" class="genes" text-anchor="end" textLength="47.2" lengthAdjust="spacingAndGlyphs">107 genes</text>
<path class="pr" d="M420.9 249.3h0M421.6 242.8h0M418.8 242.1h0M427.4 248.9h0M421.4 255.4h0M412.9 244.1h0M422.3 249.2h0M429.8 253.6h0M424.3 247.4h0M421.1 257.4h0M422.8 247.2h0M416.2 238.5h0M416.6 259.9h0M403.3 244.3h0M419.2 250.3h0M430.1 247.2h0M417.2 250.3h0M412.4 243.0h0M429.3 245.3h0M422.4 249.4h0M422.2 252.0h0M425.3 247.5h0M427.4 239.7h0M420.5 251.7h0M413.1 244.0h0M437.1 243.1h0M421.4 255.5h0M413.7 240.6h0M422.6 245.8h0M432.0 234.1h0M407.7 237.8h0M433.1 246.3h0M419.6 246.5h0M439.5 249.6h0M427.1 252.1h0M419.9 241.8h0M432.6 246.3h0M432.7 247.0h0M417.6 246.7h0M423.1 242.2h0M416.1 241.3h0M429.4 245.2h0M407.8 247.3h0M419.2 245.2h0M401.1 236.5h0M426.4 255.6h0M400.2 252.5h0M411.1 243.8h0M423.3 244.8h0M417.6 239.7h0M416.8 239.4h0M411.9 236.3h0M416.5 249.8h0M404.6 243.5h0M423.9 246.7h0M428.4 240.4h0M428.0 244.4h0M420.5 241.3h0M432.2 248.7h0M425.2 244.6h0M429.8 247.7h0M424.5 246.7h0M421.2 247.9h0M413.8 251.1h0M396.5 241.4h0M426.9 243.9h0M419.8 240.3h0M439.3 249.6h0M402.5 256.3h0M428.7 248.4h0M412.1 246.8h0M420.9 241.7h0M412.7 240.8h0M424.1 239.4h0M420.6 238.0h0M429.0 241.6h0M422.3 245.0h0M425.3 249.2h0M432.7 241.6h0M425.7 247.9h0M419.7 249.7h0M432.4 242.1h0M419.9 244.6h0M424.7 241.2h0M417.9 249.3h0M414.8 240.1h0M393.1 245.3h0M427.3 246.1h0M410.2 249.9h0M427.7 250.6h0M437.6 251.5h0M408.7 239.3h0M429.0 252.2h0M420.0 242.5h0M425.1 246.6h0M409.9 249.1h0M421.2 248.0h0M422.4 246.0h0M434.2 240.4h0M440.8 241.8h0M423.8 245.5h0M417.6 252.6h0M441.5 253.4h0M420.0 236.4h0M420.4 250.7h0M421.9 253.4h0M425.2 239.8h0M427.5 252.7h0M415.6 242.2h0M419.9 241.0h0M438.3 243.5h0M435.8 240.0h0M425.1 252.3h0M423.5 251.6h0M418.8 246.7h0M430.5 245.1h0M416.2 246.3h0M422.1 243.2h0M416.8 249.5h0M415.2 256.5h0M421.3 243.6h0M421.0 246.8h0M415.6 241.9h0M420.4 235.3h0M421.6 245.2h0M416.7 243.0h0M414.9 250.4h0M419.7 241.2h0M427.5 243.6h0M431.2 243.9h0M422.7 241.0h0M418.5 251.4h0M420.7 242.8h0M438.7 242.4h0M429.5 237.3h0M412.2 255.1h0M420.5 246.1h0M416.1 235.0h0M417.6 247.8h0M405.4 248.6h0M421.3 236.7h0M408.5 233.8h0M415.6 245.3h0M435.0 248.5h0M430.2 248.1h0M413.0 248.0h0M411.5 250.3h0M412.6 250.1h0M403.6 245.7h0M411.9 245.9h0M418.5 243.4h0M411.3 246.0h0M428.0 251.3h0M420.5 242.0h0M416.1 244.7h0M437.2 247.7h0M427.6 246.6h0M421.7 244.0h0M438.1 244.4h0M433.2 245.6h0M414.5 242.2h0M424.0 240.2h0M417.0 247.4h0M407.7 246.4h0M438.6 250.2h0M434.9 245.8h0M409.3 243.9h0M425.6 241.1h0M405.8 245.6h0M431.0 245.6h0M420.5 249.2h0M418.3 244.7h0M432.7 250.5h0M421.1 245.0h0M418.6 245.7h0M429.5 249.7h0M418.2 244.2h0M429.1 246.3h0M421.1 242.7h0M428.7 247.7h0M426.9 242.9h0M428.4 237.5h0M411.7 245.2h0M438.5 240.8h0M419.5 248.9h0M437.4 246.5h0M415.5 255.3h0M418.5 246.5h0M418.6 251.4h0M431.8 244.5h0M417.1 256.1h0M424.9 249.7h0M406.4 246.0h0M416.6 243.9h0M423.1 253.8h0M420.0 247.8h0M403.6 233.8h0M425.7 241.5h0M412.0 245.3h0M439.1 258.4h0M419.3 250.3h0M442.1 242.0h0M427.2 244.2h0M425.3 243.2h0M416.6 241.1h0M419.9 245.2h0M425.3 241.2h0M402.8 255.5h0M430.3 232.8h0M410.1 247.7h0M418.6 249.0h0M395.5 239.6h0M425.3 242.4h0M428.0 240.5h0M423.7 248.6h0M424.1 244.1h0M417.6 242.3h0M422.5 251.2h0M432.4 246.2h0M417.0 247.1h0M425.7 246.9h0M427.9 248.8h0M418.8 252.0h0M423.3 243.4h0M423.1 244.4h0M416.4 240.2h0M443.9 244.8h0M417.0 249.2h0M437.1 252.0h0M431.1 244.7h0M401.9 248.2h0M423.4 235.6h0M430.7 233.8h0M428.7 237.5h0M412.5 250.6h0M423.5 252.5h0M409.8 247.4h0M411.3 250.6h0M418.8 238.8h0M422.8 245.0h0M436.1 246.9h0M424.4 245.6h0M431.0 238.9h0M409.7 251.0h0M410.1 243.8h0M416.4 252.5h0M437.5 245.9h0M408.4 249.6h0M406.1 244.9h0M420.3 245.0h0M432.2 239.2h0M405.6 243.1h0M418.6 248.8h0M408.2 252.9h0M434.7 249.0h0M427.5 247.5h0M423.6 246.7h0M420.6 249.5h0M418.8 240.5h0M422.3 241.0h0M414.9 247.4h0M412.7 248.6h0M410.5 247.4h0M421.1 245.9h0M413.5 246.2h0M429.2 253.3h0M401.1 248.9h0M426.3 254.7h0M426.0 245.3h0M432.5 241.8h0M418.6 251.1h0M406.8 245.6h0M412.2 249.2h0M431.7 248.6h0M418.1 236.1h0M417.1 241.5h0M415.4 243.6h0M420.4 247.9h0M418.8 243.8h0M406.2 247.4h0M415.3 243.8h0M430.5 249.7h0M434.7 245.4h0M419.8 247.7h0M416.1 253.0h0M433.8 236.7h0M419.3 241.8h0M409.8 250.2h0M419.8 253.1h0M427.5 249.0h0M435.7 249.1h0M416.3 249.0h0M426.1 253.0h0M417.8 250.0h0M431.7 244.8h0M423.4 243.5h0M423.4 255.4h0M411.6 246.2h0M417.9 250.8h0M417.9 251.1h0M386.9 249.1h0M429.0 248.7h0M420.8 242.3h0M419.0 242.3h0M417.5 247.4h0M421.2 248.9h0M423.2 236.7h0M408.6 237.1h0M422.1 243.7h0M422.0 246.4h0M421.2 240.7h0M406.9 239.3h0M419.6 248.4h0M408.8 237.4h0M424.2 246.3h0M433.4 239.6h0M429.2 247.9h0M417.7 245.6h0M415.8 248.3h0M415.6 245.9h0M424.2 240.5h0M414.6 250.5h0M415.9 247.5h0M397.2 244.3h0M412.9 248.5h0M413.5 236.0h0M415.8 253.3h0M432.4 232.5h0M408.1 249.7h0M408.3 241.5h0M426.6 237.4h0M411.6 243.6h0M419.4 252.9h0M422.6 247.3h0M421.1 245.4h0M413.6 243.3h0M429.6 240.4h0M435.1 239.4h0M411.4 238.9h0M418.3 250.6h0M429.8 240.3h0M418.9 254.6h0M411.4 245.5h0M416.8 251.3h0M428.8 254.2h0M411.5 241.6h0M423.3 245.8h0M424.5 240.6h0M414.7 254.0h0M426.2 251.6h0M427.2 245.9h0M430.3 248.6h0M429.7 244.9h0M406.8 249.6h0M429.4 247.0h0M426.4 251.2h0M430.1 238.8h0M412.9 247.8h0M429.4 251.2h0M424.4 242.1h0M410.0 243.9h0M432.9 244.0h0M413.5 245.0h0M411.3 248.2h0M424.7 246.2h0M415.2 257.2h0M424.3 253.4h0M418.6 252.0h0M423.6 244.2h0M428.6 239.2h0M420.6 246.6h0M429.1 246.7h0M428.9 239.7h0M413.0 248.0h0M429.0 242.0h0M426.8 243.3h0M422.2 252.3h0M431.5 243.6h0M436.6 243.9h0M428.1 251.1h0M407.1 251.7h0M425.1 251.9h0M419.7 238.9h0M418.4 235.2h0M424.2 242.0h0M417.9 238.0h0M436.3 251.7h0M423.6 238.5h0M421.1 235.8h0M428.4 237.2h0M428.5 250.1h0M432.1 239.7h0M427.0 246.0h0M420.6 240.3h0M422.3 248.9h0M400.6 246.7h0M407.2 249.3h0M430.8 242.8h0M417.9 246.4h0M438.1 239.2h0M438.0 240.7h0M409.2 244.3h0M423.9 245.8h0M448.2 245.8h0M413.6 246.1h0M424.7 241.7h0M418.8 245.2h0M418.7 244.4h0M418.4 246.1h0M420.8 246.1h0M428.2 248.7h0M413.4 255.6h0M425.8 242.6h0M414.4 243.2h0M425.9 250.4h0M424.0 235.9h0M413.7 252.0h0M422.3 240.6h0M414.1 244.8h0M413.0 244.6h0M432.0 239.4h0M403.8 242.0h0M426.3 245.3h0M427.7 250.7h0M415.4 252.2h0M431.3 244.2h0M429.6 237.3h0M408.8 241.9h0M426.0 245.6h0M425.4 243.8h0M417.0 254.3h0M423.7 245.6h0M407.6 248.8h0M417.2 254.0h0M414.3 254.6h0M407.6 249.2h0M406.0 254.1h0M420.7 251.2h0M414.7 257.3h0M411.2 251.9h0M413.2 247.5h0M418.9 251.9h0M413.2 251.6h0M422.9 244.3h0M410.9 248.6h0M407.5 247.3h0M411.8 249.3h0M406.5 248.2h0M410.3 256.9h0M420.5 252.9h0M423.6 255.2h0M416.6 243.6h0M413.8 250.5h0M406.7 252.4h0M406.1 254.5h0M414.9 254.2h0M413.6 260.2h0M408.8 244.5h0M409.7 251.9h0M422.6 249.8h0M419.0 255.0h0M412.9 251.4h0M414.0 249.8h0M420.8 250.5h0M414.9 249.0h0M414.1 253.8h0M402.4 251.5h0M401.6 249.8h0M400.2 251.0h0M398.0 251.9h0M412.5 251.6h0M414.7 254.2h0M406.9 250.2h0M415.4 252.2h0M415.4 253.9h0M412.0 248.9h0M403.0 257.7h0M421.9 251.9h0M421.5 247.6h0M408.8 248.7h0M425.1 250.8h0M412.8 251.0h0M407.5 250.2h0M409.9 251.8h0M400.5 255.3h0M410.3 250.1h0M402.2 252.1h0M419.9 250.0h0M414.6 247.4h0M403.6 251.4h0M416.3 252.3h0M401.4 252.2h0M413.6 244.9h0M415.6 253.2h0M413.0 252.0h0M405.3 254.8h0M411.8 250.2h0M411.4 255.5h0M412.9 249.8h0M422.2 247.6h0M423.5 252.3h0M422.8 252.7h0M408.4 256.6h0M407.7 251.7h0M412.7 254.8h0M415.4 252.9h0M399.2 254.3h0M408.6 254.0h0M424.1 247.1h0M404.5 247.1h0M407.8 258.7h0M408.0 254.5h0M415.7 250.0h0M412.1 254.7h0M410.4 253.3h0M402.7 251.8h0M416.5 246.3h0M412.5 247.5h0M408.2 252.8h0M412.7 250.8h0M417.6 251.8h0M403.0 253.0h0M402.5 256.3h0M405.9 257.8h0M406.9 253.2h0M392.8 250.6h0M408.6 249.3h0M419.7 256.3h0M410.4 252.1h0M419.1 252.4h0M393.9 252.7h0M411.8 254.9h0M421.5 247.2h0M422.7 250.6h0M409.3 249.8h0M407.2 249.1h0M415.0 257.2h0M404.6 253.0h0M410.2 246.7h0M401.7 252.6h0M413.1 247.8h0M412.6 249.9h0M423.1 251.5h0M414.8 250.0h0M408.2 248.4h0M411.9 247.2h0M404.2 247.7h0M412.7 254.8h0M411.1 248.8h0M415.3 255.3h0M418.6 250.9h0M399.5 253.6h0M414.6 249.0h0M417.3 249.6h0M404.7 248.2h0M424.9 251.6h0M407.8 249.1h0M428.5 247.9h0M417.6 250.6h0M418.8 254.3h0M414.3 249.2h0M419.1 249.4h0M405.8 249.6h0M407.3 252.0h0M399.8 253.7h0M416.0 249.5h0M407.9 250.3h0M417.4 248.4h0M416.4 244.7h0M403.8 254.4h0M417.1 244.2h0M414.2 260.6h0M413.8 248.0h0M415.5 253.5h0M412.3 244.8h0M412.6 254.1h0M419.4 246.9h0M406.1 255.3h0M404.7 255.9h0M407.6 249.3h0M419.2 247.6h0M410.4 253.8h0M425.0 241.9h0M392.5 254.8h0M407.9 246.8h0M409.6 254.9h0M414.3 254.1h0M421.2 249.8h0M411.3 254.7h0M405.9 250.6h0M418.0 257.5h0M422.6 249.4h0M395.9 255.2h0M416.3 253.8h0M414.4 250.3h0M407.1 252.7h0M409.4 253.1h0M414.4 248.4h0M412.7 250.3h0M410.9 250.2h0M404.9 247.9h0M414.4 251.2h0M408.2 249.1h0M413.1 252.5h0M408.7 249.8h0M413.8 249.4h0M417.4 252.4h0M414.0 255.9h0M416.8 254.8h0M403.5 255.4h0M415.5 249.1h0M414.4 251.4h0M408.4 252.7h0M411.4 249.8h0M394.3 251.2h0M413.0 246.7h0M409.8 253.5h0M397.8 251.4h0M415.8 248.6h0M408.4 254.8h0M414.3 250.6h0M410.9 254.4h0M415.6 251.6h0M413.1 249.8h0M410.6 256.9h0M415.7 253.6h0M417.9 253.1h0M397.8 252.8h0M412.7 253.6h0M408.6 250.5h0M387.8 267.4h0M390.1 267.0h0M397.5 264.4h0M395.6 262.0h0M394.5 260.2h0M393.3 262.3h0M400.2 261.1h0M402.6 259.7h0M391.1 266.1h0M388.7 267.3h0M386.6 269.3h0M405.0 257.6h0M387.6 267.4h0M384.7 269.2h0M395.3 265.0h0M400.5 261.5h0M385.3 268.7h0M392.7 264.8h0M384.0 267.9h0M388.9 264.0h0M404.3 262.6h0M394.6 263.6h0M391.8 266.4h0M394.0 265.1h0M395.4 261.0h0M392.8 263.7h0M385.6 268.3h0M385.7 266.7h0M406.8 259.4h0M388.5 264.5h0M401.5 262.3h0M388.8 265.5h0M402.1 261.6h0M398.1 262.7h0M392.1 265.3h0M406.8 260.5h0M387.3 266.7h0M392.0 263.4h0M387.8 267.8h0M388.4 267.2h0M391.1 264.8h0M387.2 268.3h0M391.4 263.8h0M404.0 259.3h0M382.0 273.0h0M385.2 268.9h0M387.2 268.9h0M390.4 264.3h0M400.2 260.3h0M398.3 264.8h0M396.7 264.5h0M394.9 264.2h0M409.4 259.1h0M386.1 266.1h0M385.9 265.7h0M393.4 263.6h0M394.9 262.1h0M392.0 263.5h0M388.0 266.8h0M384.9 268.6h0M391.7 266.5h0M388.8 264.9h0M390.3 264.2h0M386.4 265.5h0M402.4 261.7h0M396.5 264.1h0M405.8 259.3h0M390.1 263.6h0M393.9 263.8h0M391.9 264.8h0M393.7 265.9h0M391.8 264.4h0M392.4 264.0h0M380.5 271.2h0M391.7 262.1h0M398.1 264.4h0M380.6 267.9h0M391.2 265.8h0M397.3 262.8h0M401.9 262.7h0M393.0 265.7h0M396.5 262.1h0M405.1 260.4h0M402.1 261.8h0M390.5 264.1h0M389.5 264.8h0M400.3 261.6h0M395.0 263.6h0M389.9 262.9h0M392.0 265.4h0M395.6 263.0h0M392.2 264.3h0M391.8 267.6h0M392.0 268.5h0M383.7 268.1h0M405.0 258.6h0M401.6 261.1h0M403.6 261.6h0M392.6 266.0h0M394.4 262.8h0M397.3 263.6h0M399.0 265.3h0M381.4 268.0h0M395.9 263.2h0M386.9 266.4h0M393.1 262.9h0M389.1 263.9h0M404.8 259.2h0M397.1 263.5h0M393.3 268.3h0M402.8 260.4h0M393.1 265.0h0M388.7 264.0h0M392.3 262.7h0M391.1 264.6h0M393.8 262.0h0M399.1 262.5h0M392.7 264.9h0M393.1 266.2h0M400.2 262.5h0M395.4 263.4h0M399.8 260.2h0M394.4 265.5h0M384.9 266.4h0M386.1 263.3h0M382.6 271.1h0M401.1 262.1h0M396.3 263.4h0M390.4 264.0h0M387.0 263.5h0M395.9 261.4h0M392.7 264.9h0M395.6 265.2h0M388.0 266.8h0M386.2 267.4h0M403.9 260.1h0M387.2 268.5h0M393.4 261.9h0M402.4 262.4h0M381.4 268.0h0M398.2 262.4h0M394.0 266.3h0M392.6 264.8h0M395.3 263.8h0M385.7 267.9h0M378.8 268.8h0M406.0 260.6h0M391.6 260.8h0M399.4 260.3h0M400.8 263.3h0M395.4 268.2h0M396.5 261.1h0M398.2 262.3h0M403.9 260.4h0M396.8 265.0h0M401.9 263.9h0M391.6 268.6h0M390.7 261.1h0M394.1 261.5h0M396.2 264.5h0M397.1 259.8h0M406.4 262.9h0M399.1 261.2h0M394.0 263.1h0M406.7 261.0h0M395.7 264.5h0M395.9 265.5h0M396.8 263.2h0M391.4 263.0h0M386.3 265.5h0M394.4 263.5h0M391.5 263.3h0M387.8 269.9h0M394.3 260.6h0M392.2 265.1h0M389.6 268.4h0M381.8 269.7h0M392.4 266.1h0M405.1 259.9h0M399.4 261.7h0M400.7 265.9h0M393.4 262.3h0M400.5 258.8h0M389.1 268.1h0M390.5 263.1h0M397.0 261.0h0M384.1 266.4h0M393.9 261.5h0M395.5 266.2h0M404.7 259.0h0M388.9 268.1h0M396.3 259.2h0M389.3 267.9h0M390.0 268.1h0M375.8 269.4h0M387.4 265.8h0M401.1 261.6h0M397.0 263.0h0M394.6 263.0h0M409.8 255.2h0M397.1 264.4h0M385.4 268.7h0M392.2 266.1h0M393.2 264.8h0M404.1 260.4h0M387.6 269.1h0M396.3 262.9h0M400.0 264.3h0M388.2 267.1h0M394.1 264.8h0M380.3 270.1h0M394.2 261.6h0M379.0 267.2h0M391.0 263.6h0M404.9 257.3h0M396.3 264.0h0M393.9 261.9h0M394.6 264.2h0M407.8 258.6h0M397.2 262.6h0M400.4 264.3h0M390.7 266.7h0M390.7 265.9h0M386.7 266.5h0M392.4 265.2h0M389.0 267.8h0M400.1 264.1h0M397.8 262.9h0M392.8 267.0h0M390.0 268.0h0M374.5 272.1h0M389.7 265.7h0M395.6 265.2h0M397.9 266.0h0M373.2 271.9h0M377.7 269.2h0M394.6 264.9h0M386.8 267.8h0M392.1 269.3h0M390.4 264.1h0M397.4 265.0h0M381.3 268.0h0M389.8 267.0h0M399.8 262.4h0M394.9 264.3h0M388.1 269.9h0M396.6 258.5h0M395.4 266.6h0M387.7 266.6h0M398.1 264.2h0M398.0 263.2h0M392.7 262.4h0M399.8 265.5h0M385.8 267.8h0M398.6 261.7h0M392.3 264.8h0M387.4 266.2h0M389.6 267.4h0M401.3 264.5h0M389.9 268.3h0M388.9 280.3h0M400.6 270.7h0M393.9 276.2h0M409.4 271.4h0M394.1 276.7h0M395.0 268.7h0M395.1 275.6h0M375.4 277.0h0M398.9 281.6h0M381.8 279.8h0M389.2 276.0h0M416.9 278.6h0M380.5 267.3h0M394.3 277.5h0M396.0 280.6h0M394.4 273.2h0M393.1 279.7h0M387.4 276.0h0M413.4 277.0h0M372.6 281.4h0M382.6 272.0h0M408.2 276.4h0M398.7 272.6h0M385.3 279.3h0M383.9 284.0h0M390.5 282.9h0M420.0 278.6h0M398.1 278.0h0M382.6 277.7h0M395.5 275.2h0M380.4 223.9h0M381.7 226.4h0M387.9 235.1h0M381.7 238.9h0M365.3 245.1h0M377.9 247.1h0M395.5 239.6h0M400.5 235.1h0M388.4 246.1h0M392.1 244.6h0M394.9 247.7h0M399.6 245.8h0M385.7 250.4h0M354.0 274.6h0M365.3 266.4h0M460.7 245.1h0M463.2 247.1h0M480.8 236.6h0M411.8 285.1h0M423.1 226.4h0M433.1 230.1h0"/>
<line x1="388.4" y1="201.1" x2="388.4" y2="318.6" class="dash"/>
<line x1="407.0" y1="201.1" x2="407.0" y2="318.6" class="dash"/>
<line x1="305.1" y1="263.8" x2="490.3" y2="263.8" class="dash"/>
<line x1="305.1" y1="255.9" x2="490.3" y2="255.9" class="dash"/>
<rect x="305.1" y="201.1" width="185.2" height="117.5" class="frame"/>
<line x1="305.1" y1="318.6" x2="305.1" y2="321.1" class="tick"/>
<text x="305.1" y="326.9" class="tl" text-anchor="middle">−10.0</text>
<line x1="328.2" y1="318.6" x2="328.2" y2="321.1" class="tick"/>
<text x="328.2" y="326.9" class="tl" text-anchor="middle">−7.5</text>
<line x1="351.4" y1="318.6" x2="351.4" y2="321.1" class="tick"/>
<text x="351.4" y="326.9" class="tl" text-anchor="middle">−5.0</text>
<line x1="374.6" y1="318.6" x2="374.6" y2="321.1" class="tick"/>
<text x="374.6" y="326.9" class="tl" text-anchor="middle">−2.5</text>
<line x1="397.7" y1="318.6" x2="397.7" y2="321.1" class="tick"/>
<text x="397.7" y="326.9" class="tl" text-anchor="middle">0.0</text>
<line x1="420.9" y1="318.6" x2="420.9" y2="321.1" class="tick"/>
<text x="420.9" y="326.9" class="tl" text-anchor="middle">2.5</text>
<line x1="444.0" y1="318.6" x2="444.0" y2="321.1" class="tick"/>
<text x="444.0" y="326.9" class="tl" text-anchor="middle">5.0</text>
<line x1="467.1" y1="318.6" x2="467.1" y2="321.1" class="tick"/>
<text x="467.1" y="326.9" class="tl" text-anchor="middle">7.5</text>
<line x1="490.3" y1="318.6" x2="490.3" y2="321.1" class="tick"/>
<text x="490.3" y="326.9" class="tl" text-anchor="middle">10.0</text>
<line x1="302.6" y1="201.1" x2="305.1" y2="201.1" class="tick"/>
<text x="300.8" y="203.6" class="tl" text-anchor="end">15</text>
<line x1="302.6" y1="220.7" x2="305.1" y2="220.7" class="tick"/>
<text x="300.8" y="223.2" class="tl" text-anchor="end">10</text>
<line x1="302.6" y1="240.3" x2="305.1" y2="240.3" class="tick"/>
<text x="300.8" y="242.8" class="tl" text-anchor="end">5</text>
<line x1="302.6" y1="259.9" x2="305.1" y2="259.9" class="tick"/>
<text x="300.8" y="262.4" class="tl" text-anchor="end">0</text>
<line x1="302.6" y1="279.4" x2="305.1" y2="279.4" class="tick"/>
<text x="300.8" y="281.9" class="tl" text-anchor="end">−5</text>
<line x1="302.6" y1="299.0" x2="305.1" y2="299.0" class="tick"/>
<text x="300.8" y="301.5" class="tl" text-anchor="end">−10</text>
<line x1="302.6" y1="318.6" x2="305.1" y2="318.6" class="tick"/>
<text x="300.8" y="321.1" class="tl" text-anchor="end">−15</text>
<rect x="307.6" y="202.9" width="46" height="11.5" rx="1.5" class="leg"/>
<circle cx="315.7" cy="208.9" r="1.6" fill="#d24a5c"/>
<text x="326.1" y="210.7" class="legt">Selinexor</text>
<text x="488.5" y="210.1" class="genes" text-anchor="end" textLength="48.8" lengthAdjust="spacingAndGlyphs">423 genes</text>
<rect x="304.6" y="49.2" width="102.6" height="53.0" class="teal"/>
<rect x="304.8" y="202.2" width="101.8" height="53.6" class="teal"/>
<text transform="translate(48.3,101.9) rotate(-90)" class="al" text-anchor="middle" textLength="124.5" lengthAdjust="spacingAndGlyphs">K562 Selinexor log2FC (Nuc/Cyto)</text>
<text transform="translate(285.6,105.3) rotate(-90)" class="al" text-anchor="middle" textLength="126.0" lengthAdjust="spacingAndGlyphs">K562 Selinexor log2FC (Nuc/Cyto)</text>
<text transform="translate(46.0,259.4) rotate(-90)" class="al" text-anchor="middle" textLength="132.0" lengthAdjust="spacingAndGlyphs">K666n Selinexor log2FC (Nuc/Cyto)</text>
<text transform="translate(286.0,260.2) rotate(-90)" class="al" text-anchor="middle" textLength="133.0" lengthAdjust="spacingAndGlyphs">K666N Selinexor log2FC (Nuc/Cyto)</text>
<text x="159.0" y="176.0" class="al" text-anchor="middle" textLength="117.8" lengthAdjust="spacingAndGlyphs">K562 DMSO log2FC (Nuc/Cyto)</text>
<text x="396.5" y="179.0" class="al" text-anchor="middle" textLength="117.8" lengthAdjust="spacingAndGlyphs">K562 DMSO log2FC (Nuc/Cyto)</text>
<text x="157.6" y="336.0" class="al" text-anchor="middle" textLength="122.8" lengthAdjust="spacingAndGlyphs">K666n DMSO log2FC (Nuc/Cyto)</text>
<text x="397.2" y="336.0" class="al" text-anchor="middle" textLength="123.5" lengthAdjust="spacingAndGlyphs">K666N DMSO log2FC (Nuc/Cyto)</text>
<text x="1.0" y="407.7" class="fig">Figure 2</text>
<g transform="translate(0,0)"><path d="M63.6 424.3C63.7 425.6 63.7 429.3 64.2 431.0C64.8 432.8 65.9 433.3 67.0 434.7C68.1 436.1 69.6 437.7 70.8 439.3C71.9 440.8 72.7 442.6 73.9 444.0C75.1 445.4 76.9 447.1 77.7 447.9C76.7 447.9 73.9 447.3 72.9 447.9C72.0 448.5 72.2 450.6 72.0 451.3C71.4 450.3 70.5 447.5 69.2 446.2C67.9 445.0 66.0 444.6 64.1 443.9C62.3 443.1 60.5 441.9 58.0 441.8C55.6 441.7 51.1 442.8 49.4 443.1C50.5 442.1 53.1 439.5 54.7 438.3C56.3 437.1 57.7 436.8 58.9 435.6C60.2 434.4 61.4 433.1 62.2 431.2C63.0 429.3 63.3 425.7 63.6 424.3Z" fill="#bfaca2" stroke="#a89386" stroke-width="0.5" stroke-linejoin="round"/><circle cx="65.2" cy="438.8" r="2.8" fill="#a5806f"/><path d="M19.9 443.1C21.0 443.5 23.6 445.2 25.6 445.2C27.5 445.2 29.1 443.5 31.5 443.1C33.8 442.7 37.6 443.0 39.8 442.8C42.1 442.6 43.6 442.3 44.9 441.9C46.2 441.5 47.1 440.7 47.6 440.4C47.3 441.2 46.0 443.2 46.1 444.4C46.2 445.5 47.6 446.7 48.0 447.3C46.9 447.4 44.3 447.3 42.7 447.7C41.0 448.1 39.5 448.5 37.9 449.4C36.4 450.3 34.5 451.8 33.3 453.1C32.2 454.3 31.6 454.9 31.1 456.9C30.6 458.9 30.5 463.4 30.3 465.0C30.0 463.4 29.4 459.0 28.8 456.9C28.2 454.8 27.6 454.0 26.9 452.5C26.2 451.0 25.6 449.0 24.9 447.7C24.2 446.4 23.4 445.6 22.6 444.8C21.8 444.0 20.4 443.4 19.9 443.1Z" fill="#bfaca2" stroke="#a89386" stroke-width="0.5" stroke-linejoin="round"/><circle cx="33.8" cy="448.1" r="2.8" fill="#a5806f"/><path d="M37.1 458.5C38.5 458.2 41.6 458.2 44.0 457.2C46.4 456.2 49.2 453.9 51.2 452.5C53.3 451.1 54.9 449.9 56.2 448.7C57.4 447.6 58.2 446.3 58.7 445.7C58.7 447.1 58.3 450.9 58.5 452.9C58.8 454.9 59.2 455.9 60.1 457.8C61.0 459.7 63.2 463.2 64.0 464.5C63.1 464.1 61.2 463.0 59.3 462.5C57.4 462.0 55.0 461.4 52.8 461.3C50.5 461.1 47.6 461.0 45.7 461.4C43.8 461.8 42.2 463.3 41.2 463.8C40.2 464.3 40.1 464.4 39.8 464.5C39.8 463.7 40.2 461.5 39.8 460.5C39.3 459.5 37.6 458.9 37.1 458.5Z" fill="#bfaca2" stroke="#a89386" stroke-width="0.5" stroke-linejoin="round"/><circle cx="51.5" cy="455.5" r="2.8" fill="#a5806f"/><path d="M69.6 451.7C70.5 452.4 72.4 454.5 73.9 455.1C75.4 455.6 76.8 455.3 78.6 454.9C80.4 454.6 82.1 453.9 84.5 453.2C86.9 452.5 91.4 451.3 93.1 450.8C92.1 451.8 89.3 454.0 88.3 455.6C87.3 457.2 87.5 458.6 87.0 460.3C86.4 462.0 85.6 464.0 85.1 465.6C84.6 467.2 84.3 468.1 84.0 470.0C83.7 471.9 83.2 475.6 83.0 477.0C82.4 476.0 81.1 473.9 80.0 472.0C78.9 470.1 77.3 467.8 76.3 465.8C75.3 463.8 74.6 461.8 74.1 460.2C73.5 458.6 73.5 457.8 72.8 456.4C72.1 455.0 70.2 452.6 69.6 451.7Z" fill="#bfaca2" stroke="#a89386" stroke-width="0.5" stroke-linejoin="round"/><circle cx="79.7" cy="461.8" r="2.8" fill="#a5806f"/><path d="M36.5 463.8C36.8 464.9 37.0 468.0 38.2 469.5C39.3 470.9 41.4 471.4 43.4 472.7C45.4 474.0 48.1 476.1 50.3 477.4C52.5 478.7 55.3 480.0 56.6 480.7C55.5 481.0 51.8 481.2 51.3 482.0C50.8 482.8 52.9 484.7 53.3 485.4C52.1 484.8 49.6 482.9 47.4 482.3C45.2 481.6 42.3 481.4 40.2 481.4C38.2 481.4 37.1 481.3 35.1 482.0C33.1 482.7 29.7 484.7 28.4 485.4C29.3 484.0 32.0 480.6 33.1 478.6C34.2 476.6 34.3 475.0 34.7 473.2C35.2 471.4 35.5 469.5 35.8 467.9C36.1 466.3 36.4 464.6 36.5 463.8Z" fill="#bfaca2" stroke="#a89386" stroke-width="0.5" stroke-linejoin="round"/><circle cx="42.5" cy="475.7" r="2.8" fill="#a5806f"/><path d="M49.2 469.2C50.7 468.9 54.5 468.4 56.6 467.9C58.7 467.4 60.0 466.9 61.8 466.2C63.6 465.5 65.8 464.8 67.4 463.7C69.0 462.7 70.7 460.6 71.5 459.8C71.3 461.0 70.4 463.7 70.4 466.0C70.4 468.3 71.4 471.1 71.6 473.4C71.8 475.8 71.0 478.0 71.5 480.1C72.1 482.1 74.1 484.8 74.8 486.0C74.0 485.7 72.0 484.6 70.8 484.7C69.6 484.8 68.1 486.3 67.4 486.7C66.8 485.2 65.5 481.3 64.5 479.2C63.5 477.1 62.6 475.5 61.2 474.1C59.9 472.7 58.6 471.4 56.6 470.6C54.6 469.8 50.7 469.5 49.2 469.2Z" fill="#bfaca2" stroke="#a89386" stroke-width="0.5" stroke-linejoin="round"/><circle cx="66.7" cy="472.6" r="2.8" fill="#a5806f"/></g>
<g transform="translate(122.0,0)"><path d="M63.6 424.3C63.7 425.6 63.7 429.3 64.2 431.0C64.8 432.8 65.9 433.3 67.0 434.7C68.1 436.1 69.6 437.7 70.8 439.3C71.9 440.8 72.7 442.6 73.9 444.0C75.1 445.4 76.9 447.1 77.7 447.9C76.7 447.9 73.9 447.3 72.9 447.9C72.0 448.5 72.2 450.6 72.0 451.3C71.4 450.3 70.5 447.5 69.2 446.2C67.9 445.0 66.0 444.6 64.1 443.9C62.3 443.1 60.5 441.9 58.0 441.8C55.6 441.7 51.1 442.8 49.4 443.1C50.5 442.1 53.1 439.5 54.7 438.3C56.3 437.1 57.7 436.8 58.9 435.6C60.2 434.4 61.4 433.1 62.2 431.2C63.0 429.3 63.3 425.7 63.6 424.3Z" fill="#8b4aa3" stroke-linejoin="round"/><circle cx="65.2" cy="438.8" r="2.8" fill="#6c2e86"/><path d="M19.9 443.1C21.0 443.5 23.6 445.2 25.6 445.2C27.5 445.2 29.1 443.5 31.5 443.1C33.8 442.7 37.6 443.0 39.8 442.8C42.1 442.6 43.6 442.3 44.9 441.9C46.2 441.5 47.1 440.7 47.6 440.4C47.3 441.2 46.0 443.2 46.1 444.4C46.2 445.5 47.6 446.7 48.0 447.3C46.9 447.4 44.3 447.3 42.7 447.7C41.0 448.1 39.5 448.5 37.9 449.4C36.4 450.3 34.5 451.8 33.3 453.1C32.2 454.3 31.6 454.9 31.1 456.9C30.6 458.9 30.5 463.4 30.3 465.0C30.0 463.4 29.4 459.0 28.8 456.9C28.2 454.8 27.6 454.0 26.9 452.5C26.2 451.0 25.6 449.0 24.9 447.7C24.2 446.4 23.4 445.6 22.6 444.8C21.8 444.0 20.4 443.4 19.9 443.1Z" fill="#ec8052" stroke-linejoin="round"/><circle cx="33.8" cy="448.1" r="2.8" fill="#d05a28"/><path d="M37.1 458.5C38.5 458.2 41.6 458.2 44.0 457.2C46.4 456.2 49.2 453.9 51.2 452.5C53.3 451.1 54.9 449.9 56.2 448.7C57.4 447.6 58.2 446.3 58.7 445.7C58.7 447.1 58.3 450.9 58.5 452.9C58.8 454.9 59.2 455.9 60.1 457.8C61.0 459.7 63.2 463.2 64.0 464.5C63.1 464.1 61.2 463.0 59.3 462.5C57.4 462.0 55.0 461.4 52.8 461.3C50.5 461.1 47.6 461.0 45.7 461.4C43.8 461.8 42.2 463.3 41.2 463.8C40.2 464.3 40.1 464.4 39.8 464.5C39.8 463.7 40.2 461.5 39.8 460.5C39.3 459.5 37.6 458.9 37.1 458.5Z" fill="#58a658" stroke-linejoin="round"/><circle cx="51.5" cy="455.5" r="2.8" fill="#3a8c3e"/><path d="M69.6 451.7C70.5 452.4 72.4 454.5 73.9 455.1C75.4 455.6 76.8 455.3 78.6 454.9C80.4 454.6 82.1 453.9 84.5 453.2C86.9 452.5 91.4 451.3 93.1 450.8C92.1 451.8 89.3 454.0 88.3 455.6C87.3 457.2 87.5 458.6 87.0 460.3C86.4 462.0 85.6 464.0 85.1 465.6C84.6 467.2 84.3 468.1 84.0 470.0C83.7 471.9 83.2 475.6 83.0 477.0C82.4 476.0 81.1 473.9 80.0 472.0C78.9 470.1 77.3 467.8 76.3 465.8C75.3 463.8 74.6 461.8 74.1 460.2C73.5 458.6 73.5 457.8 72.8 456.4C72.1 455.0 70.2 452.6 69.6 451.7Z" fill="#3a80c2" stroke-linejoin="round"/><circle cx="79.7" cy="461.8" r="2.8" fill="#2461a2"/><path d="M36.5 463.8C36.8 464.9 37.0 468.0 38.2 469.5C39.3 470.9 41.4 471.4 43.4 472.7C45.4 474.0 48.1 476.1 50.3 477.4C52.5 478.7 55.3 480.0 56.6 480.7C55.5 481.0 51.8 481.2 51.3 482.0C50.8 482.8 52.9 484.7 53.3 485.4C52.1 484.8 49.6 482.9 47.4 482.3C45.2 481.6 42.3 481.4 40.2 481.4C38.2 481.4 37.1 481.3 35.1 482.0C33.1 482.7 29.7 484.7 28.4 485.4C29.3 484.0 32.0 480.6 33.1 478.6C34.2 476.6 34.3 475.0 34.7 473.2C35.2 471.4 35.5 469.5 35.8 467.9C36.1 466.3 36.4 464.6 36.5 463.8Z" fill="#e3b443" stroke-linejoin="round"/><circle cx="42.5" cy="475.7" r="2.8" fill="#c48f22"/><path d="M49.2 469.2C50.7 468.9 54.5 468.4 56.6 467.9C58.7 467.4 60.0 466.9 61.8 466.2C63.6 465.5 65.8 464.8 67.4 463.7C69.0 462.7 70.7 460.6 71.5 459.8C71.3 461.0 70.4 463.7 70.4 466.0C70.4 468.3 71.4 471.1 71.6 473.4C71.8 475.8 71.0 478.0 71.5 480.1C72.1 482.1 74.1 484.8 74.8 486.0C74.0 485.7 72.0 484.6 70.8 484.7C69.6 484.8 68.1 486.3 67.4 486.7C66.8 485.2 65.5 481.3 64.5 479.2C63.5 477.1 62.6 475.5 61.2 474.1C59.9 472.7 58.6 471.4 56.6 470.6C54.6 469.8 50.7 469.5 49.2 469.2Z" fill="#d04b40" stroke-linejoin="round"/><circle cx="66.7" cy="472.6" r="2.8" fill="#ad2a26"/></g>
<g transform="translate(246.5,0)"><g transform="translate(3.5,0.3)"><path d="M63.6 424.3C63.7 425.6 63.7 429.3 64.2 431.0C64.8 432.8 65.9 433.3 67.0 434.7C68.1 436.1 69.6 437.7 70.8 439.3C71.9 440.8 72.7 442.6 73.9 444.0C75.1 445.4 76.9 447.1 77.7 447.9C76.7 447.9 73.9 447.3 72.9 447.9C72.0 448.5 72.2 450.6 72.0 451.3C71.4 450.3 70.5 447.5 69.2 446.2C67.9 445.0 66.0 444.6 64.1 443.9C62.3 443.1 60.5 441.9 58.0 441.8C55.6 441.7 51.1 442.8 49.4 443.1C50.5 442.1 53.1 439.5 54.7 438.3C56.3 437.1 57.7 436.8 58.9 435.6C60.2 434.4 61.4 433.1 62.2 431.2C63.0 429.3 63.3 425.7 63.6 424.3Z" fill="#d5d5d5" stroke="#c2c2c2" stroke-width="0.5" stroke-linejoin="round"/><circle cx="65.2" cy="438.8" r="2.8" fill="#adadad"/></g><path d="M19.9 443.1C21.0 443.5 23.6 445.2 25.6 445.2C27.5 445.2 29.1 443.5 31.5 443.1C33.8 442.7 37.6 443.0 39.8 442.8C42.1 442.6 43.6 442.3 44.9 441.9C46.2 441.5 47.1 440.7 47.6 440.4C47.3 441.2 46.0 443.2 46.1 444.4C46.2 445.5 47.6 446.7 48.0 447.3C46.9 447.4 44.3 447.3 42.7 447.7C41.0 448.1 39.5 448.5 37.9 449.4C36.4 450.3 34.5 451.8 33.3 453.1C32.2 454.3 31.6 454.9 31.1 456.9C30.6 458.9 30.5 463.4 30.3 465.0C30.0 463.4 29.4 459.0 28.8 456.9C28.2 454.8 27.6 454.0 26.9 452.5C26.2 451.0 25.6 449.0 24.9 447.7C24.2 446.4 23.4 445.6 22.6 444.8C21.8 444.0 20.4 443.4 19.9 443.1Z" fill="#ec8052" stroke-linejoin="round"/><circle cx="33.8" cy="448.1" r="2.8" fill="#d05a28"/><path d="M37.1 458.5C38.5 458.2 41.6 458.2 44.0 457.2C46.4 456.2 49.2 453.9 51.2 452.5C53.3 451.1 54.9 449.9 56.2 448.7C57.4 447.6 58.2 446.3 58.7 445.7C58.7 447.1 58.3 450.9 58.5 452.9C58.8 454.9 59.2 455.9 60.1 457.8C61.0 459.7 63.2 463.2 64.0 464.5C63.1 464.1 61.2 463.0 59.3 462.5C57.4 462.0 55.0 461.4 52.8 461.3C50.5 461.1 47.6 461.0 45.7 461.4C43.8 461.8 42.2 463.3 41.2 463.8C40.2 464.3 40.1 464.4 39.8 464.5C39.8 463.7 40.2 461.5 39.8 460.5C39.3 459.5 37.6 458.9 37.1 458.5Z" fill="#58a658" stroke-linejoin="round"/><circle cx="51.5" cy="455.5" r="2.8" fill="#3a8c3e"/><path d="M69.6 451.7C70.5 452.4 72.4 454.5 73.9 455.1C75.4 455.6 76.8 455.3 78.6 454.9C80.4 454.6 82.1 453.9 84.5 453.2C86.9 452.5 91.4 451.3 93.1 450.8C92.1 451.8 89.3 454.0 88.3 455.6C87.3 457.2 87.5 458.6 87.0 460.3C86.4 462.0 85.6 464.0 85.1 465.6C84.6 467.2 84.3 468.1 84.0 470.0C83.7 471.9 83.2 475.6 83.0 477.0C82.4 476.0 81.1 473.9 80.0 472.0C78.9 470.1 77.3 467.8 76.3 465.8C75.3 463.8 74.6 461.8 74.1 460.2C73.5 458.6 73.5 457.8 72.8 456.4C72.1 455.0 70.2 452.6 69.6 451.7Z" fill="#d5d5d5" stroke="#c2c2c2" stroke-width="0.5" stroke-linejoin="round"/><circle cx="79.7" cy="461.8" r="2.8" fill="#adadad"/><path d="M36.5 463.8C36.8 464.9 37.0 468.0 38.2 469.5C39.3 470.9 41.4 471.4 43.4 472.7C45.4 474.0 48.1 476.1 50.3 477.4C52.5 478.7 55.3 480.0 56.6 480.7C55.5 481.0 51.8 481.2 51.3 482.0C50.8 482.8 52.9 484.7 53.3 485.4C52.1 484.8 49.6 482.9 47.4 482.3C45.2 481.6 42.3 481.4 40.2 481.4C38.2 481.4 37.1 481.3 35.1 482.0C33.1 482.7 29.7 484.7 28.4 485.4C29.3 484.0 32.0 480.6 33.1 478.6C34.2 476.6 34.3 475.0 34.7 473.2C35.2 471.4 35.5 469.5 35.8 467.9C36.1 466.3 36.4 464.6 36.5 463.8Z" fill="#e3b443" stroke-linejoin="round"/><circle cx="42.5" cy="475.7" r="2.8" fill="#c48f22"/><g transform="translate(0.6,1.0)"><path d="M49.2 469.2C50.7 468.9 54.5 468.4 56.6 467.9C58.7 467.4 60.0 466.9 61.8 466.2C63.6 465.5 65.8 464.8 67.4 463.7C69.0 462.7 70.7 460.6 71.5 459.8C71.3 461.0 70.4 463.7 70.4 466.0C70.4 468.3 71.4 471.1 71.6 473.4C71.8 475.8 71.0 478.0 71.5 480.1C72.1 482.1 74.1 484.8 74.8 486.0C74.0 485.7 72.0 484.6 70.8 484.7C69.6 484.8 68.1 486.3 67.4 486.7C66.8 485.2 65.5 481.3 64.5 479.2C63.5 477.1 62.6 475.5 61.2 474.1C59.9 472.7 58.6 471.4 56.6 470.6C54.6 469.8 50.7 469.5 49.2 469.2Z" fill="#d5d5d5" stroke="#c2c2c2" stroke-width="0.5" stroke-linejoin="round"/><circle cx="66.7" cy="472.6" r="2.8" fill="#adadad"/></g></g>
<text x="98.4" y="420.2" class="cas">cas9</text>
<path d="M122.4 416.3C126 416 128 420 127.2 424C126.4 429 124 432.5 119 434.8C114 436.5 107 435 104.6 431.6C103 429 104.5 427 107.5 426.3C111 425.5 115 425 117 422.5C118.5 420.5 119 416.8 122.4 416.3Z" fill="#5b4a9e"/>
<path d="M116.6 440.3V447.5Q116.6 455.3 124.5 455.3M117.1 470.6V463.2Q117.1 455.3 124.5 455.3M98.4 455.3H138" fill="none" stroke="#1a1a1a" stroke-width="1.2"/>
<path d="M141.5 455.3L136.8 452.6V458Z" fill="#1a1a1a"/>
<path d="M96.6 480.0L102.7 475.7A0.90 0.90 0 0 1 103.8 477.2L97.6 481.5A0.90 0.90 0 0 0 98.6 483.0L104.8 478.7A0.90 0.90 0 0 1 105.8 480.2L99.7 484.5" fill="none" stroke="#dcb2d8" stroke-width="0.85" stroke-linecap="round"/>
<path d="M109.7 479.3L117.4 475.7A0.95 0.95 0 0 1 118.3 477.4L110.5 481.0A0.95 0.95 0 0 0 111.3 482.8L119.1 479.2A0.95 0.95 0 0 1 119.9 480.9L112.2 484.5" fill="none" stroke="#79aedb" stroke-width="0.85" stroke-linecap="round"/>
<path d="M123.3 481.6L129.0 476.8A0.95 0.95 0 0 1 130.3 478.3L124.5 483.1A0.95 0.95 0 0 0 125.7 484.5L131.5 479.7A0.95 0.95 0 0 1 132.7 481.2L127.0 486.0" fill="none" stroke="#f0c7a0" stroke-width="0.85" stroke-linecap="round"/>
<path d="M101.5 487.6L109.7 489.8A0.90 0.90 0 0 1 109.2 491.5L101.0 489.3A0.90 0.90 0 0 0 100.6 491.1L108.8 493.3A0.90 0.90 0 0 1 108.3 495.0L100.1 492.8" fill="none" stroke="#86ab90" stroke-width="0.85" stroke-linecap="round"/>
<path d="M113.1 486.5L121.6 487.3A0.90 0.90 0 0 1 121.4 489.1L112.9 488.3A0.90 0.90 0 0 0 112.8 490.1L121.3 490.9A0.90 0.90 0 0 1 121.1 492.7L112.6 491.9" fill="none" stroke="#e9a49c" stroke-width="0.85" stroke-linecap="round"/>
<path d="M124.9 494.2L129.2 488.1A0.95 0.95 0 0 1 130.8 489.2L126.5 495.3A0.95 0.95 0 0 0 128.0 496.4L132.3 490.3A0.95 0.95 0 0 1 133.9 491.4L129.6 497.5" fill="none" stroke="#f2d6a2" stroke-width="0.85" stroke-linecap="round"/>
<text x="104" y="505.8" class="small" style="stroke-width:0.05px">sgRNA</text>
<text x="242.5" y="436.4" class="small" text-anchor="middle">Control</text>
<text x="242.5" y="444.9" class="small" text-anchor="middle">or</text>
<text x="242.6" y="453.0" class="small" text-anchor="middle">Eltanexor</text>
<path d="M220.8 455.4H262" stroke="#1a1a1a" stroke-width="1.2"/>
<path d="M265.2 455.4L260.4 452.7V458.1Z" fill="#1a1a1a"/>
<text x="304.6" y="497.9" class="small" text-anchor="middle" style="font-size:7.4px">Selection</text>
<path d="M344 454.6H385" stroke="#1a1a1a" stroke-width="1.2"/>
<path d="M388.6 454.6L383.8 451.9V457.3Z" fill="#1a1a1a"/>
<text x="433.2" y="450.6" class="amp" text-anchor="middle">Amplification of sgRNA</text>
<text x="433.2" y="458.9" class="amp" text-anchor="middle">followed by next</text>
<text x="433.2" y="467.3" class="amp" text-anchor="middle">generation sequencing</text>
<defs><linearGradient id="gp" gradientUnits="userSpaceOnUse" x1="70" x2="120" y1="0" y2="0"><stop offset="0" stop-color="#ffffff"/><stop offset="0.5" stop-color="#eef2f9"/><stop offset="0.78" stop-color="#d3dfef"/><stop offset="1" stop-color="#aac1e0"/></linearGradient><linearGradient id="gn" gradientUnits="userSpaceOnUse" x1="301" x2="368" y1="0" y2="0"><stop offset="0" stop-color="#b5cbe7"/><stop offset="0.3" stop-color="#d6e1f0"/><stop offset="0.65" stop-color="#ecf0f8"/><stop offset="1" stop-color="#fbfcfe"/></linearGradient></defs>
<path d="M70 567.5L120 571.2V608.5L70 614Z" fill="url(#gp)"/>
<path d="M301.2 682.3L366 675V758.5L301.2 747.2Z" fill="url(#gn)"/>
<path d="M53.4 526.2V772.2" stroke="#222" stroke-width="1.1" fill="none"/>
<path d="M45.2 772.2H53.4" stroke="#222" stroke-width="1.1"/>
<path d="M45.2 731.2H53.4" stroke="#222" stroke-width="1.1"/>
<path d="M45.2 690.2H53.4" stroke="#222" stroke-width="1.1"/>
<path d="M45.2 649.2H53.4" stroke="#222" stroke-width="1.1"/>
<path d="M45.2 608.2H53.4" stroke="#222" stroke-width="1.1"/>
<path d="M45.2 567.2H53.4" stroke="#222" stroke-width="1.1"/>
<path d="M45.2 526.2H53.4" stroke="#222" stroke-width="1.1"/>
<text x="44.3" y="530.4" class="ct" text-anchor="end">3</text>
<text x="44.3" y="570.7" class="ct" text-anchor="end">2</text>
<text x="42.7" y="612.7" class="ct" text-anchor="end">1</text>
<text x="42.7" y="651.4" class="ct" text-anchor="end">0</text>
<text x="43.2" y="694.0" class="ct" text-anchor="end">-1</text>
<text x="43.0" y="735.2" class="ct" text-anchor="end">-2</text>
<text x="43.5" y="776.1" class="ct" text-anchor="end">-3</text>
<path d="M53.4 649.2H381.8" stroke="#222" stroke-width="1.1"/>
<text transform="translate(24.4,651) rotate(-90)" class="clab" text-anchor="middle">CRISPR Score</text>
<path d="M69.0 595.5C69.0 597.2 69.1 602.6 69.2 606.0C69.3 609.4 69.5 613.2 69.8 616.0C70.1 618.8 70.6 620.6 71.3 622.5C72.0 624.4 72.7 626.1 73.8 627.4C74.9 628.7 76.5 629.6 78.0 630.4C79.5 631.2 80.8 631.6 83.1 632.3C85.4 633.0 88.9 634.0 92.0 634.8C95.1 635.6 97.7 636.2 101.5 636.9C105.3 637.6 109.9 638.5 115.0 639.2C120.1 639.9 126.5 640.7 132.3 641.3C138.1 641.9 142.9 642.2 150.0 642.7C157.1 643.2 166.7 643.9 175.0 644.5C183.3 645.1 191.7 645.8 200.0 646.4C208.3 647.0 216.7 647.8 225.0 648.3C233.3 648.8 240.8 649.1 250.0 649.5C259.2 649.9 270.0 650.4 280.0 650.8C290.0 651.2 300.8 651.5 310.0 651.9C319.2 652.3 328.3 652.9 335.0 653.4C341.7 653.9 346.2 654.4 350.0 654.9C353.8 655.4 355.8 656.0 358.0 656.6C360.2 657.2 361.6 657.8 363.0 658.8C364.4 659.8 365.6 660.8 366.5 662.3C367.4 663.8 368.0 665.5 368.5 667.5C369.0 669.5 369.2 671.6 369.5 674.0C369.8 676.4 369.9 680.7 370.0 682.0" fill="none" stroke="#b8b8b8" stroke-width="2.6" stroke-linecap="round"/>
<path d="M369.6 672V690" stroke="#d8b4b8" stroke-width="2" opacity="0.8"/>
<circle cx="68.7" cy="567.3" r="0.9" fill="#c47f88"/>
<circle cx="69.0" cy="587.6" r="0.9" fill="#c47f88"/>
<circle cx="69.0" cy="595.3" r="0.9" fill="#c47f88"/>
<circle cx="369.0" cy="759.0" r="0.9" fill="#c47f88"/>
<circle cx="368.6" cy="695.4" r="0.9" fill="#c47f88"/>
<circle cx="368.6" cy="704.6" r="0.9" fill="#c47f88"/>
<text x="71.0" y="570.8" class="gl">RIC8A</text>
<text x="71.7" y="589.5" class="gl">ALAD</text>
<text x="72.8" y="599.2" class="gl">CHD7</text>
<text x="74.0" y="616.8" class="gl">TP53</text>
<text x="322.5" y="670.7" class="gl">BCL2L1</text>
<text x="341.8" y="679.4" class="gl">ILF3</text>
<text x="329.8" y="687.7" class="gl">CARM1</text>
<text x="329.8" y="696.0" class="gl">PRMT7</text>
<text x="371.4" y="670.7" class="gl">CHD2</text>
<text x="373.2" y="680.3" class="gl">NXT1</text>
<text x="375.0" y="689.5" class="gl">TOP2B</text>
<text x="374.5" y="761.5" class="gl">ASB8</text>
<text x="122.5" y="592.9" class="hits">Positive hits</text>
<text x="232.0" y="711.9" class="hits">Negative hits</text>
</svg></body></html>
